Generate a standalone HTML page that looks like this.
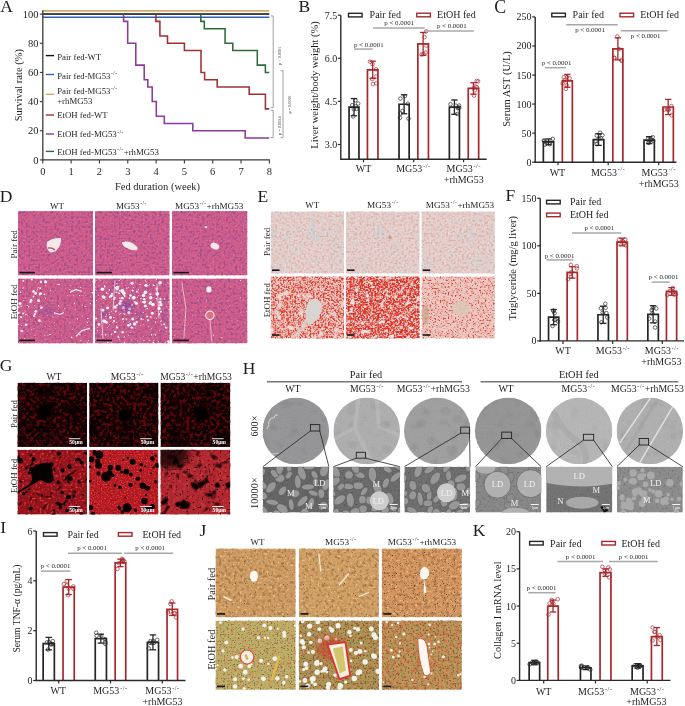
<!DOCTYPE html>
<html><head><meta charset="utf-8"><style>
html,body{margin:0;padding:0;background:#fff;}
svg{display:block;will-change:transform;opacity:0.999;}
text{font-family:'Liberation Serif', serif;}
</style></head><body>
<svg width="685" height="706" viewBox="0 0 685 706">
<defs><filter id="soft" x="-50%" y="-50%" width="200%" height="200%"><feGaussianBlur stdDeviation="2.5"/></filter><radialGradient id="gdark"><stop offset="0" stop-color="#000" stop-opacity="1"/><stop offset="0.6" stop-color="#000" stop-opacity="0.9"/><stop offset="1" stop-color="#000" stop-opacity="0"/></radialGradient><clipPath id="c1"><rect x="17.90" y="211.10" width="75.20" height="64.50"/></clipPath><filter id="f2" x="0" y="0" width="100%" height="100%" color-interpolation-filters="sRGB"><feTurbulence type="fractalNoise" baseFrequency="0.42" numOctaves="1" seed="10"/><feColorMatrix type="matrix" values="0 0 0 0 0.463 0 0 0 0 0.259 0 0 0 0 0.549 1 0 0 0 0"/><feComponentTransfer><feFuncA type="linear" slope="5" intercept="-2.45"/></feComponentTransfer><feGaussianBlur stdDeviation="0.5"/><feComponentTransfer><feFuncA type="linear" slope="0.5"/></feComponentTransfer></filter><filter id="f3" x="0" y="0" width="100%" height="100%" color-interpolation-filters="sRGB"><feTurbulence type="fractalNoise" baseFrequency="0.6" numOctaves="1" seed="50"/><feColorMatrix type="matrix" values="0 0 0 0 0.925 0 0 0 0 0.588 0 0 0 0 0.725 1 0 0 0 0"/><feComponentTransfer><feFuncA type="linear" slope="5" intercept="-2.9"/></feComponentTransfer><feGaussianBlur stdDeviation="0.4"/><feComponentTransfer><feFuncA type="linear" slope="0.45"/></feComponentTransfer></filter><clipPath id="c4"><rect x="95.00" y="211.10" width="74.70" height="64.50"/></clipPath><filter id="f5" x="0" y="0" width="100%" height="100%" color-interpolation-filters="sRGB"><feTurbulence type="fractalNoise" baseFrequency="0.42" numOctaves="1" seed="11"/><feColorMatrix type="matrix" values="0 0 0 0 0.463 0 0 0 0 0.259 0 0 0 0 0.549 1 0 0 0 0"/><feComponentTransfer><feFuncA type="linear" slope="5" intercept="-2.45"/></feComponentTransfer><feGaussianBlur stdDeviation="0.5"/><feComponentTransfer><feFuncA type="linear" slope="0.5"/></feComponentTransfer></filter><filter id="f6" x="0" y="0" width="100%" height="100%" color-interpolation-filters="sRGB"><feTurbulence type="fractalNoise" baseFrequency="0.6" numOctaves="1" seed="51"/><feColorMatrix type="matrix" values="0 0 0 0 0.925 0 0 0 0 0.588 0 0 0 0 0.725 1 0 0 0 0"/><feComponentTransfer><feFuncA type="linear" slope="5" intercept="-2.9"/></feComponentTransfer><feGaussianBlur stdDeviation="0.4"/><feComponentTransfer><feFuncA type="linear" slope="0.45"/></feComponentTransfer></filter><clipPath id="c7"><rect x="171.90" y="211.10" width="75.60" height="64.50"/></clipPath><filter id="f8" x="0" y="0" width="100%" height="100%" color-interpolation-filters="sRGB"><feTurbulence type="fractalNoise" baseFrequency="0.42" numOctaves="1" seed="12"/><feColorMatrix type="matrix" values="0 0 0 0 0.463 0 0 0 0 0.259 0 0 0 0 0.549 1 0 0 0 0"/><feComponentTransfer><feFuncA type="linear" slope="5" intercept="-2.45"/></feComponentTransfer><feGaussianBlur stdDeviation="0.5"/><feComponentTransfer><feFuncA type="linear" slope="0.5"/></feComponentTransfer></filter><filter id="f9" x="0" y="0" width="100%" height="100%" color-interpolation-filters="sRGB"><feTurbulence type="fractalNoise" baseFrequency="0.6" numOctaves="1" seed="52"/><feColorMatrix type="matrix" values="0 0 0 0 0.925 0 0 0 0 0.588 0 0 0 0 0.725 1 0 0 0 0"/><feComponentTransfer><feFuncA type="linear" slope="5" intercept="-2.9"/></feComponentTransfer><feGaussianBlur stdDeviation="0.4"/><feComponentTransfer><feFuncA type="linear" slope="0.45"/></feComponentTransfer></filter><clipPath id="c10"><rect x="17.90" y="278.40" width="75.20" height="65.00"/></clipPath><filter id="f11" x="0" y="0" width="100%" height="100%" color-interpolation-filters="sRGB"><feTurbulence type="fractalNoise" baseFrequency="0.42" numOctaves="1" seed="13"/><feColorMatrix type="matrix" values="0 0 0 0 0.463 0 0 0 0 0.259 0 0 0 0 0.549 1 0 0 0 0"/><feComponentTransfer><feFuncA type="linear" slope="5" intercept="-2.45"/></feComponentTransfer><feGaussianBlur stdDeviation="0.5"/><feComponentTransfer><feFuncA type="linear" slope="0.5"/></feComponentTransfer></filter><filter id="f12" x="0" y="0" width="100%" height="100%" color-interpolation-filters="sRGB"><feTurbulence type="fractalNoise" baseFrequency="0.6" numOctaves="1" seed="53"/><feColorMatrix type="matrix" values="0 0 0 0 0.925 0 0 0 0 0.588 0 0 0 0 0.725 1 0 0 0 0"/><feComponentTransfer><feFuncA type="linear" slope="5" intercept="-2.9"/></feComponentTransfer><feGaussianBlur stdDeviation="0.4"/><feComponentTransfer><feFuncA type="linear" slope="0.45"/></feComponentTransfer></filter><filter id="f13" x="0" y="0" width="100%" height="100%" color-interpolation-filters="sRGB"><feTurbulence type="fractalNoise" baseFrequency="0.38" numOctaves="2" seed="20"/><feColorMatrix type="matrix" values="0 0 0 0 0.980 0 0 0 0 0.961 0 0 0 0 0.973 1 0 0 0 0"/><feComponentTransfer><feFuncA type="linear" slope="7" intercept="-4.9"/></feComponentTransfer><feGaussianBlur stdDeviation="0.3"/></filter><clipPath id="c14"><rect x="95.00" y="278.40" width="74.70" height="65.00"/></clipPath><filter id="f15" x="0" y="0" width="100%" height="100%" color-interpolation-filters="sRGB"><feTurbulence type="fractalNoise" baseFrequency="0.42" numOctaves="1" seed="14"/><feColorMatrix type="matrix" values="0 0 0 0 0.463 0 0 0 0 0.259 0 0 0 0 0.549 1 0 0 0 0"/><feComponentTransfer><feFuncA type="linear" slope="5" intercept="-2.45"/></feComponentTransfer><feGaussianBlur stdDeviation="0.5"/><feComponentTransfer><feFuncA type="linear" slope="0.5"/></feComponentTransfer></filter><filter id="f16" x="0" y="0" width="100%" height="100%" color-interpolation-filters="sRGB"><feTurbulence type="fractalNoise" baseFrequency="0.6" numOctaves="1" seed="54"/><feColorMatrix type="matrix" values="0 0 0 0 0.925 0 0 0 0 0.588 0 0 0 0 0.725 1 0 0 0 0"/><feComponentTransfer><feFuncA type="linear" slope="5" intercept="-2.9"/></feComponentTransfer><feGaussianBlur stdDeviation="0.4"/><feComponentTransfer><feFuncA type="linear" slope="0.45"/></feComponentTransfer></filter><filter id="f17" x="0" y="0" width="100%" height="100%" color-interpolation-filters="sRGB"><feTurbulence type="fractalNoise" baseFrequency="0.38" numOctaves="2" seed="21"/><feColorMatrix type="matrix" values="0 0 0 0 0.980 0 0 0 0 0.961 0 0 0 0 0.973 1 0 0 0 0"/><feComponentTransfer><feFuncA type="linear" slope="7" intercept="-4.6"/></feComponentTransfer><feGaussianBlur stdDeviation="0.3"/></filter><filter id="f18" x="0" y="0" width="100%" height="100%" color-interpolation-filters="sRGB"><feTurbulence type="fractalNoise" baseFrequency="0.1" numOctaves="2" seed="23"/><feColorMatrix type="matrix" values="0 0 0 0 0.471 0 0 0 0 0.314 0 0 0 0 0.627 1 0 0 0 0"/><feComponentTransfer><feFuncA type="linear" slope="5" intercept="-2.9"/></feComponentTransfer><feGaussianBlur stdDeviation="0.6"/><feComponentTransfer><feFuncA type="linear" slope="0.35"/></feComponentTransfer></filter><clipPath id="c19"><rect x="171.90" y="278.40" width="75.60" height="65.00"/></clipPath><filter id="f20" x="0" y="0" width="100%" height="100%" color-interpolation-filters="sRGB"><feTurbulence type="fractalNoise" baseFrequency="0.42" numOctaves="1" seed="15"/><feColorMatrix type="matrix" values="0 0 0 0 0.463 0 0 0 0 0.259 0 0 0 0 0.549 1 0 0 0 0"/><feComponentTransfer><feFuncA type="linear" slope="5" intercept="-2.45"/></feComponentTransfer><feGaussianBlur stdDeviation="0.5"/><feComponentTransfer><feFuncA type="linear" slope="0.5"/></feComponentTransfer></filter><filter id="f21" x="0" y="0" width="100%" height="100%" color-interpolation-filters="sRGB"><feTurbulence type="fractalNoise" baseFrequency="0.6" numOctaves="1" seed="55"/><feColorMatrix type="matrix" values="0 0 0 0 0.925 0 0 0 0 0.588 0 0 0 0 0.725 1 0 0 0 0"/><feComponentTransfer><feFuncA type="linear" slope="5" intercept="-2.9"/></feComponentTransfer><feGaussianBlur stdDeviation="0.4"/><feComponentTransfer><feFuncA type="linear" slope="0.45"/></feComponentTransfer></filter><filter id="f22" x="0" y="0" width="100%" height="100%" color-interpolation-filters="sRGB"><feTurbulence type="fractalNoise" baseFrequency="0.38" numOctaves="2" seed="22"/><feColorMatrix type="matrix" values="0 0 0 0 0.980 0 0 0 0 0.961 0 0 0 0 0.973 1 0 0 0 0"/><feComponentTransfer><feFuncA type="linear" slope="7" intercept="-5.2"/></feComponentTransfer><feGaussianBlur stdDeviation="0.3"/></filter><clipPath id="c23"><rect x="270.80" y="211.40" width="73.30" height="62.20"/></clipPath><filter id="f24" x="0" y="0" width="100%" height="100%" color-interpolation-filters="sRGB"><feTurbulence type="fractalNoise" baseFrequency="0.07" numOctaves="2" seed="30"/><feColorMatrix type="matrix" values="0 0 0 0 0.776 0 0 0 0 0.839 0 0 0 0 0.863 1 0 0 0 0"/><feComponentTransfer><feFuncA type="linear" slope="4" intercept="-2.2"/></feComponentTransfer><feGaussianBlur stdDeviation="0.8"/><feComponentTransfer><feFuncA type="linear" slope="0.5"/></feComponentTransfer></filter><filter id="f25" x="0" y="0" width="100%" height="100%" color-interpolation-filters="sRGB"><feTurbulence type="fractalNoise" baseFrequency="0.6" numOctaves="1" seed="41"/><feColorMatrix type="matrix" values="0 0 0 0 0.776 0 0 0 0 0.839 0 0 0 0 0.863 1 0 0 0 0"/><feComponentTransfer><feFuncA type="linear" slope="5" intercept="-2.5"/></feComponentTransfer><feGaussianBlur stdDeviation="0.45"/><feComponentTransfer><feFuncA type="linear" slope="0.7"/></feComponentTransfer></filter><filter id="f26" x="0" y="0" width="100%" height="100%" color-interpolation-filters="sRGB"><feTurbulence type="fractalNoise" baseFrequency="0.45" numOctaves="1" seed="35"/><feColorMatrix type="matrix" values="0 0 0 0 0.871 0 0 0 0 0.620 0 0 0 0 0.580 1 0 0 0 0"/><feComponentTransfer><feFuncA type="linear" slope="5" intercept="-2.4"/></feComponentTransfer><feGaussianBlur stdDeviation="0.5"/><feComponentTransfer><feFuncA type="linear" slope="0.6"/></feComponentTransfer></filter><filter id="f27" x="0" y="0" width="100%" height="100%" color-interpolation-filters="sRGB"><feTurbulence type="fractalNoise" baseFrequency="0.6" numOctaves="1" seed="38"/><feColorMatrix type="matrix" values="0 0 0 0 0.965 0 0 0 0 0.925 0 0 0 0 0.918 1 0 0 0 0"/><feComponentTransfer><feFuncA type="linear" slope="5" intercept="-2.8"/></feComponentTransfer><feGaussianBlur stdDeviation="0.4"/><feComponentTransfer><feFuncA type="linear" slope="0.5"/></feComponentTransfer></filter><clipPath id="c28"><rect x="345.90" y="211.40" width="73.70" height="62.20"/></clipPath><filter id="f29" x="0" y="0" width="100%" height="100%" color-interpolation-filters="sRGB"><feTurbulence type="fractalNoise" baseFrequency="0.07" numOctaves="2" seed="31"/><feColorMatrix type="matrix" values="0 0 0 0 0.776 0 0 0 0 0.839 0 0 0 0 0.863 1 0 0 0 0"/><feComponentTransfer><feFuncA type="linear" slope="4" intercept="-2.2"/></feComponentTransfer><feGaussianBlur stdDeviation="0.8"/><feComponentTransfer><feFuncA type="linear" slope="0.5"/></feComponentTransfer></filter><filter id="f30" x="0" y="0" width="100%" height="100%" color-interpolation-filters="sRGB"><feTurbulence type="fractalNoise" baseFrequency="0.6" numOctaves="1" seed="42"/><feColorMatrix type="matrix" values="0 0 0 0 0.776 0 0 0 0 0.839 0 0 0 0 0.863 1 0 0 0 0"/><feComponentTransfer><feFuncA type="linear" slope="5" intercept="-2.5"/></feComponentTransfer><feGaussianBlur stdDeviation="0.45"/><feComponentTransfer><feFuncA type="linear" slope="0.7"/></feComponentTransfer></filter><filter id="f31" x="0" y="0" width="100%" height="100%" color-interpolation-filters="sRGB"><feTurbulence type="fractalNoise" baseFrequency="0.45" numOctaves="1" seed="36"/><feColorMatrix type="matrix" values="0 0 0 0 0.871 0 0 0 0 0.620 0 0 0 0 0.580 1 0 0 0 0"/><feComponentTransfer><feFuncA type="linear" slope="5" intercept="-2.4"/></feComponentTransfer><feGaussianBlur stdDeviation="0.5"/><feComponentTransfer><feFuncA type="linear" slope="0.6"/></feComponentTransfer></filter><filter id="f32" x="0" y="0" width="100%" height="100%" color-interpolation-filters="sRGB"><feTurbulence type="fractalNoise" baseFrequency="0.6" numOctaves="1" seed="39"/><feColorMatrix type="matrix" values="0 0 0 0 0.965 0 0 0 0 0.925 0 0 0 0 0.918 1 0 0 0 0"/><feComponentTransfer><feFuncA type="linear" slope="5" intercept="-2.8"/></feComponentTransfer><feGaussianBlur stdDeviation="0.4"/><feComponentTransfer><feFuncA type="linear" slope="0.5"/></feComponentTransfer></filter><clipPath id="c33"><rect x="421.50" y="211.40" width="73.40" height="62.20"/></clipPath><filter id="f34" x="0" y="0" width="100%" height="100%" color-interpolation-filters="sRGB"><feTurbulence type="fractalNoise" baseFrequency="0.07" numOctaves="2" seed="32"/><feColorMatrix type="matrix" values="0 0 0 0 0.776 0 0 0 0 0.839 0 0 0 0 0.863 1 0 0 0 0"/><feComponentTransfer><feFuncA type="linear" slope="4" intercept="-2.2"/></feComponentTransfer><feGaussianBlur stdDeviation="0.8"/><feComponentTransfer><feFuncA type="linear" slope="0.5"/></feComponentTransfer></filter><filter id="f35" x="0" y="0" width="100%" height="100%" color-interpolation-filters="sRGB"><feTurbulence type="fractalNoise" baseFrequency="0.6" numOctaves="1" seed="43"/><feColorMatrix type="matrix" values="0 0 0 0 0.776 0 0 0 0 0.839 0 0 0 0 0.863 1 0 0 0 0"/><feComponentTransfer><feFuncA type="linear" slope="5" intercept="-2.5"/></feComponentTransfer><feGaussianBlur stdDeviation="0.45"/><feComponentTransfer><feFuncA type="linear" slope="0.7"/></feComponentTransfer></filter><filter id="f36" x="0" y="0" width="100%" height="100%" color-interpolation-filters="sRGB"><feTurbulence type="fractalNoise" baseFrequency="0.45" numOctaves="1" seed="37"/><feColorMatrix type="matrix" values="0 0 0 0 0.871 0 0 0 0 0.620 0 0 0 0 0.580 1 0 0 0 0"/><feComponentTransfer><feFuncA type="linear" slope="5" intercept="-2.4"/></feComponentTransfer><feGaussianBlur stdDeviation="0.5"/><feComponentTransfer><feFuncA type="linear" slope="0.6"/></feComponentTransfer></filter><filter id="f37" x="0" y="0" width="100%" height="100%" color-interpolation-filters="sRGB"><feTurbulence type="fractalNoise" baseFrequency="0.6" numOctaves="1" seed="40"/><feColorMatrix type="matrix" values="0 0 0 0 0.965 0 0 0 0 0.925 0 0 0 0 0.918 1 0 0 0 0"/><feComponentTransfer><feFuncA type="linear" slope="5" intercept="-2.8"/></feComponentTransfer><feGaussianBlur stdDeviation="0.4"/><feComponentTransfer><feFuncA type="linear" slope="0.5"/></feComponentTransfer></filter><clipPath id="c38"><rect x="270.80" y="276.40" width="73.30" height="62.00"/></clipPath><filter id="f39" x="0" y="0" width="100%" height="100%" color-interpolation-filters="sRGB"><feTurbulence type="fractalNoise" baseFrequency="0.6" numOctaves="1" seed="33"/><feColorMatrix type="matrix" values="0 0 0 0 0.871 0 0 0 0 0.235 0 0 0 0 0.180 1 0 0 0 0"/><feComponentTransfer><feFuncA type="linear" slope="5" intercept="-2.2"/></feComponentTransfer><feGaussianBlur stdDeviation="0.4"/></filter><filter id="f40" x="0" y="0" width="100%" height="100%" color-interpolation-filters="sRGB"><feTurbulence type="fractalNoise" baseFrequency="0.3" numOctaves="1" seed="42"/><feColorMatrix type="matrix" values="0 0 0 0 0.843 0 0 0 0 0.176 0 0 0 0 0.137 1 0 0 0 0"/><feComponentTransfer><feFuncA type="linear" slope="6" intercept="-3.7"/></feComponentTransfer><feGaussianBlur stdDeviation="0.5"/><feComponentTransfer><feFuncA type="linear" slope="0.8"/></feComponentTransfer></filter><filter id="f41" x="0" y="0" width="100%" height="100%" color-interpolation-filters="sRGB"><feTurbulence type="fractalNoise" baseFrequency="0.12" numOctaves="2" seed="36"/><feColorMatrix type="matrix" values="0 0 0 0 0.925 0 0 0 0 0.894 0 0 0 0 0.878 1 0 0 0 0"/><feComponentTransfer><feFuncA type="linear" slope="6" intercept="-3.5"/></feComponentTransfer><feGaussianBlur stdDeviation="0.6"/><feComponentTransfer><feFuncA type="linear" slope="0.8"/></feComponentTransfer></filter><clipPath id="c42"><rect x="345.90" y="276.40" width="73.70" height="62.00"/></clipPath><filter id="f43" x="0" y="0" width="100%" height="100%" color-interpolation-filters="sRGB"><feTurbulence type="fractalNoise" baseFrequency="0.6" numOctaves="1" seed="34"/><feColorMatrix type="matrix" values="0 0 0 0 0.871 0 0 0 0 0.204 0 0 0 0 0.157 1 0 0 0 0"/><feComponentTransfer><feFuncA type="linear" slope="5" intercept="-1.9"/></feComponentTransfer><feGaussianBlur stdDeviation="0.4"/></filter><filter id="f44" x="0" y="0" width="100%" height="100%" color-interpolation-filters="sRGB"><feTurbulence type="fractalNoise" baseFrequency="0.3" numOctaves="1" seed="43"/><feColorMatrix type="matrix" values="0 0 0 0 0.843 0 0 0 0 0.165 0 0 0 0 0.125 1 0 0 0 0"/><feComponentTransfer><feFuncA type="linear" slope="6" intercept="-3.4"/></feComponentTransfer><feGaussianBlur stdDeviation="0.5"/><feComponentTransfer><feFuncA type="linear" slope="0.8"/></feComponentTransfer></filter><filter id="f45" x="0" y="0" width="100%" height="100%" color-interpolation-filters="sRGB"><feTurbulence type="fractalNoise" baseFrequency="0.2" numOctaves="2" seed="37"/><feColorMatrix type="matrix" values="0 0 0 0 0.902 0 0 0 0 0.878 0 0 0 0 0.871 1 0 0 0 0"/><feComponentTransfer><feFuncA type="linear" slope="7" intercept="-4.1"/></feComponentTransfer><feGaussianBlur stdDeviation="0.4"/></filter><clipPath id="c46"><rect x="421.50" y="276.40" width="73.40" height="62.00"/></clipPath><filter id="f47" x="0" y="0" width="100%" height="100%" color-interpolation-filters="sRGB"><feTurbulence type="fractalNoise" baseFrequency="0.6" numOctaves="1" seed="35"/><feColorMatrix type="matrix" values="0 0 0 0 0.871 0 0 0 0 0.227 0 0 0 0 0.204 1 0 0 0 0"/><feComponentTransfer><feFuncA type="linear" slope="6" intercept="-3.3"/></feComponentTransfer><feGaussianBlur stdDeviation="0.35"/></filter><filter id="f48" x="0" y="0" width="100%" height="100%" color-interpolation-filters="sRGB"><feTurbulence type="fractalNoise" baseFrequency="0.35" numOctaves="1" seed="42"/><feColorMatrix type="matrix" values="0 0 0 0 0.871 0 0 0 0 0.510 0 0 0 0 0.463 1 0 0 0 0"/><feComponentTransfer><feFuncA type="linear" slope="4" intercept="-2.0"/></feComponentTransfer><feGaussianBlur stdDeviation="0.5"/><feComponentTransfer><feFuncA type="linear" slope="0.5"/></feComponentTransfer></filter><clipPath id="c49"><rect x="17.50" y="382.80" width="69.50" height="64.10"/></clipPath><filter id="f50" x="0" y="0" width="100%" height="100%" color-interpolation-filters="sRGB"><feTurbulence type="fractalNoise" baseFrequency="0.3" numOctaves="2" seed="50"/><feColorMatrix type="matrix" values="0 0 0 0 0.361 0 0 0 0 0.027 0 0 0 0 0.047 1 0 0 0 0"/><feComponentTransfer><feFuncA type="linear" slope="5" intercept="-2.3"/></feComponentTransfer><feGaussianBlur stdDeviation="0.5"/></filter><filter id="f51" x="0" y="0" width="100%" height="100%" color-interpolation-filters="sRGB"><feTurbulence type="fractalNoise" baseFrequency="0.6" numOctaves="1" seed="54"/><feColorMatrix type="matrix" values="0 0 0 0 0.471 0 0 0 0 0.047 0 0 0 0 0.071 1 0 0 0 0"/><feComponentTransfer><feFuncA type="linear" slope="5" intercept="-3.1"/></feComponentTransfer><feGaussianBlur stdDeviation="0.4"/><feComponentTransfer><feFuncA type="linear" slope="0.45"/></feComponentTransfer></filter><filter id="f52" x="0" y="0" width="100%" height="100%" color-interpolation-filters="sRGB"><feTurbulence type="fractalNoise" baseFrequency="0.06" numOctaves="1" seed="59"/><feColorMatrix type="matrix" values="0 0 0 0 0.016 0 0 0 0 0.000 0 0 0 0 0.000 1 0 0 0 0"/><feComponentTransfer><feFuncA type="linear" slope="5" intercept="-2.8"/></feComponentTransfer><feGaussianBlur stdDeviation="1.0"/><feComponentTransfer><feFuncA type="linear" slope="0.7"/></feComponentTransfer></filter><clipPath id="c53"><rect x="89.20" y="382.80" width="69.20" height="64.10"/></clipPath><filter id="f54" x="0" y="0" width="100%" height="100%" color-interpolation-filters="sRGB"><feTurbulence type="fractalNoise" baseFrequency="0.3" numOctaves="2" seed="51"/><feColorMatrix type="matrix" values="0 0 0 0 0.361 0 0 0 0 0.027 0 0 0 0 0.047 1 0 0 0 0"/><feComponentTransfer><feFuncA type="linear" slope="5" intercept="-2.3"/></feComponentTransfer><feGaussianBlur stdDeviation="0.5"/></filter><filter id="f55" x="0" y="0" width="100%" height="100%" color-interpolation-filters="sRGB"><feTurbulence type="fractalNoise" baseFrequency="0.6" numOctaves="1" seed="55"/><feColorMatrix type="matrix" values="0 0 0 0 0.471 0 0 0 0 0.047 0 0 0 0 0.071 1 0 0 0 0"/><feComponentTransfer><feFuncA type="linear" slope="5" intercept="-3.1"/></feComponentTransfer><feGaussianBlur stdDeviation="0.4"/><feComponentTransfer><feFuncA type="linear" slope="0.45"/></feComponentTransfer></filter><filter id="f56" x="0" y="0" width="100%" height="100%" color-interpolation-filters="sRGB"><feTurbulence type="fractalNoise" baseFrequency="0.06" numOctaves="1" seed="60"/><feColorMatrix type="matrix" values="0 0 0 0 0.016 0 0 0 0 0.000 0 0 0 0 0.000 1 0 0 0 0"/><feComponentTransfer><feFuncA type="linear" slope="5" intercept="-2.8"/></feComponentTransfer><feGaussianBlur stdDeviation="1.0"/><feComponentTransfer><feFuncA type="linear" slope="0.7"/></feComponentTransfer></filter><clipPath id="c57"><rect x="160.50" y="382.80" width="69.80" height="64.10"/></clipPath><filter id="f58" x="0" y="0" width="100%" height="100%" color-interpolation-filters="sRGB"><feTurbulence type="fractalNoise" baseFrequency="0.3" numOctaves="2" seed="52"/><feColorMatrix type="matrix" values="0 0 0 0 0.361 0 0 0 0 0.027 0 0 0 0 0.047 1 0 0 0 0"/><feComponentTransfer><feFuncA type="linear" slope="5" intercept="-2.3"/></feComponentTransfer><feGaussianBlur stdDeviation="0.5"/></filter><filter id="f59" x="0" y="0" width="100%" height="100%" color-interpolation-filters="sRGB"><feTurbulence type="fractalNoise" baseFrequency="0.6" numOctaves="1" seed="56"/><feColorMatrix type="matrix" values="0 0 0 0 0.471 0 0 0 0 0.047 0 0 0 0 0.071 1 0 0 0 0"/><feComponentTransfer><feFuncA type="linear" slope="5" intercept="-3.1"/></feComponentTransfer><feGaussianBlur stdDeviation="0.4"/><feComponentTransfer><feFuncA type="linear" slope="0.45"/></feComponentTransfer></filter><filter id="f60" x="0" y="0" width="100%" height="100%" color-interpolation-filters="sRGB"><feTurbulence type="fractalNoise" baseFrequency="0.06" numOctaves="1" seed="61"/><feColorMatrix type="matrix" values="0 0 0 0 0.016 0 0 0 0 0.000 0 0 0 0 0.000 1 0 0 0 0"/><feComponentTransfer><feFuncA type="linear" slope="5" intercept="-2.8"/></feComponentTransfer><feGaussianBlur stdDeviation="1.0"/><feComponentTransfer><feFuncA type="linear" slope="0.7"/></feComponentTransfer></filter><clipPath id="c61"><rect x="17.50" y="449.70" width="69.50" height="64.90"/></clipPath><filter id="f62" x="0" y="0" width="100%" height="100%" color-interpolation-filters="sRGB"><feTurbulence type="fractalNoise" baseFrequency="0.45" numOctaves="1" seed="53"/><feColorMatrix type="matrix" values="0 0 0 0 0.855 0 0 0 0 0.204 0 0 0 0 0.235 1 0 0 0 0"/><feComponentTransfer><feFuncA type="linear" slope="5" intercept="-2.7"/></feComponentTransfer><feGaussianBlur stdDeviation="0.5"/></filter><filter id="f63" x="0" y="0" width="100%" height="100%" color-interpolation-filters="sRGB"><feTurbulence type="fractalNoise" baseFrequency="0.45" numOctaves="1" seed="59"/><feColorMatrix type="matrix" values="0 0 0 0 0.196 0 0 0 0 0.016 0 0 0 0 0.024 1 0 0 0 0"/><feComponentTransfer><feFuncA type="linear" slope="5" intercept="-2.9"/></feComponentTransfer><feGaussianBlur stdDeviation="0.4"/><feComponentTransfer><feFuncA type="linear" slope="0.6"/></feComponentTransfer></filter><filter id="f64" x="0" y="0" width="100%" height="100%" color-interpolation-filters="sRGB"><feTurbulence type="fractalNoise" baseFrequency="0.14" numOctaves="2" seed="55"/><feColorMatrix type="matrix" values="0 0 0 0 0.031 0 0 0 0 0.000 0 0 0 0 0.000 1 0 0 0 0"/><feComponentTransfer><feFuncA type="linear" slope="7" intercept="-4.3"/></feComponentTransfer><feGaussianBlur stdDeviation="0.3"/></filter><clipPath id="c65"><rect x="89.20" y="449.70" width="69.20" height="64.90"/></clipPath><filter id="f66" x="0" y="0" width="100%" height="100%" color-interpolation-filters="sRGB"><feTurbulence type="fractalNoise" baseFrequency="0.7" numOctaves="1" seed="54"/><feColorMatrix type="matrix" values="0 0 0 0 0.910 0 0 0 0 0.235 0 0 0 0 0.255 1 0 0 0 0"/><feComponentTransfer><feFuncA type="linear" slope="5" intercept="-2.6"/></feComponentTransfer><feGaussianBlur stdDeviation="0.35"/></filter><filter id="f67" x="0" y="0" width="100%" height="100%" color-interpolation-filters="sRGB"><feTurbulence type="fractalNoise" baseFrequency="0.6" numOctaves="1" seed="60"/><feColorMatrix type="matrix" values="0 0 0 0 0.275 0 0 0 0 0.024 0 0 0 0 0.031 1 0 0 0 0"/><feComponentTransfer><feFuncA type="linear" slope="5" intercept="-3.0"/></feComponentTransfer><feGaussianBlur stdDeviation="0.35"/><feComponentTransfer><feFuncA type="linear" slope="0.6"/></feComponentTransfer></filter><clipPath id="c68"><rect x="160.50" y="449.70" width="69.80" height="64.90"/></clipPath><filter id="f69" x="0" y="0" width="100%" height="100%" color-interpolation-filters="sRGB"><feTurbulence type="fractalNoise" baseFrequency="0.3" numOctaves="2" seed="60"/><feColorMatrix type="matrix" values="0 0 0 0 0.804 0 0 0 0 0.227 0 0 0 0 0.259 1 0 0 0 0"/><feComponentTransfer><feFuncA type="linear" slope="5" intercept="-2.5"/></feComponentTransfer><feGaussianBlur stdDeviation="0.6"/><feComponentTransfer><feFuncA type="linear" slope="0.7"/></feComponentTransfer></filter><filter id="f70" x="0" y="0" width="100%" height="100%" color-interpolation-filters="sRGB"><feTurbulence type="fractalNoise" baseFrequency="0.1" numOctaves="2" seed="55"/><feColorMatrix type="matrix" values="0 0 0 0 0.039 0 0 0 0 0.000 0 0 0 0 0.000 1 0 0 0 0"/><feComponentTransfer><feFuncA type="linear" slope="6" intercept="-3.3"/></feComponentTransfer><feGaussianBlur stdDeviation="0.4"/></filter><filter id="f71" x="0" y="0" width="100%" height="100%" color-interpolation-filters="sRGB"><feTurbulence type="fractalNoise" baseFrequency="0.45" numOctaves="1" seed="58"/><feColorMatrix type="matrix" values="0 0 0 0 0.039 0 0 0 0 0.000 0 0 0 0 0.000 1 0 0 0 0"/><feComponentTransfer><feFuncA type="linear" slope="6" intercept="-3.7"/></feComponentTransfer><feGaussianBlur stdDeviation="0.3"/></filter><clipPath id="c72"><circle cx="295.8" cy="430.9" r="33.3"/></clipPath><filter id="f73" x="0" y="0" width="100%" height="100%" color-interpolation-filters="sRGB"><feTurbulence type="fractalNoise" baseFrequency="0.1" numOctaves="2" seed="70"/><feColorMatrix type="matrix" values="0 0 0 0 0.490 0 0 0 0 0.490 0 0 0 0 0.498 1 0 0 0 0"/><feComponentTransfer><feFuncA type="linear" slope="5" intercept="-2.9"/></feComponentTransfer><feGaussianBlur stdDeviation="0.8"/><feComponentTransfer><feFuncA type="linear" slope="0.45"/></feComponentTransfer></filter><filter id="f74" x="0" y="0" width="100%" height="100%" color-interpolation-filters="sRGB"><feTurbulence type="fractalNoise" baseFrequency="0.7" numOctaves="1" seed="80"/><feColorMatrix type="matrix" values="0 0 0 0 0.471 0 0 0 0 0.471 0 0 0 0 0.478 1 0 0 0 0"/><feComponentTransfer><feFuncA type="linear" slope="5" intercept="-2.9"/></feComponentTransfer><feGaussianBlur stdDeviation="0.3"/><feComponentTransfer><feFuncA type="linear" slope="0.35"/></feComponentTransfer></filter><clipPath id="c75"><rect x="262.80" y="466.70" width="66.10" height="45.90"/></clipPath><filter id="f76" x="0" y="0" width="100%" height="100%" color-interpolation-filters="sRGB"><feTurbulence type="fractalNoise" baseFrequency="0.5" numOctaves="1" seed="90"/><feColorMatrix type="matrix" values="0 0 0 0 0.306 0 0 0 0 0.306 0 0 0 0 0.306 1 0 0 0 0"/><feComponentTransfer><feFuncA type="linear" slope="5" intercept="-2.8"/></feComponentTransfer><feGaussianBlur stdDeviation="0.3"/><feComponentTransfer><feFuncA type="linear" slope="0.6"/></feComponentTransfer></filter><clipPath id="c77"><circle cx="366.7" cy="430.9" r="33.3"/></clipPath><filter id="f78" x="0" y="0" width="100%" height="100%" color-interpolation-filters="sRGB"><feTurbulence type="fractalNoise" baseFrequency="0.1" numOctaves="2" seed="71"/><feColorMatrix type="matrix" values="0 0 0 0 0.584 0 0 0 0 0.584 0 0 0 0 0.584 1 0 0 0 0"/><feComponentTransfer><feFuncA type="linear" slope="5" intercept="-2.9"/></feComponentTransfer><feGaussianBlur stdDeviation="0.8"/><feComponentTransfer><feFuncA type="linear" slope="0.45"/></feComponentTransfer></filter><filter id="f79" x="0" y="0" width="100%" height="100%" color-interpolation-filters="sRGB"><feTurbulence type="fractalNoise" baseFrequency="0.7" numOctaves="1" seed="81"/><feColorMatrix type="matrix" values="0 0 0 0 0.565 0 0 0 0 0.565 0 0 0 0 0.565 1 0 0 0 0"/><feComponentTransfer><feFuncA type="linear" slope="5" intercept="-2.9"/></feComponentTransfer><feGaussianBlur stdDeviation="0.3"/><feComponentTransfer><feFuncA type="linear" slope="0.35"/></feComponentTransfer></filter><clipPath id="c80"><rect x="333.30" y="466.70" width="66.80" height="45.90"/></clipPath><filter id="f81" x="0" y="0" width="100%" height="100%" color-interpolation-filters="sRGB"><feTurbulence type="fractalNoise" baseFrequency="0.5" numOctaves="1" seed="91"/><feColorMatrix type="matrix" values="0 0 0 0 0.306 0 0 0 0 0.306 0 0 0 0 0.306 1 0 0 0 0"/><feComponentTransfer><feFuncA type="linear" slope="5" intercept="-2.8"/></feComponentTransfer><feGaussianBlur stdDeviation="0.3"/><feComponentTransfer><feFuncA type="linear" slope="0.6"/></feComponentTransfer></filter><clipPath id="c82"><circle cx="437.3" cy="430.9" r="33.3"/></clipPath><filter id="f83" x="0" y="0" width="100%" height="100%" color-interpolation-filters="sRGB"><feTurbulence type="fractalNoise" baseFrequency="0.1" numOctaves="2" seed="72"/><feColorMatrix type="matrix" values="0 0 0 0 0.529 0 0 0 0 0.529 0 0 0 0 0.529 1 0 0 0 0"/><feComponentTransfer><feFuncA type="linear" slope="5" intercept="-2.9"/></feComponentTransfer><feGaussianBlur stdDeviation="0.8"/><feComponentTransfer><feFuncA type="linear" slope="0.45"/></feComponentTransfer></filter><filter id="f84" x="0" y="0" width="100%" height="100%" color-interpolation-filters="sRGB"><feTurbulence type="fractalNoise" baseFrequency="0.7" numOctaves="1" seed="82"/><feColorMatrix type="matrix" values="0 0 0 0 0.510 0 0 0 0 0.510 0 0 0 0 0.510 1 0 0 0 0"/><feComponentTransfer><feFuncA type="linear" slope="5" intercept="-2.9"/></feComponentTransfer><feGaussianBlur stdDeviation="0.3"/><feComponentTransfer><feFuncA type="linear" slope="0.35"/></feComponentTransfer></filter><clipPath id="c85"><rect x="404.40" y="466.70" width="65.70" height="45.90"/></clipPath><filter id="f86" x="0" y="0" width="100%" height="100%" color-interpolation-filters="sRGB"><feTurbulence type="fractalNoise" baseFrequency="0.5" numOctaves="1" seed="92"/><feColorMatrix type="matrix" values="0 0 0 0 0.306 0 0 0 0 0.306 0 0 0 0 0.306 1 0 0 0 0"/><feComponentTransfer><feFuncA type="linear" slope="5" intercept="-2.8"/></feComponentTransfer><feGaussianBlur stdDeviation="0.3"/><feComponentTransfer><feFuncA type="linear" slope="0.6"/></feComponentTransfer></filter><clipPath id="c87"><circle cx="508.2" cy="430.9" r="33.3"/></clipPath><filter id="f88" x="0" y="0" width="100%" height="100%" color-interpolation-filters="sRGB"><feTurbulence type="fractalNoise" baseFrequency="0.1" numOctaves="2" seed="73"/><feColorMatrix type="matrix" values="0 0 0 0 0.490 0 0 0 0 0.490 0 0 0 0 0.490 1 0 0 0 0"/><feComponentTransfer><feFuncA type="linear" slope="5" intercept="-2.9"/></feComponentTransfer><feGaussianBlur stdDeviation="0.8"/><feComponentTransfer><feFuncA type="linear" slope="0.45"/></feComponentTransfer></filter><filter id="f89" x="0" y="0" width="100%" height="100%" color-interpolation-filters="sRGB"><feTurbulence type="fractalNoise" baseFrequency="0.7" numOctaves="1" seed="83"/><feColorMatrix type="matrix" values="0 0 0 0 0.471 0 0 0 0 0.471 0 0 0 0 0.471 1 0 0 0 0"/><feComponentTransfer><feFuncA type="linear" slope="5" intercept="-2.9"/></feComponentTransfer><feGaussianBlur stdDeviation="0.3"/><feComponentTransfer><feFuncA type="linear" slope="0.35"/></feComponentTransfer></filter><clipPath id="c90"><rect x="475.50" y="466.70" width="65.70" height="45.90"/></clipPath><filter id="f91" x="0" y="0" width="100%" height="100%" color-interpolation-filters="sRGB"><feTurbulence type="fractalNoise" baseFrequency="0.5" numOctaves="1" seed="93"/><feColorMatrix type="matrix" values="0 0 0 0 0.306 0 0 0 0 0.306 0 0 0 0 0.306 1 0 0 0 0"/><feComponentTransfer><feFuncA type="linear" slope="5" intercept="-2.8"/></feComponentTransfer><feGaussianBlur stdDeviation="0.3"/><feComponentTransfer><feFuncA type="linear" slope="0.35"/></feComponentTransfer></filter><clipPath id="c92"><circle cx="579.1" cy="430.9" r="33.3"/></clipPath><filter id="f93" x="0" y="0" width="100%" height="100%" color-interpolation-filters="sRGB"><feTurbulence type="fractalNoise" baseFrequency="0.1" numOctaves="2" seed="74"/><feColorMatrix type="matrix" values="0 0 0 0 0.616 0 0 0 0 0.616 0 0 0 0 0.616 1 0 0 0 0"/><feComponentTransfer><feFuncA type="linear" slope="5" intercept="-2.9"/></feComponentTransfer><feGaussianBlur stdDeviation="0.8"/><feComponentTransfer><feFuncA type="linear" slope="0.45"/></feComponentTransfer></filter><filter id="f94" x="0" y="0" width="100%" height="100%" color-interpolation-filters="sRGB"><feTurbulence type="fractalNoise" baseFrequency="0.7" numOctaves="1" seed="84"/><feColorMatrix type="matrix" values="0 0 0 0 0.596 0 0 0 0 0.596 0 0 0 0 0.596 1 0 0 0 0"/><feComponentTransfer><feFuncA type="linear" slope="5" intercept="-2.9"/></feComponentTransfer><feGaussianBlur stdDeviation="0.3"/><feComponentTransfer><feFuncA type="linear" slope="0.35"/></feComponentTransfer></filter><clipPath id="c95"><rect x="546.20" y="466.70" width="66.10" height="45.90"/></clipPath><filter id="f96" x="0" y="0" width="100%" height="100%" color-interpolation-filters="sRGB"><feTurbulence type="fractalNoise" baseFrequency="0.5" numOctaves="1" seed="94"/><feColorMatrix type="matrix" values="0 0 0 0 0.306 0 0 0 0 0.306 0 0 0 0 0.306 1 0 0 0 0"/><feComponentTransfer><feFuncA type="linear" slope="5" intercept="-2.8"/></feComponentTransfer><feGaussianBlur stdDeviation="0.3"/><feComponentTransfer><feFuncA type="linear" slope="0.35"/></feComponentTransfer></filter><clipPath id="c97"><circle cx="649.8" cy="430.9" r="33.3"/></clipPath><filter id="f98" x="0" y="0" width="100%" height="100%" color-interpolation-filters="sRGB"><feTurbulence type="fractalNoise" baseFrequency="0.1" numOctaves="2" seed="75"/><feColorMatrix type="matrix" values="0 0 0 0 0.592 0 0 0 0 0.592 0 0 0 0 0.592 1 0 0 0 0"/><feComponentTransfer><feFuncA type="linear" slope="5" intercept="-2.9"/></feComponentTransfer><feGaussianBlur stdDeviation="0.8"/><feComponentTransfer><feFuncA type="linear" slope="0.45"/></feComponentTransfer></filter><filter id="f99" x="0" y="0" width="100%" height="100%" color-interpolation-filters="sRGB"><feTurbulence type="fractalNoise" baseFrequency="0.7" numOctaves="1" seed="85"/><feColorMatrix type="matrix" values="0 0 0 0 0.573 0 0 0 0 0.573 0 0 0 0 0.573 1 0 0 0 0"/><feComponentTransfer><feFuncA type="linear" slope="5" intercept="-2.9"/></feComponentTransfer><feGaussianBlur stdDeviation="0.3"/><feComponentTransfer><feFuncA type="linear" slope="0.35"/></feComponentTransfer></filter><clipPath id="c100"><rect x="616.80" y="466.70" width="66.00" height="45.90"/></clipPath><filter id="f101" x="0" y="0" width="100%" height="100%" color-interpolation-filters="sRGB"><feTurbulence type="fractalNoise" baseFrequency="0.5" numOctaves="1" seed="95"/><feColorMatrix type="matrix" values="0 0 0 0 0.306 0 0 0 0 0.306 0 0 0 0 0.306 1 0 0 0 0"/><feComponentTransfer><feFuncA type="linear" slope="5" intercept="-2.8"/></feComponentTransfer><feGaussianBlur stdDeviation="0.3"/><feComponentTransfer><feFuncA type="linear" slope="0.35"/></feComponentTransfer></filter><clipPath id="c102"><rect x="215.50" y="548.50" width="80.20" height="68.80"/></clipPath><filter id="f103" x="0" y="0" width="100%" height="100%" color-interpolation-filters="sRGB"><feTurbulence type="fractalNoise" baseFrequency="0.32" numOctaves="1" seed="150"/><feColorMatrix type="matrix" values="0 0 0 0 0.647 0 0 0 0 0.451 0 0 0 0 0.275 1 0 0 0 0"/><feComponentTransfer><feFuncA type="linear" slope="5" intercept="-2.5"/></feComponentTransfer><feGaussianBlur stdDeviation="0.6"/><feComponentTransfer><feFuncA type="linear" slope="0.75"/></feComponentTransfer></filter><filter id="f104" x="0" y="0" width="100%" height="100%" color-interpolation-filters="sRGB"><feTurbulence type="fractalNoise" baseFrequency="0.45" numOctaves="1" seed="155"/><feColorMatrix type="matrix" values="0 0 0 0 0.933 0 0 0 0 0.831 0 0 0 0 0.647 1 0 0 0 0"/><feComponentTransfer><feFuncA type="linear" slope="6" intercept="-3.5"/></feComponentTransfer><feGaussianBlur stdDeviation="0.4"/><feComponentTransfer><feFuncA type="linear" slope="0.6"/></feComponentTransfer></filter><filter id="f105" x="0" y="0" width="100%" height="100%" color-interpolation-filters="sRGB"><feTurbulence type="fractalNoise" baseFrequency="0.9" numOctaves="1" seed="159"/><feColorMatrix type="matrix" values="0 0 0 0 0.275 0 0 0 0 0.216 0 0 0 0 0.157 1 0 0 0 0"/><feComponentTransfer><feFuncA type="linear" slope="6" intercept="-4.0"/></feComponentTransfer><feGaussianBlur stdDeviation="0.3"/><feComponentTransfer><feFuncA type="linear" slope="0.85"/></feComponentTransfer></filter><clipPath id="c106"><rect x="298.80" y="548.50" width="80.10" height="68.80"/></clipPath><filter id="f107" x="0" y="0" width="100%" height="100%" color-interpolation-filters="sRGB"><feTurbulence type="fractalNoise" baseFrequency="0.32" numOctaves="1" seed="151"/><feColorMatrix type="matrix" values="0 0 0 0 0.647 0 0 0 0 0.451 0 0 0 0 0.275 1 0 0 0 0"/><feComponentTransfer><feFuncA type="linear" slope="5" intercept="-2.5"/></feComponentTransfer><feGaussianBlur stdDeviation="0.6"/><feComponentTransfer><feFuncA type="linear" slope="0.75"/></feComponentTransfer></filter><filter id="f108" x="0" y="0" width="100%" height="100%" color-interpolation-filters="sRGB"><feTurbulence type="fractalNoise" baseFrequency="0.45" numOctaves="1" seed="156"/><feColorMatrix type="matrix" values="0 0 0 0 0.933 0 0 0 0 0.831 0 0 0 0 0.647 1 0 0 0 0"/><feComponentTransfer><feFuncA type="linear" slope="6" intercept="-3.5"/></feComponentTransfer><feGaussianBlur stdDeviation="0.4"/><feComponentTransfer><feFuncA type="linear" slope="0.6"/></feComponentTransfer></filter><filter id="f109" x="0" y="0" width="100%" height="100%" color-interpolation-filters="sRGB"><feTurbulence type="fractalNoise" baseFrequency="0.9" numOctaves="1" seed="160"/><feColorMatrix type="matrix" values="0 0 0 0 0.275 0 0 0 0 0.216 0 0 0 0 0.157 1 0 0 0 0"/><feComponentTransfer><feFuncA type="linear" slope="6" intercept="-4.0"/></feComponentTransfer><feGaussianBlur stdDeviation="0.3"/><feComponentTransfer><feFuncA type="linear" slope="0.85"/></feComponentTransfer></filter><clipPath id="c110"><rect x="381.80" y="548.50" width="80.00" height="68.80"/></clipPath><filter id="f111" x="0" y="0" width="100%" height="100%" color-interpolation-filters="sRGB"><feTurbulence type="fractalNoise" baseFrequency="0.32" numOctaves="1" seed="152"/><feColorMatrix type="matrix" values="0 0 0 0 0.647 0 0 0 0 0.451 0 0 0 0 0.275 1 0 0 0 0"/><feComponentTransfer><feFuncA type="linear" slope="5" intercept="-2.5"/></feComponentTransfer><feGaussianBlur stdDeviation="0.6"/><feComponentTransfer><feFuncA type="linear" slope="0.75"/></feComponentTransfer></filter><filter id="f112" x="0" y="0" width="100%" height="100%" color-interpolation-filters="sRGB"><feTurbulence type="fractalNoise" baseFrequency="0.45" numOctaves="1" seed="157"/><feColorMatrix type="matrix" values="0 0 0 0 0.933 0 0 0 0 0.831 0 0 0 0 0.647 1 0 0 0 0"/><feComponentTransfer><feFuncA type="linear" slope="6" intercept="-3.5"/></feComponentTransfer><feGaussianBlur stdDeviation="0.4"/><feComponentTransfer><feFuncA type="linear" slope="0.6"/></feComponentTransfer></filter><filter id="f113" x="0" y="0" width="100%" height="100%" color-interpolation-filters="sRGB"><feTurbulence type="fractalNoise" baseFrequency="0.9" numOctaves="1" seed="161"/><feColorMatrix type="matrix" values="0 0 0 0 0.275 0 0 0 0 0.216 0 0 0 0 0.157 1 0 0 0 0"/><feComponentTransfer><feFuncA type="linear" slope="6" intercept="-3.7"/></feComponentTransfer><feGaussianBlur stdDeviation="0.3"/><feComponentTransfer><feFuncA type="linear" slope="0.85"/></feComponentTransfer></filter><clipPath id="c114"><rect x="215.50" y="620.60" width="80.20" height="69.20"/></clipPath><filter id="f115" x="0" y="0" width="100%" height="100%" color-interpolation-filters="sRGB"><feTurbulence type="fractalNoise" baseFrequency="0.35" numOctaves="1" seed="153"/><feColorMatrix type="matrix" values="0 0 0 0 0.843 0 0 0 0 0.510 0 0 0 0 0.353 1 0 0 0 0"/><feComponentTransfer><feFuncA type="linear" slope="5" intercept="-2.6"/></feComponentTransfer><feGaussianBlur stdDeviation="0.5"/><feComponentTransfer><feFuncA type="linear" slope="0.8"/></feComponentTransfer></filter><filter id="f116" x="0" y="0" width="100%" height="100%" color-interpolation-filters="sRGB"><feTurbulence type="fractalNoise" baseFrequency="0.7" numOctaves="1" seed="158"/><feColorMatrix type="matrix" values="0 0 0 0 0.431 0 0 0 0 0.392 0 0 0 0 0.235 1 0 0 0 0"/><feComponentTransfer><feFuncA type="linear" slope="6" intercept="-3.3"/></feComponentTransfer><feGaussianBlur stdDeviation="0.3"/><feComponentTransfer><feFuncA type="linear" slope="0.8"/></feComponentTransfer></filter><clipPath id="c117"><rect x="298.80" y="620.60" width="80.10" height="69.20"/></clipPath><filter id="f118" x="0" y="0" width="100%" height="100%" color-interpolation-filters="sRGB"><feTurbulence type="fractalNoise" baseFrequency="0.3" numOctaves="1" seed="154"/><feColorMatrix type="matrix" values="0 0 0 0 0.804 0 0 0 0 0.275 0 0 0 0 0.196 1 0 0 0 0"/><feComponentTransfer><feFuncA type="linear" slope="5" intercept="-2.8"/></feComponentTransfer><feGaussianBlur stdDeviation="0.5"/><feComponentTransfer><feFuncA type="linear" slope="0.8"/></feComponentTransfer></filter><filter id="f119" x="0" y="0" width="100%" height="100%" color-interpolation-filters="sRGB"><feTurbulence type="fractalNoise" baseFrequency="0.6" numOctaves="1" seed="159"/><feColorMatrix type="matrix" values="0 0 0 0 0.392 0 0 0 0 0.314 0 0 0 0 0.176 1 0 0 0 0"/><feComponentTransfer><feFuncA type="linear" slope="6" intercept="-3.2"/></feComponentTransfer><feGaussianBlur stdDeviation="0.3"/><feComponentTransfer><feFuncA type="linear" slope="0.8"/></feComponentTransfer></filter><clipPath id="c120"><rect x="381.80" y="620.60" width="80.00" height="69.20"/></clipPath><filter id="f121" x="0" y="0" width="100%" height="100%" color-interpolation-filters="sRGB"><feTurbulence type="fractalNoise" baseFrequency="0.3" numOctaves="1" seed="155"/><feColorMatrix type="matrix" values="0 0 0 0 0.831 0 0 0 0 0.392 0 0 0 0 0.267 1 0 0 0 0"/><feComponentTransfer><feFuncA type="linear" slope="5" intercept="-2.5"/></feComponentTransfer><feGaussianBlur stdDeviation="0.5"/><feComponentTransfer><feFuncA type="linear" slope="0.8"/></feComponentTransfer></filter><filter id="f122" x="0" y="0" width="100%" height="100%" color-interpolation-filters="sRGB"><feTurbulence type="fractalNoise" baseFrequency="0.2" numOctaves="2" seed="162"/><feColorMatrix type="matrix" values="0 0 0 0 0.588 0 0 0 0 0.588 0 0 0 0 0.314 1 0 0 0 0"/><feComponentTransfer><feFuncA type="linear" slope="5" intercept="-2.6"/></feComponentTransfer><feGaussianBlur stdDeviation="0.6"/><feComponentTransfer><feFuncA type="linear" slope="0.5"/></feComponentTransfer></filter><filter id="f123" x="0" y="0" width="100%" height="100%" color-interpolation-filters="sRGB"><feTurbulence type="fractalNoise" baseFrequency="0.6" numOctaves="1" seed="160"/><feColorMatrix type="matrix" values="0 0 0 0 0.431 0 0 0 0 0.353 0 0 0 0 0.216 1 0 0 0 0"/><feComponentTransfer><feFuncA type="linear" slope="6" intercept="-3.2"/></feComponentTransfer><feGaussianBlur stdDeviation="0.3"/><feComponentTransfer><feFuncA type="linear" slope="0.8"/></feComponentTransfer></filter></defs>
<rect width="685" height="706" fill="#fff"/>
<text x="0.20" y="11.60" font-size="17.5" text-anchor="start" fill="#1e1e1e">A</text>
<line x1="42.80" y1="10.90" x2="269.30" y2="10.90" stroke="#d4aa6a" stroke-width="1.6"/>
<line x1="42.80" y1="14.00" x2="269.30" y2="14.00" stroke="#0a0a0a" stroke-width="1.6"/>
<line x1="42.80" y1="17.30" x2="269.30" y2="17.30" stroke="#2f62b8" stroke-width="1.4"/>
<path d="M123.60,14.10 L123.60,14.10 L123.60,21.39 L127.70,21.39 L127.70,43.26 L135.80,43.26 L135.80,65.13 L144.20,65.13 L144.20,79.71 L147.80,79.71 L147.80,87.00 L152.20,87.00 L152.20,101.58 L156.30,101.58 L156.30,116.16 L164.30,116.16 L164.30,123.45 L192.80,123.45 L192.80,130.74 L245.20,130.74 L245.20,138.03 L269.30,138.03" fill="none" stroke="#8a3b9c" stroke-width="1.55" stroke-linejoin="miter"/>
<path d="M155.90,14.10 L155.90,14.10 L155.90,21.39 L159.90,21.39 L159.90,35.97 L167.50,35.97 L167.50,43.26 L184.40,43.26 L184.40,50.55 L201.00,50.55 L201.00,72.42 L204.60,72.42 L204.60,79.71 L217.20,79.71 L217.20,87.00 L249.20,87.00 L249.20,94.29 L265.40,94.29 L265.40,108.87 L269.30,108.87" fill="none" stroke="#a3302f" stroke-width="1.55" stroke-linejoin="miter"/>
<path d="M200.80,14.10 L200.80,14.10 L200.80,21.39 L204.30,21.39 L204.30,28.68 L225.10,28.68 L225.10,43.26 L232.80,43.26 L232.80,50.55 L257.30,50.55 L257.30,65.13 L265.40,65.13 L265.40,72.42 L269.30,72.42" fill="none" stroke="#2e6b3a" stroke-width="1.55" stroke-linejoin="miter"/>
<line x1="42.80" y1="10.30" x2="42.80" y2="160.50" stroke="#3a3a3a" stroke-width="1.3"/>
<line x1="42.20" y1="159.90" x2="269.90" y2="159.90" stroke="#3a3a3a" stroke-width="1.3"/>
<line x1="39.80" y1="159.90" x2="42.80" y2="159.90" stroke="#3a3a3a" stroke-width="1.1"/>
<text x="38.60" y="163.50" font-size="10.5" text-anchor="end" fill="#1e1e1e">0</text>
<line x1="39.80" y1="130.74" x2="42.80" y2="130.74" stroke="#3a3a3a" stroke-width="1.1"/>
<text x="38.60" y="134.34" font-size="10.5" text-anchor="end" fill="#1e1e1e">20</text>
<line x1="39.80" y1="101.58" x2="42.80" y2="101.58" stroke="#3a3a3a" stroke-width="1.1"/>
<text x="38.60" y="105.18" font-size="10.5" text-anchor="end" fill="#1e1e1e">40</text>
<line x1="39.80" y1="72.42" x2="42.80" y2="72.42" stroke="#3a3a3a" stroke-width="1.1"/>
<text x="38.60" y="76.02" font-size="10.5" text-anchor="end" fill="#1e1e1e">60</text>
<line x1="39.80" y1="43.26" x2="42.80" y2="43.26" stroke="#3a3a3a" stroke-width="1.1"/>
<text x="38.60" y="46.86" font-size="10.5" text-anchor="end" fill="#1e1e1e">80</text>
<line x1="39.80" y1="14.10" x2="42.80" y2="14.10" stroke="#3a3a3a" stroke-width="1.1"/>
<text x="38.60" y="17.70" font-size="10.5" text-anchor="end" fill="#1e1e1e">100</text>
<line x1="42.80" y1="159.90" x2="42.80" y2="163.40" stroke="#3a3a3a" stroke-width="1.1"/>
<text x="42.80" y="175.20" font-size="10.5" text-anchor="middle" fill="#1e1e1e">0</text>
<line x1="71.12" y1="159.90" x2="71.12" y2="163.40" stroke="#3a3a3a" stroke-width="1.1"/>
<text x="71.12" y="175.20" font-size="10.5" text-anchor="middle" fill="#1e1e1e">1</text>
<line x1="99.44" y1="159.90" x2="99.44" y2="163.40" stroke="#3a3a3a" stroke-width="1.1"/>
<text x="99.44" y="175.20" font-size="10.5" text-anchor="middle" fill="#1e1e1e">2</text>
<line x1="127.76" y1="159.90" x2="127.76" y2="163.40" stroke="#3a3a3a" stroke-width="1.1"/>
<text x="127.76" y="175.20" font-size="10.5" text-anchor="middle" fill="#1e1e1e">3</text>
<line x1="156.08" y1="159.90" x2="156.08" y2="163.40" stroke="#3a3a3a" stroke-width="1.1"/>
<text x="156.08" y="175.20" font-size="10.5" text-anchor="middle" fill="#1e1e1e">4</text>
<line x1="184.40" y1="159.90" x2="184.40" y2="163.40" stroke="#3a3a3a" stroke-width="1.1"/>
<text x="184.40" y="175.20" font-size="10.5" text-anchor="middle" fill="#1e1e1e">5</text>
<line x1="212.72" y1="159.90" x2="212.72" y2="163.40" stroke="#3a3a3a" stroke-width="1.1"/>
<text x="212.72" y="175.20" font-size="10.5" text-anchor="middle" fill="#1e1e1e">6</text>
<line x1="241.04" y1="159.90" x2="241.04" y2="163.40" stroke="#3a3a3a" stroke-width="1.1"/>
<text x="241.04" y="175.20" font-size="10.5" text-anchor="middle" fill="#1e1e1e">7</text>
<line x1="269.36" y1="159.90" x2="269.36" y2="163.40" stroke="#3a3a3a" stroke-width="1.1"/>
<text x="269.36" y="175.20" font-size="10.5" text-anchor="middle" fill="#1e1e1e">8</text>
<text x="157.50" y="189.80" font-size="10.5" text-anchor="middle" fill="#1e1e1e">Fed duration (week)</text>
<text x="22.20" y="85.20" font-size="10.5" text-anchor="middle" fill="#1e1e1e" transform="rotate(-90 22.2 85.2)">Survival rate (%)</text>
<line x1="45.80" y1="55.60" x2="54.00" y2="55.60" stroke="#111111" stroke-width="1.4"/>
<text x="57.20" y="59.70" font-size="8.75" text-anchor="start" fill="#1e1e1e">Pair fed-WT</text>
<line x1="45.80" y1="74.50" x2="54.00" y2="74.50" stroke="#2f62b8" stroke-width="1.4"/>
<text x="57.20" y="79.10" font-size="8.75" text-anchor="start" fill="#1e1e1e">Pair fed-MG53<tspan font-size="5.2" dx="0.6" dy="-3.8" letter-spacing="0.5">-/-</tspan></text>
<line x1="45.80" y1="94.30" x2="54.00" y2="94.30" stroke="#d4aa6a" stroke-width="1.4"/>
<text x="57.20" y="93.80" font-size="8.75" text-anchor="start" fill="#1e1e1e">Pair fed-MG53<tspan font-size="5.2" dx="0.6" dy="-3.8" letter-spacing="0.5">-/-</tspan></text>
<line x1="45.80" y1="115.00" x2="54.00" y2="115.00" stroke="#a3302f" stroke-width="1.4"/>
<text x="57.20" y="118.30" font-size="8.75" text-anchor="start" fill="#1e1e1e">EtOH fed-WT</text>
<line x1="45.80" y1="134.00" x2="54.00" y2="134.00" stroke="#8a3b9c" stroke-width="1.4"/>
<text x="57.20" y="137.40" font-size="8.75" text-anchor="start" fill="#1e1e1e">EtOH fed-MG53<tspan font-size="5.2" dx="0.6" dy="-3.8" letter-spacing="0.5">-/-</tspan></text>
<line x1="45.80" y1="151.40" x2="54.00" y2="151.40" stroke="#2e6b3a" stroke-width="1.4"/>
<text x="57.20" y="154.70" font-size="8.75" text-anchor="start" fill="#1e1e1e">EtOH fed-MG53<tspan font-size="5.2" dx="0.6" dy="-3.8" letter-spacing="0.5">-/-</tspan><tspan dy="3.8">+rhMG53</tspan></text>
<text x="57.20" y="104.30" font-size="8.75" text-anchor="start" fill="#1e1e1e">+rhMG53</text>
<path d="M270.7,15.9 H273.2 V107.7 H270.7" fill="none" stroke="#8a8a8a" stroke-width="0.8"/>
<text x="280.60" y="55.60" font-size="4.3" text-anchor="middle" fill="#555" transform="rotate(-90 280.6 55.6)">p &lt; 0.0001</text>
<path d="M280.5,70.7 H283.0 V137.6 H280.5" fill="none" stroke="#8a8a8a" stroke-width="0.8"/>
<text x="290.60" y="104.30" font-size="4.3" text-anchor="middle" fill="#555" transform="rotate(-90 290.6 104.3)">p = 0.0001</text>
<path d="M270.7,110.4 H273.2 V137.6 H270.7" fill="none" stroke="#8a8a8a" stroke-width="0.8"/>
<text x="280.60" y="125.60" font-size="4.3" text-anchor="middle" fill="#555" transform="rotate(-90 280.6 125.6)">p = 0.0024</text>
<text x="298.40" y="12.00" font-size="17.5" text-anchor="start" fill="#1e1e1e">B</text>
<path d="M349.05,159.20 V107.15 H358.95 V159.20" fill="#fff" stroke="#262626" stroke-width="1.7" stroke-linejoin="miter"/>
<line x1="354.00" y1="98.53" x2="354.00" y2="115.77" stroke="#262626" stroke-width="1.3"/>
<line x1="350.80" y1="98.53" x2="357.20" y2="98.53" stroke="#262626" stroke-width="1.3"/>
<line x1="350.80" y1="115.77" x2="357.20" y2="115.77" stroke="#262626" stroke-width="1.3"/>
<circle cx="352.25" cy="105.19" r="1.8" fill="none" stroke="#262626" stroke-width="0.75" opacity="0.9"/>
<circle cx="355.90" cy="106.42" r="1.8" fill="none" stroke="#262626" stroke-width="0.75" opacity="0.9"/>
<circle cx="356.37" cy="108.88" r="1.8" fill="none" stroke="#262626" stroke-width="0.75" opacity="0.9"/>
<circle cx="355.36" cy="100.31" r="1.8" fill="none" stroke="#262626" stroke-width="0.75" opacity="0.9"/>
<circle cx="353.80" cy="109.15" r="1.8" fill="none" stroke="#262626" stroke-width="0.75" opacity="0.9"/>
<circle cx="353.19" cy="116.46" r="1.8" fill="none" stroke="#262626" stroke-width="0.75" opacity="0.9"/>
<circle cx="358.17" cy="103.59" r="1.8" fill="none" stroke="#262626" stroke-width="0.75" opacity="0.9"/>
<path d="M367.45,159.20 V69.79 H377.95 V159.20" fill="#fff" stroke="#a8282c" stroke-width="1.7" stroke-linejoin="miter"/>
<line x1="372.70" y1="61.17" x2="372.70" y2="78.41" stroke="#a8282c" stroke-width="1.3"/>
<line x1="369.50" y1="61.17" x2="375.90" y2="61.17" stroke="#a8282c" stroke-width="1.3"/>
<line x1="369.50" y1="78.41" x2="375.90" y2="78.41" stroke="#a8282c" stroke-width="1.3"/>
<circle cx="376.10" cy="69.30" r="1.8" fill="none" stroke="#a8282c" stroke-width="0.75" opacity="0.9"/>
<circle cx="376.21" cy="83.29" r="1.8" fill="none" stroke="#a8282c" stroke-width="0.75" opacity="0.9"/>
<circle cx="369.95" cy="61.63" r="1.8" fill="none" stroke="#a8282c" stroke-width="0.75" opacity="0.9"/>
<circle cx="372.17" cy="79.06" r="1.8" fill="none" stroke="#a8282c" stroke-width="0.75" opacity="0.9"/>
<circle cx="372.58" cy="64.11" r="1.8" fill="none" stroke="#a8282c" stroke-width="0.75" opacity="0.9"/>
<circle cx="372.94" cy="84.11" r="1.8" fill="none" stroke="#a8282c" stroke-width="0.75" opacity="0.9"/>
<circle cx="376.14" cy="76.43" r="1.8" fill="none" stroke="#a8282c" stroke-width="0.75" opacity="0.9"/>
<path d="M399.05,159.20 V104.27 H409.15 V159.20" fill="#fff" stroke="#262626" stroke-width="1.7" stroke-linejoin="miter"/>
<line x1="404.10" y1="94.79" x2="404.10" y2="113.76" stroke="#262626" stroke-width="1.3"/>
<line x1="400.90" y1="94.79" x2="407.30" y2="94.79" stroke="#262626" stroke-width="1.3"/>
<line x1="400.90" y1="113.76" x2="407.30" y2="113.76" stroke="#262626" stroke-width="1.3"/>
<circle cx="407.83" cy="103.78" r="1.8" fill="none" stroke="#262626" stroke-width="0.75" opacity="0.9"/>
<circle cx="400.03" cy="117.77" r="1.8" fill="none" stroke="#262626" stroke-width="0.75" opacity="0.9"/>
<circle cx="404.86" cy="96.11" r="1.8" fill="none" stroke="#262626" stroke-width="0.75" opacity="0.9"/>
<circle cx="400.71" cy="113.54" r="1.8" fill="none" stroke="#262626" stroke-width="0.75" opacity="0.9"/>
<circle cx="400.47" cy="98.59" r="1.8" fill="none" stroke="#262626" stroke-width="0.75" opacity="0.9"/>
<circle cx="408.55" cy="118.59" r="1.8" fill="none" stroke="#262626" stroke-width="0.75" opacity="0.9"/>
<circle cx="402.47" cy="110.91" r="1.8" fill="none" stroke="#262626" stroke-width="0.75" opacity="0.9"/>
<path d="M417.85,159.20 V43.93 H428.45 V159.20" fill="#fff" stroke="#a8282c" stroke-width="1.7" stroke-linejoin="miter"/>
<line x1="423.15" y1="32.44" x2="423.15" y2="55.43" stroke="#a8282c" stroke-width="1.3"/>
<line x1="419.95" y1="32.44" x2="426.35" y2="32.44" stroke="#a8282c" stroke-width="1.3"/>
<line x1="419.95" y1="55.43" x2="426.35" y2="55.43" stroke="#a8282c" stroke-width="1.3"/>
<circle cx="421.54" cy="54.50" r="1.8" fill="none" stroke="#a8282c" stroke-width="0.75" opacity="0.9"/>
<circle cx="426.47" cy="45.65" r="1.8" fill="none" stroke="#a8282c" stroke-width="0.75" opacity="0.9"/>
<circle cx="424.55" cy="37.10" r="1.8" fill="none" stroke="#a8282c" stroke-width="0.75" opacity="0.9"/>
<circle cx="423.42" cy="53.99" r="1.8" fill="none" stroke="#a8282c" stroke-width="0.75" opacity="0.9"/>
<circle cx="426.13" cy="31.44" r="1.8" fill="none" stroke="#a8282c" stroke-width="0.75" opacity="0.9"/>
<circle cx="425.67" cy="52.63" r="1.8" fill="none" stroke="#a8282c" stroke-width="0.75" opacity="0.9"/>
<path d="M449.35,159.20 V107.15 H459.45 V159.20" fill="#fff" stroke="#262626" stroke-width="1.7" stroke-linejoin="miter"/>
<line x1="454.40" y1="99.96" x2="454.40" y2="114.33" stroke="#262626" stroke-width="1.3"/>
<line x1="451.20" y1="99.96" x2="457.60" y2="99.96" stroke="#262626" stroke-width="1.3"/>
<line x1="451.20" y1="114.33" x2="457.60" y2="114.33" stroke="#262626" stroke-width="1.3"/>
<circle cx="455.82" cy="105.69" r="1.8" fill="none" stroke="#262626" stroke-width="0.75" opacity="0.9"/>
<circle cx="459.12" cy="105.58" r="1.8" fill="none" stroke="#262626" stroke-width="0.75" opacity="0.9"/>
<circle cx="457.72" cy="108.02" r="1.8" fill="none" stroke="#262626" stroke-width="0.75" opacity="0.9"/>
<circle cx="450.50" cy="104.23" r="1.8" fill="none" stroke="#262626" stroke-width="0.75" opacity="0.9"/>
<circle cx="459.20" cy="107.71" r="1.8" fill="none" stroke="#262626" stroke-width="0.75" opacity="0.9"/>
<circle cx="458.25" cy="107.69" r="1.8" fill="none" stroke="#262626" stroke-width="0.75" opacity="0.9"/>
<circle cx="457.22" cy="114.04" r="1.8" fill="none" stroke="#262626" stroke-width="0.75" opacity="0.9"/>
<path d="M468.25,159.20 V88.47 H478.65 V159.20" fill="#fff" stroke="#a8282c" stroke-width="1.7" stroke-linejoin="miter"/>
<line x1="473.45" y1="82.72" x2="473.45" y2="94.22" stroke="#a8282c" stroke-width="1.3"/>
<line x1="470.25" y1="82.72" x2="476.65" y2="82.72" stroke="#a8282c" stroke-width="1.3"/>
<line x1="470.25" y1="94.22" x2="476.65" y2="94.22" stroke="#a8282c" stroke-width="1.3"/>
<circle cx="474.03" cy="95.58" r="1.8" fill="none" stroke="#a8282c" stroke-width="0.75" opacity="0.9"/>
<circle cx="476.87" cy="87.03" r="1.8" fill="none" stroke="#a8282c" stroke-width="0.75" opacity="0.9"/>
<circle cx="474.86" cy="90.23" r="1.8" fill="none" stroke="#a8282c" stroke-width="0.75" opacity="0.9"/>
<circle cx="478.10" cy="81.32" r="1.8" fill="none" stroke="#a8282c" stroke-width="0.75" opacity="0.9"/>
<circle cx="475.41" cy="86.50" r="1.8" fill="none" stroke="#a8282c" stroke-width="0.75" opacity="0.9"/>
<circle cx="473.63" cy="88.08" r="1.8" fill="none" stroke="#a8282c" stroke-width="0.75" opacity="0.9"/>
<circle cx="476.68" cy="80.92" r="1.8" fill="none" stroke="#a8282c" stroke-width="0.75" opacity="0.9"/>
<line x1="340.80" y1="15.20" x2="340.80" y2="159.80" stroke="#2a2a2a" stroke-width="1.4"/>
<line x1="340.10" y1="159.20" x2="486.70" y2="159.20" stroke="#2a2a2a" stroke-width="1.4"/>
<line x1="337.80" y1="144.50" x2="340.80" y2="144.50" stroke="#2a2a2a" stroke-width="1.2"/>
<text x="337.20" y="148.00" font-size="10" text-anchor="end" fill="#1e1e1e">3.0</text>
<line x1="337.80" y1="101.40" x2="340.80" y2="101.40" stroke="#2a2a2a" stroke-width="1.2"/>
<text x="337.20" y="104.90" font-size="10" text-anchor="end" fill="#1e1e1e">4.5</text>
<line x1="337.80" y1="58.30" x2="340.80" y2="58.30" stroke="#2a2a2a" stroke-width="1.2"/>
<text x="337.20" y="61.80" font-size="10" text-anchor="end" fill="#1e1e1e">6.0</text>
<line x1="337.80" y1="15.20" x2="340.80" y2="15.20" stroke="#2a2a2a" stroke-width="1.2"/>
<text x="337.20" y="18.70" font-size="10" text-anchor="end" fill="#1e1e1e">7.5</text>
<line x1="363.50" y1="159.20" x2="363.50" y2="162.20" stroke="#2a2a2a" stroke-width="1.2"/>
<line x1="413.70" y1="159.20" x2="413.70" y2="162.20" stroke="#2a2a2a" stroke-width="1.2"/>
<line x1="463.60" y1="159.20" x2="463.60" y2="162.20" stroke="#2a2a2a" stroke-width="1.2"/>
<text x="363.50" y="172.20" font-size="10" text-anchor="middle" fill="#1e1e1e">WT</text>
<text x="413.40" y="172.20" font-size="10" text-anchor="middle" fill="#1e1e1e">MG53<tspan font-size="6.0" dx="0.80" dy="-4.2" letter-spacing="0.60">-/-</tspan></text>
<text x="463.80" y="172.20" font-size="10" text-anchor="middle" fill="#1e1e1e">MG53<tspan font-size="6.0" dx="0.80" dy="-4.2" letter-spacing="0.60">-/-</tspan></text>
<text x="463.80" y="183.20" font-size="10" text-anchor="middle" fill="#1e1e1e">+rhMG53</text>
<rect x="348.50" y="13.30" width="13.6" height="3.6" fill="#fff" stroke="#262626" stroke-width="1.4"/>
<text x="369.60" y="18.40" font-size="10" text-anchor="start" fill="#1e1e1e">Pair fed</text>
<rect x="416.80" y="13.20" width="13.6" height="3.6" fill="#fff" stroke="#a8282c" stroke-width="1.4"/>
<text x="437.10" y="18.40" font-size="10" text-anchor="start" fill="#1e1e1e">EtOH fed</text>
<line x1="354.00" y1="49.10" x2="372.70" y2="49.10" stroke="#a8a8a8" stroke-width="1.5"/>
<text x="368.80" y="46.80" font-size="6.9" text-anchor="middle" fill="#1e1e1e">p &lt; 0.0001</text>
<line x1="373.00" y1="28.10" x2="424.70" y2="28.10" stroke="#a8a8a8" stroke-width="1.5"/>
<text x="399.20" y="25.30" font-size="6.9" text-anchor="middle" fill="#1e1e1e">p &lt; 0.0001</text>
<line x1="425.00" y1="30.90" x2="473.90" y2="30.90" stroke="#a8a8a8" stroke-width="1.5"/>
<text x="451.80" y="27.80" font-size="6.9" text-anchor="middle" fill="#1e1e1e">p &lt; 0.0001</text>
<text x="317.50" y="85.00" font-size="10.5" text-anchor="middle" fill="#1e1e1e" transform="rotate(-90 317.5 85)">Liver weight/body weight (%)</text>
<text x="494.30" y="12.60" font-size="17.8" text-anchor="start" fill="#1e1e1e">C</text>
<path d="M543.35,162.20 V141.86 H553.65 V162.20" fill="#fff" stroke="#262626" stroke-width="1.7" stroke-linejoin="miter"/>
<line x1="548.50" y1="138.95" x2="548.50" y2="144.76" stroke="#262626" stroke-width="1.3"/>
<line x1="545.30" y1="138.95" x2="551.70" y2="138.95" stroke="#262626" stroke-width="1.3"/>
<line x1="545.30" y1="144.76" x2="551.70" y2="144.76" stroke="#262626" stroke-width="1.3"/>
<circle cx="543.81" cy="140.43" r="1.8" fill="none" stroke="#262626" stroke-width="0.75" opacity="0.9"/>
<circle cx="544.19" cy="141.09" r="1.8" fill="none" stroke="#262626" stroke-width="0.75" opacity="0.9"/>
<circle cx="549.55" cy="144.25" r="1.8" fill="none" stroke="#262626" stroke-width="0.75" opacity="0.9"/>
<circle cx="545.04" cy="144.53" r="1.8" fill="none" stroke="#262626" stroke-width="0.75" opacity="0.9"/>
<circle cx="549.83" cy="142.59" r="1.8" fill="none" stroke="#262626" stroke-width="0.75" opacity="0.9"/>
<circle cx="545.56" cy="141.72" r="1.8" fill="none" stroke="#262626" stroke-width="0.75" opacity="0.9"/>
<circle cx="552.79" cy="138.89" r="1.8" fill="none" stroke="#262626" stroke-width="0.75" opacity="0.9"/>
<path d="M562.35,162.20 V80.83 H572.35 V162.20" fill="#fff" stroke="#a8282c" stroke-width="1.7" stroke-linejoin="miter"/>
<line x1="567.35" y1="74.44" x2="567.35" y2="87.23" stroke="#a8282c" stroke-width="1.3"/>
<line x1="564.15" y1="74.44" x2="570.55" y2="74.44" stroke="#a8282c" stroke-width="1.3"/>
<line x1="564.15" y1="87.23" x2="570.55" y2="87.23" stroke="#a8282c" stroke-width="1.3"/>
<circle cx="566.74" cy="85.29" r="1.8" fill="none" stroke="#a8282c" stroke-width="0.75" opacity="0.9"/>
<circle cx="564.41" cy="80.37" r="1.8" fill="none" stroke="#a8282c" stroke-width="0.75" opacity="0.9"/>
<circle cx="562.63" cy="83.52" r="1.8" fill="none" stroke="#a8282c" stroke-width="0.75" opacity="0.9"/>
<circle cx="565.90" cy="88.90" r="1.8" fill="none" stroke="#a8282c" stroke-width="0.75" opacity="0.9"/>
<circle cx="563.77" cy="77.24" r="1.8" fill="none" stroke="#a8282c" stroke-width="0.75" opacity="0.9"/>
<circle cx="569.55" cy="78.26" r="1.8" fill="none" stroke="#a8282c" stroke-width="0.75" opacity="0.9"/>
<circle cx="566.91" cy="77.19" r="1.8" fill="none" stroke="#a8282c" stroke-width="0.75" opacity="0.9"/>
<path d="M593.25,162.20 V139.53 H603.85 V162.20" fill="#fff" stroke="#262626" stroke-width="1.7" stroke-linejoin="miter"/>
<line x1="598.55" y1="133.72" x2="598.55" y2="145.35" stroke="#262626" stroke-width="1.3"/>
<line x1="595.35" y1="133.72" x2="601.75" y2="133.72" stroke="#262626" stroke-width="1.3"/>
<line x1="595.35" y1="145.35" x2="601.75" y2="145.35" stroke="#262626" stroke-width="1.3"/>
<circle cx="598.98" cy="138.52" r="1.8" fill="none" stroke="#262626" stroke-width="0.75" opacity="0.9"/>
<circle cx="595.65" cy="141.10" r="1.8" fill="none" stroke="#262626" stroke-width="0.75" opacity="0.9"/>
<circle cx="602.42" cy="135.25" r="1.8" fill="none" stroke="#262626" stroke-width="0.75" opacity="0.9"/>
<circle cx="596.77" cy="135.58" r="1.8" fill="none" stroke="#262626" stroke-width="0.75" opacity="0.9"/>
<circle cx="596.61" cy="144.17" r="1.8" fill="none" stroke="#262626" stroke-width="0.75" opacity="0.9"/>
<circle cx="600.06" cy="132.81" r="1.8" fill="none" stroke="#262626" stroke-width="0.75" opacity="0.9"/>
<circle cx="600.93" cy="138.26" r="1.8" fill="none" stroke="#262626" stroke-width="0.75" opacity="0.9"/>
<path d="M612.85,162.20 V48.87 H622.85 V162.20" fill="#fff" stroke="#a8282c" stroke-width="1.7" stroke-linejoin="miter"/>
<line x1="617.85" y1="37.82" x2="617.85" y2="59.91" stroke="#a8282c" stroke-width="1.3"/>
<line x1="614.65" y1="37.82" x2="621.05" y2="37.82" stroke="#a8282c" stroke-width="1.3"/>
<line x1="614.65" y1="59.91" x2="621.05" y2="59.91" stroke="#a8282c" stroke-width="1.3"/>
<circle cx="614.49" cy="58.04" r="1.8" fill="none" stroke="#a8282c" stroke-width="0.75" opacity="0.9"/>
<circle cx="621.65" cy="60.90" r="1.8" fill="none" stroke="#a8282c" stroke-width="0.75" opacity="0.9"/>
<circle cx="621.31" cy="60.17" r="1.8" fill="none" stroke="#a8282c" stroke-width="0.75" opacity="0.9"/>
<circle cx="617.35" cy="36.42" r="1.8" fill="none" stroke="#a8282c" stroke-width="0.75" opacity="0.9"/>
<circle cx="614.13" cy="57.67" r="1.8" fill="none" stroke="#a8282c" stroke-width="0.75" opacity="0.9"/>
<circle cx="619.02" cy="49.07" r="1.8" fill="none" stroke="#a8282c" stroke-width="0.75" opacity="0.9"/>
<path d="M644.05,162.20 V140.11 H654.35 V162.20" fill="#fff" stroke="#262626" stroke-width="1.7" stroke-linejoin="miter"/>
<line x1="649.20" y1="136.63" x2="649.20" y2="143.60" stroke="#262626" stroke-width="1.3"/>
<line x1="646.00" y1="136.63" x2="652.40" y2="136.63" stroke="#262626" stroke-width="1.3"/>
<line x1="646.00" y1="143.60" x2="652.40" y2="143.60" stroke="#262626" stroke-width="1.3"/>
<circle cx="648.10" cy="138.69" r="1.8" fill="none" stroke="#262626" stroke-width="0.75" opacity="0.9"/>
<circle cx="651.40" cy="139.35" r="1.8" fill="none" stroke="#262626" stroke-width="0.75" opacity="0.9"/>
<circle cx="648.57" cy="142.50" r="1.8" fill="none" stroke="#262626" stroke-width="0.75" opacity="0.9"/>
<circle cx="648.74" cy="142.79" r="1.8" fill="none" stroke="#262626" stroke-width="0.75" opacity="0.9"/>
<circle cx="653.23" cy="140.85" r="1.8" fill="none" stroke="#262626" stroke-width="0.75" opacity="0.9"/>
<circle cx="651.00" cy="139.98" r="1.8" fill="none" stroke="#262626" stroke-width="0.75" opacity="0.9"/>
<circle cx="652.68" cy="137.14" r="1.8" fill="none" stroke="#262626" stroke-width="0.75" opacity="0.9"/>
<path d="M663.05,162.20 V106.99 H673.35 V162.20" fill="#fff" stroke="#a8282c" stroke-width="1.7" stroke-linejoin="miter"/>
<line x1="668.20" y1="99.43" x2="668.20" y2="114.54" stroke="#a8282c" stroke-width="1.3"/>
<line x1="665.00" y1="99.43" x2="671.40" y2="99.43" stroke="#a8282c" stroke-width="1.3"/>
<line x1="665.00" y1="114.54" x2="671.40" y2="114.54" stroke="#a8282c" stroke-width="1.3"/>
<circle cx="671.44" cy="106.03" r="1.8" fill="none" stroke="#a8282c" stroke-width="0.75" opacity="0.9"/>
<circle cx="671.55" cy="115.17" r="1.8" fill="none" stroke="#a8282c" stroke-width="0.75" opacity="0.9"/>
<circle cx="668.31" cy="110.26" r="1.8" fill="none" stroke="#a8282c" stroke-width="0.75" opacity="0.9"/>
<circle cx="667.55" cy="109.36" r="1.8" fill="none" stroke="#a8282c" stroke-width="0.75" opacity="0.9"/>
<circle cx="664.11" cy="109.71" r="1.8" fill="none" stroke="#a8282c" stroke-width="0.75" opacity="0.9"/>
<circle cx="668.62" cy="109.42" r="1.8" fill="none" stroke="#a8282c" stroke-width="0.75" opacity="0.9"/>
<line x1="535.20" y1="16.90" x2="535.20" y2="162.80" stroke="#2a2a2a" stroke-width="1.4"/>
<line x1="534.50" y1="162.20" x2="676.50" y2="162.20" stroke="#2a2a2a" stroke-width="1.4"/>
<line x1="532.20" y1="162.20" x2="535.20" y2="162.20" stroke="#2a2a2a" stroke-width="1.2"/>
<text x="531.60" y="165.70" font-size="10" text-anchor="end" fill="#1e1e1e">0</text>
<line x1="532.20" y1="133.14" x2="535.20" y2="133.14" stroke="#2a2a2a" stroke-width="1.2"/>
<text x="531.60" y="136.64" font-size="10" text-anchor="end" fill="#1e1e1e">50</text>
<line x1="532.20" y1="104.08" x2="535.20" y2="104.08" stroke="#2a2a2a" stroke-width="1.2"/>
<text x="531.60" y="107.58" font-size="10" text-anchor="end" fill="#1e1e1e">100</text>
<line x1="532.20" y1="75.02" x2="535.20" y2="75.02" stroke="#2a2a2a" stroke-width="1.2"/>
<text x="531.60" y="78.52" font-size="10" text-anchor="end" fill="#1e1e1e">150</text>
<line x1="532.20" y1="45.96" x2="535.20" y2="45.96" stroke="#2a2a2a" stroke-width="1.2"/>
<text x="531.60" y="49.46" font-size="10" text-anchor="end" fill="#1e1e1e">200</text>
<line x1="532.20" y1="16.90" x2="535.20" y2="16.90" stroke="#2a2a2a" stroke-width="1.2"/>
<text x="531.60" y="20.40" font-size="10" text-anchor="end" fill="#1e1e1e">250</text>
<line x1="558.00" y1="162.20" x2="558.00" y2="165.20" stroke="#2a2a2a" stroke-width="1.2"/>
<line x1="608.20" y1="162.20" x2="608.20" y2="165.20" stroke="#2a2a2a" stroke-width="1.2"/>
<line x1="658.70" y1="162.20" x2="658.70" y2="165.20" stroke="#2a2a2a" stroke-width="1.2"/>
<text x="557.40" y="175.50" font-size="10" text-anchor="middle" fill="#1e1e1e">WT</text>
<text x="608.10" y="175.50" font-size="10" text-anchor="middle" fill="#1e1e1e">MG53<tspan font-size="6.0" dx="0.80" dy="-4.2" letter-spacing="0.60">-/-</tspan></text>
<text x="658.80" y="175.50" font-size="10" text-anchor="middle" fill="#1e1e1e">MG53<tspan font-size="6.0" dx="0.80" dy="-4.2" letter-spacing="0.60">-/-</tspan></text>
<text x="658.80" y="187.20" font-size="10" text-anchor="middle" fill="#1e1e1e">+rhMG53</text>
<rect x="551.80" y="13.20" width="13.6" height="3.6" fill="#fff" stroke="#262626" stroke-width="1.4"/>
<text x="572.60" y="18.40" font-size="10" text-anchor="start" fill="#1e1e1e">Pair fed</text>
<rect x="620.00" y="13.20" width="13.6" height="3.6" fill="#fff" stroke="#a8282c" stroke-width="1.4"/>
<text x="640.30" y="18.40" font-size="10" text-anchor="start" fill="#1e1e1e">EtOH fed</text>
<line x1="544.90" y1="67.70" x2="565.90" y2="67.70" stroke="#a8a8a8" stroke-width="1.5"/>
<text x="556.50" y="65.00" font-size="6.9" text-anchor="middle" fill="#1e1e1e">p &lt; 0.0001</text>
<line x1="566.20" y1="24.80" x2="617.80" y2="24.80" stroke="#a8a8a8" stroke-width="1.5"/>
<text x="590.00" y="31.60" font-size="6.9" text-anchor="middle" fill="#1e1e1e">p &lt; 0.0001</text>
<line x1="620.80" y1="30.70" x2="667.50" y2="30.70" stroke="#a8a8a8" stroke-width="1.5"/>
<text x="645.60" y="38.00" font-size="6.9" text-anchor="middle" fill="#1e1e1e">p &lt; 0.0001</text>
<text x="509.50" y="89.00" font-size="10.5" text-anchor="middle" fill="#1e1e1e" transform="rotate(-90 509.5 89)">Serum AST (U/L)</text>
<text x="-0.30" y="201.90" font-size="17.5" text-anchor="start" fill="#1e1e1e">D</text>
<text x="56.90" y="208.70" font-size="9.0" text-anchor="middle" fill="#1e1e1e">WT</text>
<text x="131.40" y="208.70" font-size="9.0" text-anchor="middle" fill="#1e1e1e">MG53<tspan font-size="5.4" dx="0.72" dy="-3.8" letter-spacing="0.54">-/-</tspan></text>
<text x="209.20" y="208.70" font-size="9.2" text-anchor="middle" fill="#1e1e1e">MG53<tspan font-size="5.5" dx="0.74" dy="-3.9" letter-spacing="0.55">-/-</tspan><tspan dy="3.9">+rhMG53</tspan></text>
<text x="16.60" y="244.30" font-size="9.0" text-anchor="middle" fill="#1e1e1e" transform="rotate(-90 16.6 244.3)">Pair fed</text>
<text x="16.60" y="301.80" font-size="9.0" text-anchor="middle" fill="#1e1e1e" transform="rotate(-90 16.6 301.8)">EtOH fed</text>
<g clip-path="url(#c1)">
<rect x="17.90" y="211.10" width="75.20" height="64.50" fill="rgb(208,92,138)"/>
<rect x="17.90" y="211.10" width="75.20" height="64.50" filter="url(#f2)"/>
<rect x="17.90" y="211.10" width="75.20" height="64.50" filter="url(#f3)"/>
<path d="M46.9,242.1 q7,-5 14,-4 q1,7 -5,13 q-6,3 -8,-1 q-2,-4 -1,-8 z" fill="#f3e8ea"/>
<path d="M47.9,248.1 q4,-1 7,2" stroke="#d04060" stroke-width="1.4" fill="none"/>
</g>
<rect x="19.40" y="271.80" width="15.50" height="1.6" fill="#151515"/>
<g clip-path="url(#c4)">
<rect x="95.00" y="211.10" width="74.70" height="64.50" fill="rgb(208,92,138)"/>
<rect x="95.00" y="211.10" width="74.70" height="64.50" filter="url(#f5)"/>
<rect x="95.00" y="211.10" width="74.70" height="64.50" filter="url(#f6)"/>
<path d="M122.0,242.1 q8,-2 13,3 q4,3 2,5 q-5,1 -10,-2 q-5,-2 -5,-6 z" fill="#f3e8ea"/>
</g>
<rect x="96.50" y="271.80" width="15.50" height="1.6" fill="#151515"/>
<g clip-path="url(#c7)">
<rect x="171.90" y="211.10" width="75.60" height="64.50" fill="rgb(208,92,138)"/>
<rect x="171.90" y="211.10" width="75.60" height="64.50" filter="url(#f8)"/>
<rect x="171.90" y="211.10" width="75.60" height="64.50" filter="url(#f9)"/>
<ellipse cx="214.9" cy="246.1" rx="4.5" ry="3.2" fill="#f3e8ea" transform="rotate(25 214.9 246.1)"/>
<circle cx="205.9" cy="227.1" r="1.2" fill="#f3e8ea"/>
</g>
<rect x="173.40" y="271.80" width="15.50" height="1.6" fill="#151515"/>
<g clip-path="url(#c10)">
<rect x="17.90" y="278.40" width="75.20" height="65.00" fill="rgb(208,92,138)"/>
<rect x="17.90" y="278.40" width="75.20" height="65.00" filter="url(#f11)"/>
<rect x="17.90" y="278.40" width="75.20" height="65.00" filter="url(#f12)"/>
<rect x="17.90" y="278.40" width="75.20" height="65.00" filter="url(#f13)"/>
<circle cx="40.3" cy="288.2" r="0.92" fill="#f8f2f6" opacity="1.0"/>
<circle cx="40.9" cy="281.9" r="1.13" fill="#f8f2f6" opacity="1.0"/>
<circle cx="33.5" cy="296.7" r="0.83" fill="#f8f2f6" opacity="1.0"/>
<circle cx="35.6" cy="293.4" r="1.47" fill="#f8f2f6" opacity="1.0"/>
<circle cx="18.7" cy="307.1" r="0.86" fill="#f8f2f6" opacity="1.0"/>
<circle cx="40.7" cy="293.6" r="1.45" fill="#f8f2f6" opacity="1.0"/>
<circle cx="23.0" cy="288.0" r="0.78" fill="#f8f2f6" opacity="1.0"/>
<circle cx="39.7" cy="294.4" r="0.88" fill="#f8f2f6" opacity="1.0"/>
<circle cx="23.3" cy="280.8" r="0.88" fill="#f8f2f6" opacity="1.0"/>
<circle cx="33.6" cy="291.5" r="1.33" fill="#f8f2f6" opacity="1.0"/>
<circle cx="20.0" cy="303.6" r="1.58" fill="#f8f2f6" opacity="1.0"/>
<circle cx="38.6" cy="300.7" r="1.46" fill="#f8f2f6" opacity="1.0"/>
<circle cx="20.6" cy="292.2" r="0.77" fill="#f8f2f6" opacity="1.0"/>
<circle cx="39.8" cy="294.5" r="0.80" fill="#f8f2f6" opacity="1.0"/>
<circle cx="30.4" cy="301.7" r="1.20" fill="#f8f2f6" opacity="1.0"/>
<circle cx="21.3" cy="306.5" r="0.75" fill="#f8f2f6" opacity="1.0"/>
<circle cx="41.5" cy="307.6" r="1.38" fill="#f8f2f6" opacity="1.0"/>
<circle cx="44.4" cy="294.3" r="0.90" fill="#f8f2f6" opacity="1.0"/>
<circle cx="31.1" cy="300.5" r="1.39" fill="#f8f2f6" opacity="1.0"/>
<circle cx="28.7" cy="306.8" r="0.73" fill="#f8f2f6" opacity="1.0"/>
<circle cx="31.8" cy="279.6" r="1.02" fill="#f8f2f6" opacity="1.0"/>
<circle cx="45.6" cy="281.9" r="1.59" fill="#f8f2f6" opacity="1.0"/>
<circle cx="35.8" cy="311.3" r="1.35" fill="#f8f2f6" opacity="1.0"/>
<circle cx="34.0" cy="316.1" r="1.00" fill="#f8f2f6" opacity="1.0"/>
<circle cx="18.7" cy="312.8" r="1.16" fill="#f8f2f6" opacity="1.0"/>
<circle cx="34.9" cy="314.1" r="1.19" fill="#f8f2f6" opacity="1.0"/>
<circle cx="26.2" cy="324.8" r="1.28" fill="#f8f2f6" opacity="1.0"/>
<circle cx="23.1" cy="313.6" r="1.00" fill="#f8f2f6" opacity="1.0"/>
<circle cx="39.4" cy="320.6" r="1.29" fill="#f8f2f6" opacity="1.0"/>
<circle cx="21.7" cy="331.0" r="1.30" fill="#f8f2f6" opacity="1.0"/>
<circle cx="25.9" cy="314.6" r="0.77" fill="#f8f2f6" opacity="1.0"/>
<circle cx="21.1" cy="317.1" r="1.12" fill="#f8f2f6" opacity="1.0"/>
<path d="M69.9,292.4 l6,-3 l6,2 M75.9,336.4 l6,-6 l8,-2 M53.9,312.4 l6,2 l4,-2" stroke="#f8f0f4" stroke-width="1.1" fill="none"/>
<ellipse cx="47.9" cy="310.4" rx="6" ry="4" fill="#7a4fa0" opacity="0.45" filter="url(#soft)"/>
</g>
<rect x="19.40" y="339.60" width="15.50" height="1.6" fill="#151515"/>
<g clip-path="url(#c14)">
<rect x="95.00" y="278.40" width="74.70" height="65.00" fill="rgb(208,92,138)"/>
<rect x="95.00" y="278.40" width="74.70" height="65.00" filter="url(#f15)"/>
<rect x="95.00" y="278.40" width="74.70" height="65.00" filter="url(#f16)"/>
<rect x="95.00" y="278.40" width="74.70" height="65.00" filter="url(#f17)"/>
<rect x="95.00" y="278.40" width="74.70" height="65.00" filter="url(#f18)"/>
<circle cx="109.7" cy="297.1" r="0.98" fill="#f8f2f6" opacity="1.0"/>
<circle cx="115.8" cy="311.5" r="0.97" fill="#f8f2f6" opacity="1.0"/>
<circle cx="122.1" cy="290.8" r="1.87" fill="#f8f2f6" opacity="1.0"/>
<circle cx="130.5" cy="295.4" r="1.25" fill="#f8f2f6" opacity="1.0"/>
<circle cx="150.7" cy="297.8" r="1.70" fill="#f8f2f6" opacity="1.0"/>
<circle cx="123.9" cy="293.3" r="1.79" fill="#f8f2f6" opacity="1.0"/>
<circle cx="103.5" cy="320.7" r="1.17" fill="#f8f2f6" opacity="1.0"/>
<circle cx="145.4" cy="301.5" r="0.89" fill="#f8f2f6" opacity="1.0"/>
<circle cx="104.7" cy="286.5" r="0.93" fill="#f8f2f6" opacity="1.0"/>
<circle cx="112.1" cy="293.8" r="1.04" fill="#f8f2f6" opacity="1.0"/>
<circle cx="142.9" cy="302.0" r="0.99" fill="#f8f2f6" opacity="1.0"/>
<circle cx="103.0" cy="310.2" r="1.41" fill="#f8f2f6" opacity="1.0"/>
<circle cx="156.6" cy="288.6" r="1.03" fill="#f8f2f6" opacity="1.0"/>
<circle cx="157.2" cy="293.9" r="1.82" fill="#f8f2f6" opacity="1.0"/>
<circle cx="160.9" cy="304.7" r="1.59" fill="#f8f2f6" opacity="1.0"/>
<circle cx="110.5" cy="317.6" r="1.48" fill="#f8f2f6" opacity="1.0"/>
<circle cx="132.1" cy="283.3" r="1.55" fill="#f8f2f6" opacity="1.0"/>
<circle cx="133.9" cy="297.6" r="1.81" fill="#f8f2f6" opacity="1.0"/>
<circle cx="159.3" cy="314.0" r="0.93" fill="#f8f2f6" opacity="1.0"/>
<circle cx="159.9" cy="282.9" r="1.59" fill="#f8f2f6" opacity="1.0"/>
<circle cx="144.1" cy="299.3" r="1.28" fill="#f8f2f6" opacity="1.0"/>
<circle cx="114.8" cy="297.8" r="1.07" fill="#f8f2f6" opacity="1.0"/>
<circle cx="145.4" cy="306.0" r="1.62" fill="#f8f2f6" opacity="1.0"/>
<circle cx="144.4" cy="302.3" r="1.39" fill="#f8f2f6" opacity="1.0"/>
<circle cx="104.1" cy="297.5" r="1.40" fill="#f8f2f6" opacity="1.0"/>
<circle cx="130.4" cy="323.9" r="0.99" fill="#f8f2f6" opacity="1.0"/>
<circle cx="134.8" cy="302.1" r="1.02" fill="#f8f2f6" opacity="1.0"/>
<circle cx="150.4" cy="294.3" r="1.09" fill="#f8f2f6" opacity="1.0"/>
<circle cx="145.4" cy="292.5" r="1.82" fill="#f8f2f6" opacity="1.0"/>
<circle cx="116.3" cy="292.3" r="0.92" fill="#f8f2f6" opacity="1.0"/>
<circle cx="136.4" cy="303.3" r="1.66" fill="#f8f2f6" opacity="1.0"/>
<circle cx="160.6" cy="282.6" r="1.23" fill="#f8f2f6" opacity="1.0"/>
<circle cx="143.5" cy="295.4" r="1.78" fill="#f8f2f6" opacity="1.0"/>
<circle cx="122.3" cy="298.2" r="1.39" fill="#f8f2f6" opacity="1.0"/>
<circle cx="149.6" cy="303.6" r="1.12" fill="#f8f2f6" opacity="1.0"/>
<circle cx="148.1" cy="320.3" r="1.16" fill="#f8f2f6" opacity="1.0"/>
<circle cx="117.1" cy="288.8" r="1.59" fill="#f8f2f6" opacity="1.0"/>
<circle cx="152.9" cy="304.6" r="1.83" fill="#f8f2f6" opacity="1.0"/>
<circle cx="123.5" cy="307.7" r="1.64" fill="#f8f2f6" opacity="1.0"/>
<circle cx="132.2" cy="304.9" r="0.95" fill="#f8f2f6" opacity="1.0"/>
<circle cx="129.6" cy="308.7" r="1.52" fill="#f8f2f6" opacity="1.0"/>
<circle cx="146.0" cy="285.3" r="1.59" fill="#f8f2f6" opacity="1.0"/>
<circle cx="128.9" cy="312.4" r="1.51" fill="#f8f2f6" opacity="1.0"/>
<circle cx="160.5" cy="298.9" r="1.14" fill="#f8f2f6" opacity="1.0"/>
<circle cx="106.5" cy="322.4" r="1.28" fill="#f8f2f6" opacity="1.0"/>
<circle cx="123.1" cy="319.0" r="1.11" fill="#f8f2f6" opacity="1.0"/>
<circle cx="160.1" cy="302.0" r="1.60" fill="#f8f2f6" opacity="1.0"/>
<circle cx="119.6" cy="290.8" r="0.87" fill="#f8f2f6" opacity="1.0"/>
<circle cx="124.8" cy="296.5" r="0.88" fill="#f8f2f6" opacity="1.0"/>
<circle cx="145.6" cy="291.9" r="1.30" fill="#f8f2f6" opacity="1.0"/>
<circle cx="119.9" cy="303.6" r="1.69" fill="#f8f2f6" opacity="1.0"/>
<circle cx="150.6" cy="302.2" r="1.20" fill="#f8f2f6" opacity="1.0"/>
<circle cx="132.7" cy="318.9" r="1.49" fill="#f8f2f6" opacity="1.0"/>
<circle cx="136.9" cy="291.7" r="1.00" fill="#f8f2f6" opacity="1.0"/>
<circle cx="122.6" cy="291.0" r="1.84" fill="#f8f2f6" opacity="1.0"/>
<circle cx="115.7" cy="287.8" r="0.86" fill="#f8f2f6" opacity="1.0"/>
<circle cx="104.5" cy="321.3" r="1.76" fill="#f8f2f6" opacity="1.0"/>
<circle cx="103.1" cy="296.6" r="1.33" fill="#f8f2f6" opacity="1.0"/>
<circle cx="147.1" cy="316.6" r="1.01" fill="#f8f2f6" opacity="1.0"/>
<circle cx="160.9" cy="311.7" r="1.05" fill="#f8f2f6" opacity="1.0"/>
<circle cx="111.3" cy="295.8" r="1.60" fill="#f8f2f6" opacity="1.0"/>
<circle cx="159.1" cy="308.4" r="1.71" fill="#f8f2f6" opacity="1.0"/>
<circle cx="120.6" cy="301.0" r="1.28" fill="#f8f2f6" opacity="1.0"/>
<circle cx="116.9" cy="305.2" r="1.07" fill="#f8f2f6" opacity="1.0"/>
<circle cx="152.3" cy="313.3" r="1.45" fill="#f8f2f6" opacity="1.0"/>
<circle cx="102.4" cy="289.3" r="1.78" fill="#f8f2f6" opacity="1.0"/>
<circle cx="115.1" cy="307.0" r="1.75" fill="#f8f2f6" opacity="1.0"/>
<circle cx="150.7" cy="316.9" r="0.90" fill="#f8f2f6" opacity="1.0"/>
<circle cx="134.6" cy="323.9" r="1.74" fill="#f8f2f6" opacity="1.0"/>
<circle cx="132.7" cy="290.5" r="1.09" fill="#f8f2f6" opacity="1.0"/>
<circle cx="114.2" cy="299.3" r="1.05" fill="#f8f2f6" opacity="1.0"/>
<circle cx="141.3" cy="318.9" r="0.92" fill="#f8f2f6" opacity="1.0"/>
<circle cx="107.6" cy="307.9" r="1.48" fill="#f8f2f6" opacity="1.0"/>
<circle cx="133.2" cy="298.0" r="1.53" fill="#f8f2f6" opacity="1.0"/>
<circle cx="117.2" cy="287.5" r="1.77" fill="#f8f2f6" opacity="1.0"/>
<circle cx="115.1" cy="331.9" r="1.20" fill="#f8f2f6" opacity="1.0"/>
<circle cx="165.9" cy="327.6" r="1.07" fill="#f8f2f6" opacity="1.0"/>
<circle cx="122.7" cy="332.2" r="1.29" fill="#f8f2f6" opacity="1.0"/>
<circle cx="168.5" cy="341.6" r="1.36" fill="#f8f2f6" opacity="1.0"/>
<circle cx="99.0" cy="324.4" r="1.36" fill="#f8f2f6" opacity="1.0"/>
<circle cx="136.7" cy="322.0" r="1.13" fill="#f8f2f6" opacity="1.0"/>
<circle cx="164.2" cy="324.2" r="0.95" fill="#f8f2f6" opacity="1.0"/>
<circle cx="107.8" cy="342.8" r="0.84" fill="#f8f2f6" opacity="1.0"/>
<circle cx="114.1" cy="320.4" r="0.77" fill="#f8f2f6" opacity="1.0"/>
<circle cx="96.2" cy="318.5" r="1.07" fill="#f8f2f6" opacity="1.0"/>
<circle cx="117.0" cy="327.6" r="1.11" fill="#f8f2f6" opacity="1.0"/>
<circle cx="118.3" cy="336.9" r="0.87" fill="#f8f2f6" opacity="1.0"/>
<circle cx="131.8" cy="327.6" r="1.22" fill="#f8f2f6" opacity="1.0"/>
<circle cx="128.4" cy="325.3" r="1.35" fill="#f8f2f6" opacity="1.0"/>
<path d="M115.0,280.4 l-2,30 M157.0,283.4 l2,35 M101.0,308.4 l2,30" stroke="#f8f0f4" stroke-width="0.9" fill="none" opacity="0.75"/>
<ellipse cx="127.0" cy="306.4" rx="6" ry="5" fill="#6a40a0" opacity="0.55" filter="url(#soft)"/>
</g>
<rect x="96.50" y="339.60" width="15.50" height="1.6" fill="#151515"/>
<g clip-path="url(#c19)">
<rect x="171.90" y="278.40" width="75.60" height="65.00" fill="rgb(208,92,138)"/>
<rect x="171.90" y="278.40" width="75.60" height="65.00" filter="url(#f20)"/>
<rect x="171.90" y="278.40" width="75.60" height="65.00" filter="url(#f21)"/>
<rect x="171.90" y="278.40" width="75.60" height="65.00" filter="url(#f22)"/>
<path d="M181.9,282.4 l4,26 l-2,30 M209.9,318.4 l2,24" stroke="#f8f0f4" stroke-width="0.8" fill="none" opacity="0.75"/>
<ellipse cx="208.9" cy="289.4" rx="2.6" ry="3.2" fill="#f6eef2"/><circle cx="209.9" cy="315.4" r="4.2" fill="#e0707e" stroke="#f6e8ee" stroke-width="1.2"/>
</g>
<rect x="173.40" y="339.60" width="15.50" height="1.6" fill="#151515"/>
<text x="257.60" y="201.90" font-size="17.5" text-anchor="start" fill="#1e1e1e">E</text>
<text x="312.20" y="207.70" font-size="9.0" text-anchor="middle" fill="#1e1e1e">WT</text>
<text x="382.80" y="207.70" font-size="9.2" text-anchor="middle" fill="#1e1e1e">MG53<tspan font-size="5.5" dx="0.74" dy="-3.9" letter-spacing="0.55">-/-</tspan></text>
<text x="460.00" y="207.70" font-size="9.2" text-anchor="middle" fill="#1e1e1e">MG53<tspan font-size="5.5" dx="0.74" dy="-3.9" letter-spacing="0.55">-/-</tspan><tspan dy="3.9">+rhMG53</tspan></text>
<text x="269.60" y="241.80" font-size="9.0" text-anchor="middle" fill="#1e1e1e" transform="rotate(-90 269.6 241.8)">Pair fed</text>
<text x="269.60" y="300.20" font-size="8.9" text-anchor="middle" fill="#1e1e1e" transform="rotate(-90 269.6 300.2)">EtOH fed</text>
<g clip-path="url(#c23)">
<rect x="270.80" y="211.40" width="73.30" height="62.20" fill="rgb(230,206,202)"/>
<rect x="270.80" y="211.40" width="73.30" height="62.20" filter="url(#f24)"/>
<rect x="270.80" y="211.40" width="73.30" height="62.20" filter="url(#f25)"/>
<rect x="270.80" y="211.40" width="73.30" height="62.20" filter="url(#f26)"/>
<rect x="270.80" y="211.40" width="73.30" height="62.20" filter="url(#f27)"/>
<path d="M312.8,217.4 q2,8 0,14 l6,10" stroke="#bcd2da" stroke-width="2.2" fill="none" opacity="0.6"/>
</g>
<rect x="272.00" y="269.40" width="7.50" height="1.6" fill="#151515"/>
<g clip-path="url(#c28)">
<rect x="345.90" y="211.40" width="73.70" height="62.20" fill="rgb(230,206,202)"/>
<rect x="345.90" y="211.40" width="73.70" height="62.20" filter="url(#f29)"/>
<rect x="345.90" y="211.40" width="73.70" height="62.20" filter="url(#f30)"/>
<rect x="345.90" y="211.40" width="73.70" height="62.20" filter="url(#f31)"/>
<rect x="345.90" y="211.40" width="73.70" height="62.20" filter="url(#f32)"/>
<circle cx="389.9" cy="237.4" r="1.8" fill="#b89070" opacity="0.7"/>
</g>
<rect x="347.10" y="269.40" width="7.50" height="1.6" fill="#151515"/>
<g clip-path="url(#c33)">
<rect x="421.50" y="211.40" width="73.40" height="62.20" fill="rgb(230,206,202)"/>
<rect x="421.50" y="211.40" width="73.40" height="62.20" filter="url(#f34)"/>
<rect x="421.50" y="211.40" width="73.40" height="62.20" filter="url(#f35)"/>
<rect x="421.50" y="211.40" width="73.40" height="62.20" filter="url(#f36)"/>
<rect x="421.50" y="211.40" width="73.40" height="62.20" filter="url(#f37)"/>
</g>
<rect x="422.70" y="269.40" width="7.50" height="1.6" fill="#151515"/>
<g clip-path="url(#c38)">
<rect x="270.80" y="276.40" width="73.30" height="62.00" fill="rgb(236,200,195)"/>
<rect x="270.80" y="276.40" width="73.30" height="62.00" filter="url(#f39)"/>
<rect x="270.80" y="276.40" width="73.30" height="62.00" filter="url(#f40)"/>
<rect x="270.80" y="276.40" width="73.30" height="62.00" filter="url(#f41)"/>
<path d="M308.8,300.4 q8,-4 12,2 q2,8 -2,14 q-4,6 -8,8 q-4,0 -5,-6 q-1,-10 3,-18 z" fill="#d8d4d0"/>
<path d="M306.8,322.4 q-6,8 -14,16" stroke="#ddd2cc" stroke-width="4" fill="none" opacity="0.8"/>
</g>
<rect x="272.00" y="334.20" width="7.50" height="1.6" fill="#151515"/>
<g clip-path="url(#c42)">
<rect x="345.90" y="276.40" width="73.70" height="62.00" fill="rgb(236,205,200)"/>
<rect x="345.90" y="276.40" width="73.70" height="62.00" filter="url(#f43)"/>
<rect x="345.90" y="276.40" width="73.70" height="62.00" filter="url(#f44)"/>
<rect x="345.90" y="276.40" width="73.70" height="62.00" filter="url(#f45)"/>
</g>
<rect x="347.10" y="334.20" width="7.50" height="1.6" fill="#151515"/>
<g clip-path="url(#c46)">
<rect x="421.50" y="276.40" width="73.40" height="62.00" fill="rgb(236,202,194)"/>
<rect x="421.50" y="276.40" width="73.40" height="62.00" filter="url(#f47)"/>
<rect x="421.50" y="276.40" width="73.40" height="62.00" filter="url(#f48)"/>
<ellipse cx="461.5" cy="308.4" rx="8.5" ry="8" fill="#dcc8b4" opacity="0.85"/>
<ellipse cx="425.5" cy="314.4" rx="3.5" ry="10" fill="#c9a58a" opacity="0.7"/>
</g>
<rect x="422.70" y="334.20" width="7.50" height="1.6" fill="#151515"/>
<text x="505.60" y="201.00" font-size="17.5" text-anchor="start" fill="#1e1e1e">F</text>
<path d="M548.55,340.90 V317.13 H558.75 V340.90" fill="#fff" stroke="#262626" stroke-width="1.7" stroke-linejoin="miter"/>
<line x1="553.65" y1="309.53" x2="553.65" y2="324.74" stroke="#262626" stroke-width="1.3"/>
<line x1="550.45" y1="309.53" x2="556.85" y2="309.53" stroke="#262626" stroke-width="1.3"/>
<line x1="550.45" y1="324.74" x2="556.85" y2="324.74" stroke="#262626" stroke-width="1.3"/>
<circle cx="555.54" cy="319.80" r="1.8" fill="none" stroke="#262626" stroke-width="0.75" opacity="0.9"/>
<circle cx="553.42" cy="310.64" r="1.8" fill="none" stroke="#262626" stroke-width="0.75" opacity="0.9"/>
<circle cx="552.53" cy="325.97" r="1.8" fill="none" stroke="#262626" stroke-width="0.75" opacity="0.9"/>
<circle cx="557.98" cy="321.47" r="1.8" fill="none" stroke="#262626" stroke-width="0.75" opacity="0.9"/>
<circle cx="553.56" cy="310.90" r="1.8" fill="none" stroke="#262626" stroke-width="0.75" opacity="0.9"/>
<circle cx="554.53" cy="313.28" r="1.8" fill="none" stroke="#262626" stroke-width="0.75" opacity="0.9"/>
<circle cx="554.24" cy="319.86" r="1.8" fill="none" stroke="#262626" stroke-width="0.75" opacity="0.9"/>
<path d="M567.15,340.90 V272.45 H577.35 V340.90" fill="#fff" stroke="#a8282c" stroke-width="1.7" stroke-linejoin="miter"/>
<line x1="572.25" y1="266.75" x2="572.25" y2="278.16" stroke="#a8282c" stroke-width="1.3"/>
<line x1="569.05" y1="266.75" x2="575.45" y2="266.75" stroke="#a8282c" stroke-width="1.3"/>
<line x1="569.05" y1="278.16" x2="575.45" y2="278.16" stroke="#a8282c" stroke-width="1.3"/>
<circle cx="570.92" cy="264.91" r="1.8" fill="none" stroke="#a8282c" stroke-width="0.75" opacity="0.9"/>
<circle cx="570.59" cy="273.94" r="1.8" fill="none" stroke="#a8282c" stroke-width="0.75" opacity="0.9"/>
<circle cx="571.71" cy="272.02" r="1.8" fill="none" stroke="#a8282c" stroke-width="0.75" opacity="0.9"/>
<circle cx="576.97" cy="268.35" r="1.8" fill="none" stroke="#a8282c" stroke-width="0.75" opacity="0.9"/>
<circle cx="576.74" cy="266.12" r="1.8" fill="none" stroke="#a8282c" stroke-width="0.75" opacity="0.9"/>
<circle cx="567.98" cy="279.26" r="1.8" fill="none" stroke="#a8282c" stroke-width="0.75" opacity="0.9"/>
<circle cx="571.23" cy="276.81" r="1.8" fill="none" stroke="#a8282c" stroke-width="0.75" opacity="0.9"/>
<path d="M597.95,340.90 V314.76 H608.45 V340.90" fill="#fff" stroke="#262626" stroke-width="1.7" stroke-linejoin="miter"/>
<line x1="603.20" y1="306.20" x2="603.20" y2="323.31" stroke="#262626" stroke-width="1.3"/>
<line x1="600.00" y1="306.20" x2="606.40" y2="306.20" stroke="#262626" stroke-width="1.3"/>
<line x1="600.00" y1="323.31" x2="606.40" y2="323.31" stroke="#262626" stroke-width="1.3"/>
<circle cx="606.44" cy="313.09" r="1.8" fill="none" stroke="#262626" stroke-width="0.75" opacity="0.9"/>
<circle cx="607.25" cy="317.32" r="1.8" fill="none" stroke="#262626" stroke-width="0.75" opacity="0.9"/>
<circle cx="605.58" cy="307.75" r="1.8" fill="none" stroke="#262626" stroke-width="0.75" opacity="0.9"/>
<circle cx="600.83" cy="308.28" r="1.8" fill="none" stroke="#262626" stroke-width="0.75" opacity="0.9"/>
<circle cx="601.36" cy="322.34" r="1.8" fill="none" stroke="#262626" stroke-width="0.75" opacity="0.9"/>
<circle cx="605.24" cy="303.76" r="1.8" fill="none" stroke="#262626" stroke-width="0.75" opacity="0.9"/>
<circle cx="602.70" cy="312.67" r="1.8" fill="none" stroke="#262626" stroke-width="0.75" opacity="0.9"/>
<path d="M617.05,340.90 V242.03 H627.35 V340.90" fill="#fff" stroke="#a8282c" stroke-width="1.7" stroke-linejoin="miter"/>
<line x1="622.20" y1="238.23" x2="622.20" y2="245.83" stroke="#a8282c" stroke-width="1.3"/>
<line x1="619.00" y1="238.23" x2="625.40" y2="238.23" stroke="#a8282c" stroke-width="1.3"/>
<line x1="619.00" y1="245.83" x2="625.40" y2="245.83" stroke="#a8282c" stroke-width="1.3"/>
<circle cx="619.07" cy="239.52" r="1.8" fill="none" stroke="#a8282c" stroke-width="0.75" opacity="0.9"/>
<circle cx="625.80" cy="245.23" r="1.8" fill="none" stroke="#a8282c" stroke-width="0.75" opacity="0.9"/>
<circle cx="622.75" cy="241.34" r="1.8" fill="none" stroke="#a8282c" stroke-width="0.75" opacity="0.9"/>
<circle cx="625.25" cy="239.41" r="1.8" fill="none" stroke="#a8282c" stroke-width="0.75" opacity="0.9"/>
<circle cx="618.55" cy="243.39" r="1.8" fill="none" stroke="#a8282c" stroke-width="0.75" opacity="0.9"/>
<circle cx="624.38" cy="243.30" r="1.8" fill="none" stroke="#a8282c" stroke-width="0.75" opacity="0.9"/>
<path d="M647.85,340.90 V314.28 H658.35 V340.90" fill="#fff" stroke="#262626" stroke-width="1.7" stroke-linejoin="miter"/>
<line x1="653.10" y1="305.73" x2="653.10" y2="322.84" stroke="#262626" stroke-width="1.3"/>
<line x1="649.90" y1="305.73" x2="656.30" y2="305.73" stroke="#262626" stroke-width="1.3"/>
<line x1="649.90" y1="322.84" x2="656.30" y2="322.84" stroke="#262626" stroke-width="1.3"/>
<circle cx="655.13" cy="321.57" r="1.8" fill="none" stroke="#262626" stroke-width="0.75" opacity="0.9"/>
<circle cx="652.40" cy="313.53" r="1.8" fill="none" stroke="#262626" stroke-width="0.75" opacity="0.9"/>
<circle cx="649.11" cy="318.67" r="1.8" fill="none" stroke="#262626" stroke-width="0.75" opacity="0.9"/>
<circle cx="655.10" cy="327.47" r="1.8" fill="none" stroke="#262626" stroke-width="0.75" opacity="0.9"/>
<circle cx="656.30" cy="308.41" r="1.8" fill="none" stroke="#262626" stroke-width="0.75" opacity="0.9"/>
<circle cx="651.75" cy="310.07" r="1.8" fill="none" stroke="#262626" stroke-width="0.75" opacity="0.9"/>
<circle cx="652.94" cy="308.33" r="1.8" fill="none" stroke="#262626" stroke-width="0.75" opacity="0.9"/>
<path d="M666.45,340.90 V291.47 H676.65 V340.90" fill="#fff" stroke="#a8282c" stroke-width="1.7" stroke-linejoin="miter"/>
<line x1="671.55" y1="287.66" x2="671.55" y2="295.27" stroke="#a8282c" stroke-width="1.3"/>
<line x1="668.35" y1="287.66" x2="674.75" y2="287.66" stroke="#a8282c" stroke-width="1.3"/>
<line x1="668.35" y1="295.27" x2="674.75" y2="295.27" stroke="#a8282c" stroke-width="1.3"/>
<circle cx="670.09" cy="291.00" r="1.8" fill="none" stroke="#a8282c" stroke-width="0.75" opacity="0.9"/>
<circle cx="673.17" cy="291.40" r="1.8" fill="none" stroke="#a8282c" stroke-width="0.75" opacity="0.9"/>
<circle cx="673.58" cy="292.01" r="1.8" fill="none" stroke="#a8282c" stroke-width="0.75" opacity="0.9"/>
<circle cx="667.18" cy="295.01" r="1.8" fill="none" stroke="#a8282c" stroke-width="0.75" opacity="0.9"/>
<circle cx="673.88" cy="294.53" r="1.8" fill="none" stroke="#a8282c" stroke-width="0.75" opacity="0.9"/>
<circle cx="675.82" cy="294.38" r="1.8" fill="none" stroke="#a8282c" stroke-width="0.75" opacity="0.9"/>
<circle cx="672.85" cy="287.94" r="1.8" fill="none" stroke="#a8282c" stroke-width="0.75" opacity="0.9"/>
<line x1="540.20" y1="198.30" x2="540.20" y2="341.50" stroke="#2a2a2a" stroke-width="1.4"/>
<line x1="539.50" y1="340.90" x2="684.00" y2="340.90" stroke="#2a2a2a" stroke-width="1.4"/>
<line x1="537.20" y1="340.90" x2="540.20" y2="340.90" stroke="#2a2a2a" stroke-width="1.2"/>
<text x="536.60" y="344.40" font-size="10" text-anchor="end" fill="#1e1e1e">0</text>
<line x1="537.20" y1="293.37" x2="540.20" y2="293.37" stroke="#2a2a2a" stroke-width="1.2"/>
<text x="536.60" y="296.87" font-size="10" text-anchor="end" fill="#1e1e1e">50</text>
<line x1="537.20" y1="245.83" x2="540.20" y2="245.83" stroke="#2a2a2a" stroke-width="1.2"/>
<text x="536.60" y="249.33" font-size="10" text-anchor="end" fill="#1e1e1e">100</text>
<line x1="537.20" y1="198.30" x2="540.20" y2="198.30" stroke="#2a2a2a" stroke-width="1.2"/>
<text x="536.60" y="201.80" font-size="10" text-anchor="end" fill="#1e1e1e">150</text>
<line x1="563.00" y1="340.90" x2="563.00" y2="343.90" stroke="#2a2a2a" stroke-width="1.2"/>
<line x1="612.70" y1="340.90" x2="612.70" y2="343.90" stroke="#2a2a2a" stroke-width="1.2"/>
<line x1="662.30" y1="340.90" x2="662.30" y2="343.90" stroke="#2a2a2a" stroke-width="1.2"/>
<text x="563.00" y="354.40" font-size="10" text-anchor="middle" fill="#1e1e1e">WT</text>
<text x="613.00" y="354.40" font-size="10" text-anchor="middle" fill="#1e1e1e">MG53<tspan font-size="6.0" dx="0.80" dy="-4.2" letter-spacing="0.60">-/-</tspan></text>
<text x="662.00" y="354.40" font-size="10" text-anchor="middle" fill="#1e1e1e">MG53<tspan font-size="6.0" dx="0.80" dy="-4.2" letter-spacing="0.60">-/-</tspan></text>
<text x="661.40" y="365.00" font-size="10" text-anchor="middle" fill="#1e1e1e">+rhMG53</text>
<rect x="546.60" y="200.30" width="13.6" height="3.6" fill="#fff" stroke="#262626" stroke-width="1.4"/>
<text x="569.90" y="205.20" font-size="10" text-anchor="start" fill="#1e1e1e">Pair fed</text>
<rect x="546.60" y="213.10" width="13.6" height="3.6" fill="#fff" stroke="#a8282c" stroke-width="1.4"/>
<text x="569.90" y="218.40" font-size="10" text-anchor="start" fill="#1e1e1e">EtOH fed</text>
<line x1="546.30" y1="259.90" x2="573.50" y2="259.90" stroke="#a8a8a8" stroke-width="1.5"/>
<text x="559.50" y="257.50" font-size="6.9" text-anchor="middle" fill="#1e1e1e">p &lt; 0.0001</text>
<line x1="572.10" y1="233.00" x2="621.20" y2="233.00" stroke="#a8a8a8" stroke-width="1.5"/>
<text x="599.30" y="230.20" font-size="6.9" text-anchor="middle" fill="#1e1e1e">p &lt; 0.0001</text>
<line x1="651.70" y1="282.10" x2="669.80" y2="282.10" stroke="#a8a8a8" stroke-width="1.5"/>
<text x="663.50" y="279.30" font-size="6.9" text-anchor="middle" fill="#1e1e1e">p &lt; 0.0001</text>
<text x="515.70" y="268.20" font-size="10.5" text-anchor="middle" fill="#1e1e1e" transform="rotate(-90 515.7 268.2)">Triglyceride (mg/g liver)</text>
<text x="-0.20" y="371.30" font-size="17.5" text-anchor="start" fill="#1e1e1e">G</text>
<text x="54.00" y="380.20" font-size="9.6" text-anchor="middle" fill="#1e1e1e">WT</text>
<text x="127.30" y="380.20" font-size="9.6" text-anchor="middle" fill="#1e1e1e">MG53<tspan font-size="5.8" dx="0.77" dy="-4.0" letter-spacing="0.58">-/-</tspan></text>
<text x="196.00" y="380.20" font-size="9.6" text-anchor="middle" fill="#1e1e1e">MG53<tspan font-size="5.8" dx="0.77" dy="-4.0" letter-spacing="0.58">-/-</tspan><tspan dy="4.0">+rhMG53</tspan></text>
<text x="16.90" y="414.10" font-size="8.9" text-anchor="middle" fill="#1e1e1e" transform="rotate(-90 16.9 414.1)">Pair fed</text>
<text x="16.90" y="475.90" font-size="8.9" text-anchor="middle" fill="#1e1e1e" transform="rotate(-90 16.9 475.9)">EtOH fed</text>
<g clip-path="url(#c49)">
<rect x="17.50" y="382.80" width="69.50" height="64.10" fill="rgb(12,0,2)"/>
<rect x="17.50" y="382.80" width="69.50" height="64.10" filter="url(#f50)"/>
<rect x="17.50" y="382.80" width="69.50" height="64.10" filter="url(#f51)"/>
<rect x="17.50" y="382.80" width="69.50" height="64.10" filter="url(#f52)"/>
<circle cx="45.5" cy="410.8" r="10" fill="url(#gdark)"/>
</g>
<rect x="68.8" y="438.3" width="11.5" height="0.9" fill="#ffffff"/>
<text x="76.00" y="443.90" font-size="5.6" text-anchor="middle" fill="#ffffff" font-weight="bold">50μm</text>
<g clip-path="url(#c53)">
<rect x="89.20" y="382.80" width="69.20" height="64.10" fill="rgb(12,0,2)"/>
<rect x="89.20" y="382.80" width="69.20" height="64.10" filter="url(#f54)"/>
<rect x="89.20" y="382.80" width="69.20" height="64.10" filter="url(#f55)"/>
<rect x="89.20" y="382.80" width="69.20" height="64.10" filter="url(#f56)"/>
<circle cx="124.2" cy="415.8" r="8" fill="url(#gdark)"/>
</g>
<rect x="140.2" y="438.3" width="11.5" height="0.9" fill="#ffffff"/>
<text x="147.40" y="443.90" font-size="5.6" text-anchor="middle" fill="#ffffff" font-weight="bold">50μm</text>
<g clip-path="url(#c57)">
<rect x="160.50" y="382.80" width="69.80" height="64.10" fill="rgb(12,0,2)"/>
<rect x="160.50" y="382.80" width="69.80" height="64.10" filter="url(#f58)"/>
<rect x="160.50" y="382.80" width="69.80" height="64.10" filter="url(#f59)"/>
<rect x="160.50" y="382.80" width="69.80" height="64.10" filter="url(#f60)"/>
<circle cx="200.5" cy="412.8" r="9" fill="url(#gdark)"/>
</g>
<rect x="212.1" y="438.3" width="11.5" height="0.9" fill="#ffffff"/>
<text x="219.30" y="443.90" font-size="5.6" text-anchor="middle" fill="#ffffff" font-weight="bold">50μm</text>
<g clip-path="url(#c61)">
<rect x="17.50" y="449.70" width="69.50" height="64.90" fill="rgb(150,20,28)"/>
<rect x="17.50" y="449.70" width="69.50" height="64.90" filter="url(#f62)"/>
<rect x="17.50" y="449.70" width="69.50" height="64.90" filter="url(#f63)"/>
<rect x="17.50" y="449.70" width="69.50" height="64.90" filter="url(#f64)"/>
<path d="M37.5,464.7 q6,-3 11,-1 q5,4 4,10 q3,6 -2,9 q-5,1 -8,-2 q-3,-1 -5,1 q-7,4 -12,7 q-5,3 -8,5 l-0.8,-1.8 q7,-4 13,-8 q3,-3 2,-8 q-1,-7 5,-12 z" fill="#060000"/>
<circle cx="60.4" cy="507.5" r="1.71" fill="#060000" opacity="1.0"/>
<circle cx="66.9" cy="510.5" r="1.84" fill="#060000" opacity="1.0"/>
<circle cx="68.5" cy="496.9" r="2.52" fill="#060000" opacity="1.0"/>
<circle cx="20.1" cy="460.7" r="2.79" fill="#060000" opacity="1.0"/>
<circle cx="69.4" cy="466.6" r="2.28" fill="#060000" opacity="1.0"/>
<circle cx="29.3" cy="473.1" r="1.68" fill="#060000" opacity="1.0"/>
<circle cx="33.4" cy="458.7" r="1.82" fill="#060000" opacity="1.0"/>
<circle cx="62.5" cy="470.4" r="2.12" fill="#060000" opacity="1.0"/>
<circle cx="85.7" cy="453.3" r="1.36" fill="#060000" opacity="1.0"/>
<circle cx="23.8" cy="493.7" r="1.63" fill="#060000" opacity="1.0"/>
<circle cx="48.0" cy="465.7" r="2.35" fill="#060000" opacity="1.0"/>
<circle cx="70.2" cy="478.7" r="2.45" fill="#060000" opacity="1.0"/>
<circle cx="33.6" cy="472.0" r="2.72" fill="#060000" opacity="1.0"/>
<circle cx="33.4" cy="459.0" r="0.86" fill="#060000" opacity="1.0"/>
<circle cx="64.2" cy="503.0" r="0.90" fill="#060000" opacity="1.0"/>
<circle cx="50.7" cy="475.4" r="1.46" fill="#060000" opacity="1.0"/>
<circle cx="33.8" cy="474.6" r="1.08" fill="#060000" opacity="1.0"/>
<circle cx="81.6" cy="462.6" r="1.87" fill="#060000" opacity="1.0"/>
<circle cx="62.0" cy="492.4" r="1.75" fill="#060000" opacity="1.0"/>
<circle cx="53.9" cy="510.5" r="1.15" fill="#060000" opacity="1.0"/>
<circle cx="31.4" cy="469.3" r="2.28" fill="#060000" opacity="1.0"/>
<circle cx="46.9" cy="475.0" r="0.95" fill="#060000" opacity="1.0"/>
<circle cx="26.3" cy="492.0" r="1.26" fill="#060000" opacity="1.0"/>
<circle cx="49.5" cy="465.1" r="1.42" fill="#060000" opacity="1.0"/>
<circle cx="30.8" cy="508.6" r="2.05" fill="#060000" opacity="1.0"/>
<circle cx="51.3" cy="464.6" r="2.47" fill="#060000" opacity="1.0"/>
</g>
<rect x="68.8" y="506.0" width="11.5" height="0.9" fill="#ffffff"/>
<text x="76.00" y="511.60" font-size="5.6" text-anchor="middle" fill="#ffffff" font-weight="bold">50μm</text>
<g clip-path="url(#c65)">
<rect x="89.20" y="449.70" width="69.20" height="64.90" fill="rgb(178,26,34)"/>
<rect x="89.20" y="449.70" width="69.20" height="64.90" filter="url(#f66)"/>
<rect x="89.20" y="449.70" width="69.20" height="64.90" filter="url(#f67)"/>
<circle cx="152.4" cy="458.6" r="2.25" fill="#0a0000" opacity="1.0"/>
<circle cx="122.6" cy="511.9" r="1.79" fill="#0a0000" opacity="1.0"/>
<circle cx="120.1" cy="487.2" r="1.79" fill="#0a0000" opacity="1.0"/>
<circle cx="152.3" cy="506.7" r="2.68" fill="#0a0000" opacity="1.0"/>
<circle cx="93.1" cy="513.9" r="2.23" fill="#0a0000" opacity="1.0"/>
<circle cx="130.6" cy="484.9" r="2.14" fill="#0a0000" opacity="1.0"/>
<circle cx="153.6" cy="467.4" r="1.17" fill="#0a0000" opacity="1.0"/>
<circle cx="158.4" cy="466.6" r="1.52" fill="#0a0000" opacity="1.0"/>
<circle cx="119.5" cy="508.0" r="1.78" fill="#0a0000" opacity="1.0"/>
<circle cx="90.1" cy="467.0" r="1.40" fill="#0a0000" opacity="1.0"/>
<circle cx="90.6" cy="507.6" r="2.71" fill="#0a0000" opacity="1.0"/>
<circle cx="98.6" cy="465.5" r="3.35" fill="#0a0000" opacity="1.0"/>
<circle cx="137.7" cy="478.7" r="2.31" fill="#0a0000" opacity="1.0"/>
<circle cx="157.2" cy="465.2" r="2.44" fill="#0a0000" opacity="1.0"/>
<circle cx="90.3" cy="481.2" r="1.41" fill="#0a0000" opacity="1.0"/>
<circle cx="112.7" cy="475.2" r="1.91" fill="#0a0000" opacity="1.0"/>
<circle cx="151.1" cy="473.4" r="0.85" fill="#0a0000" opacity="1.0"/>
<circle cx="147.1" cy="509.6" r="2.99" fill="#0a0000" opacity="1.0"/>
<circle cx="109.6" cy="472.7" r="2.79" fill="#0a0000" opacity="1.0"/>
<circle cx="94.8" cy="453.5" r="2.11" fill="#0a0000" opacity="1.0"/>
<circle cx="105.1" cy="479.8" r="1.22" fill="#0a0000" opacity="1.0"/>
<circle cx="155.7" cy="481.9" r="1.70" fill="#0a0000" opacity="1.0"/>
<circle cx="110.3" cy="467.5" r="2.83" fill="#0a0000" opacity="1.0"/>
<circle cx="144.4" cy="501.0" r="3.22" fill="#0a0000" opacity="1.0"/>
<circle cx="131.0" cy="474.6" r="1.89" fill="#0a0000" opacity="1.0"/>
<circle cx="98.4" cy="473.4" r="2.06" fill="#0a0000" opacity="1.0"/>
<circle cx="149.1" cy="487.2" r="1.05" fill="#0a0000" opacity="1.0"/>
<circle cx="126.3" cy="471.7" r="2.90" fill="#0a0000" opacity="1.0"/>
<circle cx="147.2" cy="488.3" r="2.51" fill="#0a0000" opacity="1.0"/>
<circle cx="118.3" cy="467.8" r="2.89" fill="#0a0000" opacity="1.0"/>
<circle cx="142.7" cy="485.8" r="3.22" fill="#0a0000" opacity="1.0"/>
<circle cx="145.9" cy="495.1" r="1.07" fill="#0a0000" opacity="1.0"/>
<circle cx="155.7" cy="455.8" r="1.32" fill="#0a0000" opacity="1.0"/>
<circle cx="97.7" cy="461.2" r="2.62" fill="#0a0000" opacity="1.0"/>
<circle cx="127.8" cy="458.0" r="1.32" fill="#0a0000" opacity="1.0"/>
<circle cx="140.7" cy="470.3" r="1.36" fill="#0a0000" opacity="1.0"/>
<circle cx="144.8" cy="466.6" r="1.02" fill="#0a0000" opacity="1.0"/>
<circle cx="125.2" cy="497.5" r="0.81" fill="#0a0000" opacity="1.0"/>
<circle cx="132.7" cy="461.7" r="3.06" fill="#0a0000" opacity="1.0"/>
<circle cx="121.7" cy="471.8" r="1.67" fill="#0a0000" opacity="1.0"/>
<circle cx="94.5" cy="452.0" r="2.11" fill="#0a0000" opacity="1.0"/>
<circle cx="123.4" cy="460.0" r="1.10" fill="#0a0000" opacity="1.0"/>
<circle cx="120.1" cy="509.4" r="0.95" fill="#0a0000" opacity="1.0"/>
<circle cx="135.5" cy="510.2" r="1.58" fill="#0a0000" opacity="1.0"/>
<circle cx="114.9" cy="485.5" r="1.41" fill="#0a0000" opacity="1.0"/>
<circle cx="91.2" cy="459.4" r="3.12" fill="#0a0000" opacity="1.0"/>
<circle cx="118.8" cy="506.7" r="1.24" fill="#0a0000" opacity="1.0"/>
<circle cx="141.2" cy="464.4" r="1.75" fill="#0a0000" opacity="1.0"/>
<circle cx="106.2" cy="476.7" r="5" fill="#0a0000"/><circle cx="127.2" cy="507.7" r="4.5" fill="#0a0000"/><circle cx="99.2" cy="454.7" r="4" fill="#0a0000"/>
</g>
<rect x="140.2" y="506.0" width="11.5" height="0.9" fill="#ffffff"/>
<text x="147.40" y="511.60" font-size="5.6" text-anchor="middle" fill="#ffffff" font-weight="bold">50μm</text>
<g clip-path="url(#c68)">
<rect x="160.50" y="449.70" width="69.80" height="64.90" fill="rgb(176,38,46)"/>
<rect x="160.50" y="449.70" width="69.80" height="64.90" filter="url(#f69)"/>
<rect x="160.50" y="449.70" width="69.80" height="64.90" filter="url(#f70)"/>
<rect x="160.50" y="449.70" width="69.80" height="64.90" filter="url(#f71)"/>
<ellipse cx="168.5" cy="453.7" rx="26" ry="18" fill="url(#gdark)" opacity="0.75"/>
</g>
<rect x="212.1" y="506.0" width="11.5" height="0.9" fill="#ffffff"/>
<text x="219.30" y="511.60" font-size="5.6" text-anchor="middle" fill="#ffffff" font-weight="bold">50μm</text>
<text x="242.70" y="374.30" font-size="17.5" text-anchor="start" fill="#1e1e1e">H</text>
<line x1="266.90" y1="381.80" x2="462.00" y2="381.80" stroke="#777777" stroke-width="1.5"/>
<line x1="480.60" y1="381.80" x2="678.30" y2="381.80" stroke="#777777" stroke-width="1.5"/>
<text x="366.00" y="377.60" font-size="10.3" text-anchor="middle" fill="#1e1e1e">Pair fed</text>
<text x="578.80" y="377.60" font-size="10.3" text-anchor="middle" fill="#1e1e1e">EtOH fed</text>
<text x="292.90" y="392.10" font-size="9.8" text-anchor="middle" fill="#1e1e1e">WT</text>
<text x="366.90" y="392.10" font-size="9.8" text-anchor="middle" fill="#1e1e1e">MG53<tspan font-size="5.9" dx="0.78" dy="-4.1" letter-spacing="0.59">-/-</tspan></text>
<text x="433.30" y="392.10" font-size="9.8" text-anchor="middle" fill="#1e1e1e">MG53<tspan font-size="5.9" dx="0.78" dy="-4.1" letter-spacing="0.59">-/-</tspan><tspan dy="4.1">+rhMG53</tspan></text>
<text x="506.00" y="392.10" font-size="9.8" text-anchor="middle" fill="#1e1e1e">WT</text>
<text x="578.40" y="392.10" font-size="9.8" text-anchor="middle" fill="#1e1e1e">MG53<tspan font-size="5.9" dx="0.78" dy="-4.1" letter-spacing="0.59">-/-</tspan></text>
<text x="647.50" y="392.10" font-size="9.8" text-anchor="middle" fill="#1e1e1e">MG53<tspan font-size="5.9" dx="0.78" dy="-4.1" letter-spacing="0.59">-/-</tspan><tspan dy="4.1">+rhMG53</tspan></text>
<text x="257.60" y="426.10" font-size="10.2" text-anchor="middle" fill="#1e1e1e" transform="rotate(-90 257.6 426.1)">600×</text>
<text x="257.60" y="493.10" font-size="10.4" text-anchor="middle" fill="#1e1e1e" transform="rotate(-90 257.6 493.1)">10000×</text>
<g clip-path="url(#c72)">
<rect x="262.5" y="397.59999999999997" width="66.6" height="66.6" fill="rgb(150,150,152)"/>
<rect x="262.5" y="397.59999999999997" width="66.6" height="66.6" filter="url(#f73)"/>
<rect x="262.5" y="397.59999999999997" width="66.6" height="66.6" filter="url(#f74)"/>
<path d="M266.8,428.9 q3,-3 2,-7 q2,-5 5,-4 q1,-4 4,-3" stroke="#e8e8e8" stroke-width="0.8" fill="none"/>
<path d="M268.8,452.9 q6,2 10,0" stroke="#dcdcdc" stroke-width="0.7" fill="none"/>
</g>
<rect x="310.4" y="424.6" width="9.4" height="6.4" fill="none" stroke="#222" stroke-width="0.9"/>
<line x1="310.40" y1="431.00" x2="262.80" y2="466.70" stroke="#222" stroke-width="0.8"/>
<line x1="319.80" y1="431.00" x2="328.90" y2="466.70" stroke="#222" stroke-width="0.8"/>
<g clip-path="url(#c75)">
<rect x="262.8" y="466.7" width="66.1" height="45.9" fill="rgb(102,102,102)"/>
<rect x="262.8" y="466.7" width="66.1" height="45.9" filter="url(#f76)"/>
<ellipse cx="271.0" cy="487.4" rx="6.70" ry="3.83" transform="rotate(132 271.0 487.4)" fill="#979797" stroke="#5e5e5e" stroke-width="0.7"/>
<ellipse cx="291.2" cy="504.6" rx="5.87" ry="2.83" transform="rotate(82 291.2 504.6)" fill="#979797" stroke="#5e5e5e" stroke-width="0.7"/>
<ellipse cx="264.2" cy="511.3" rx="7.31" ry="3.24" transform="rotate(56 264.2 511.3)" fill="#979797" stroke="#5e5e5e" stroke-width="0.7"/>
<ellipse cx="314.6" cy="474.9" rx="4.62" ry="3.00" transform="rotate(62 314.6 474.9)" fill="#979797" stroke="#5e5e5e" stroke-width="0.7"/>
<ellipse cx="304.7" cy="512.8" rx="4.74" ry="4.23" transform="rotate(100 304.7 512.8)" fill="#979797" stroke="#5e5e5e" stroke-width="0.7"/>
<ellipse cx="324.0" cy="505.5" rx="4.56" ry="3.74" transform="rotate(22 324.0 505.5)" fill="#979797" stroke="#5e5e5e" stroke-width="0.7"/>
<ellipse cx="261.2" cy="484.4" rx="6.71" ry="3.61" transform="rotate(35 261.2 484.4)" fill="#979797" stroke="#5e5e5e" stroke-width="0.7"/>
<ellipse cx="324.1" cy="471.0" rx="5.94" ry="4.25" transform="rotate(110 324.1 471.0)" fill="#979797" stroke="#5e5e5e" stroke-width="0.7"/>
<ellipse cx="311.1" cy="503.4" rx="5.77" ry="3.16" transform="rotate(106 311.1 503.4)" fill="#979797" stroke="#5e5e5e" stroke-width="0.7"/>
<ellipse cx="297.8" cy="481.8" rx="6.99" ry="3.28" transform="rotate(87 297.8 481.8)" fill="#979797" stroke="#5e5e5e" stroke-width="0.7"/>
<ellipse cx="295.4" cy="493.8" rx="4.52" ry="3.78" transform="rotate(155 295.4 493.8)" fill="#979797" stroke="#5e5e5e" stroke-width="0.7"/>
<ellipse cx="272.3" cy="502.3" rx="6.47" ry="2.89" transform="rotate(9 272.3 502.3)" fill="#979797" stroke="#5e5e5e" stroke-width="0.7"/>
<ellipse cx="313.3" cy="493.1" rx="5.17" ry="2.72" transform="rotate(21 313.3 493.1)" fill="#979797" stroke="#5e5e5e" stroke-width="0.7"/>
<ellipse cx="326.4" cy="484.7" rx="6.50" ry="3.69" transform="rotate(119 326.4 484.7)" fill="#979797" stroke="#5e5e5e" stroke-width="0.7"/>
<ellipse cx="279.8" cy="478.2" rx="5.07" ry="4.20" transform="rotate(179 279.8 478.2)" fill="#979797" stroke="#5e5e5e" stroke-width="0.7"/>
<ellipse cx="308.0" cy="486.9" rx="6.55" ry="2.99" transform="rotate(176 308.0 486.9)" fill="#979797" stroke="#5e5e5e" stroke-width="0.7"/>
<ellipse cx="262.4" cy="495.5" rx="5.23" ry="3.98" transform="rotate(26 262.4 495.5)" fill="#979797" stroke="#5e5e5e" stroke-width="0.7"/>
<ellipse cx="321.3" cy="493.6" rx="4.78" ry="3.33" transform="rotate(83 321.3 493.6)" fill="#979797" stroke="#5e5e5e" stroke-width="0.7"/>
<ellipse cx="262.2" cy="472.4" rx="4.37" ry="2.84" transform="rotate(113 262.2 472.4)" fill="#979797" stroke="#5e5e5e" stroke-width="0.7"/>
<ellipse cx="301.8" cy="473.2" rx="7.32" ry="3.88" transform="rotate(68 301.8 473.2)" fill="#979797" stroke="#5e5e5e" stroke-width="0.7"/>
<ellipse cx="315.5" cy="482.1" rx="4.12" ry="2.72" transform="rotate(91 315.5 482.1)" fill="#979797" stroke="#5e5e5e" stroke-width="0.7"/>
<ellipse cx="309.1" cy="466.7" rx="6.02" ry="3.07" transform="rotate(178 309.1 466.7)" fill="#979797" stroke="#5e5e5e" stroke-width="0.7"/>
<ellipse cx="282.3" cy="508.7" rx="6.44" ry="4.19" transform="rotate(35 282.3 508.7)" fill="#979797" stroke="#5e5e5e" stroke-width="0.7"/>
<ellipse cx="274.4" cy="473.7" rx="4.93" ry="3.05" transform="rotate(53 274.4 473.7)" fill="#979797" stroke="#5e5e5e" stroke-width="0.7"/>
<ellipse cx="289.1" cy="465.8" rx="6.94" ry="2.76" transform="rotate(90 289.1 465.8)" fill="#979797" stroke="#5e5e5e" stroke-width="0.7"/>
<ellipse cx="282.5" cy="490.9" rx="5.36" ry="3.32" transform="rotate(128 282.5 490.9)" fill="#979797" stroke="#5e5e5e" stroke-width="0.7"/>
<ellipse cx="288.8" cy="475.2" rx="4.56" ry="2.78" transform="rotate(127 288.8 475.2)" fill="#979797" stroke="#5e5e5e" stroke-width="0.7"/>
<ellipse cx="276.9" cy="514.6" rx="5.00" ry="4.15" transform="rotate(54 276.9 514.6)" fill="#979797" stroke="#5e5e5e" stroke-width="0.7"/>
<ellipse cx="302.5" cy="501.2" rx="7.04" ry="3.20" transform="rotate(135 302.5 501.2)" fill="#979797" stroke="#5e5e5e" stroke-width="0.7"/>
<ellipse cx="279.8" cy="467.3" rx="7.38" ry="3.98" transform="rotate(95 279.8 467.3)" fill="#979797" stroke="#5e5e5e" stroke-width="0.7"/>
<text x="290.80" y="495.70" font-size="8.5" text-anchor="middle" fill="#f2f2f2">M</text>
<text x="308.80" y="509.20" font-size="8.5" text-anchor="middle" fill="#f2f2f2">M</text>
<text x="319.80" y="485.70" font-size="8.5" text-anchor="middle" fill="#f2f2f2">LD</text>
</g>
<rect x="318.4" y="504.1" width="8" height="0.9" fill="#ffffff"/>
<text x="322.40" y="509.10" font-size="3.8" text-anchor="middle" fill="#ffffff">1μm</text>
<g clip-path="url(#c77)">
<rect x="333.4" y="397.59999999999997" width="66.6" height="66.6" fill="rgb(174,174,174)"/>
<rect x="333.4" y="397.59999999999997" width="66.6" height="66.6" filter="url(#f78)"/>
<rect x="333.4" y="397.59999999999997" width="66.6" height="66.6" filter="url(#f79)"/>
<path d="M333.7,438.9 L354.7,427.9 L358.7,397.9 M354.7,427.9 L372.7,463.9 M376.7,397.9 L378.7,425.9 L399.7,435.9" stroke="#c2c2c2" stroke-width="4" fill="none" opacity="0.45"/>
<ellipse cx="350.7" cy="410.9" rx="5" ry="4" fill="#9a9a9a" opacity="0.35"/>
<ellipse cx="384.7" cy="424.9" rx="5" ry="4" fill="#9a9a9a" opacity="0.35"/>
<ellipse cx="352.7" cy="444.9" rx="5" ry="4" fill="#9a9a9a" opacity="0.35"/>
<ellipse cx="386.7" cy="448.9" rx="5" ry="4" fill="#9a9a9a" opacity="0.35"/>
</g>
<rect x="356.3" y="452.3" width="9.2" height="5.9" fill="none" stroke="#222" stroke-width="0.9"/>
<line x1="356.30" y1="458.20" x2="333.30" y2="466.70" stroke="#222" stroke-width="0.8"/>
<line x1="365.50" y1="458.20" x2="400.10" y2="466.70" stroke="#222" stroke-width="0.8"/>
<g clip-path="url(#c80)">
<rect x="333.3" y="466.7" width="66.8" height="45.9" fill="rgb(108,108,108)"/>
<rect x="333.3" y="466.7" width="66.8" height="45.9" filter="url(#f81)"/>
<ellipse cx="372.4" cy="474.4" rx="7.38" ry="4.18" transform="rotate(84 372.4 474.4)" fill="#979797" stroke="#5e5e5e" stroke-width="0.7"/>
<ellipse cx="346.3" cy="513.2" rx="4.25" ry="3.01" transform="rotate(16 346.3 513.2)" fill="#979797" stroke="#5e5e5e" stroke-width="0.7"/>
<ellipse cx="385.8" cy="483.0" rx="5.65" ry="3.22" transform="rotate(115 385.8 483.0)" fill="#979797" stroke="#5e5e5e" stroke-width="0.7"/>
<ellipse cx="359.9" cy="475.1" rx="5.51" ry="3.19" transform="rotate(20 359.9 475.1)" fill="#979797" stroke="#5e5e5e" stroke-width="0.7"/>
<ellipse cx="389.6" cy="498.6" rx="6.33" ry="4.11" transform="rotate(71 389.6 498.6)" fill="#979797" stroke="#5e5e5e" stroke-width="0.7"/>
<ellipse cx="358.2" cy="485.8" rx="5.42" ry="3.77" transform="rotate(1 358.2 485.8)" fill="#979797" stroke="#5e5e5e" stroke-width="0.7"/>
<ellipse cx="364.2" cy="491.4" rx="5.21" ry="2.73" transform="rotate(127 364.2 491.4)" fill="#979797" stroke="#5e5e5e" stroke-width="0.7"/>
<ellipse cx="332.0" cy="492.9" rx="4.54" ry="2.76" transform="rotate(33 332.0 492.9)" fill="#979797" stroke="#5e5e5e" stroke-width="0.7"/>
<ellipse cx="336.0" cy="472.2" rx="6.40" ry="3.87" transform="rotate(65 336.0 472.2)" fill="#979797" stroke="#5e5e5e" stroke-width="0.7"/>
<ellipse cx="377.5" cy="488.4" rx="5.74" ry="4.10" transform="rotate(56 377.5 488.4)" fill="#979797" stroke="#5e5e5e" stroke-width="0.7"/>
<ellipse cx="333.6" cy="482.0" rx="7.31" ry="4.10" transform="rotate(151 333.6 482.0)" fill="#979797" stroke="#5e5e5e" stroke-width="0.7"/>
<ellipse cx="339.7" cy="499.9" rx="6.71" ry="3.99" transform="rotate(143 339.7 499.9)" fill="#979797" stroke="#5e5e5e" stroke-width="0.7"/>
<ellipse cx="362.9" cy="509.1" rx="4.49" ry="4.23" transform="rotate(159 362.9 509.1)" fill="#979797" stroke="#5e5e5e" stroke-width="0.7"/>
<ellipse cx="355.2" cy="468.1" rx="5.92" ry="3.80" transform="rotate(63 355.2 468.1)" fill="#979797" stroke="#5e5e5e" stroke-width="0.7"/>
<ellipse cx="349.0" cy="474.9" rx="4.39" ry="4.27" transform="rotate(162 349.0 474.9)" fill="#979797" stroke="#5e5e5e" stroke-width="0.7"/>
<ellipse cx="376.1" cy="507.5" rx="5.61" ry="3.61" transform="rotate(145 376.1 507.5)" fill="#979797" stroke="#5e5e5e" stroke-width="0.7"/>
<ellipse cx="355.0" cy="511.5" rx="5.01" ry="3.79" transform="rotate(161 355.0 511.5)" fill="#979797" stroke="#5e5e5e" stroke-width="0.7"/>
<ellipse cx="379.2" cy="499.0" rx="5.28" ry="3.76" transform="rotate(99 379.2 499.0)" fill="#979797" stroke="#5e5e5e" stroke-width="0.7"/>
<ellipse cx="348.3" cy="486.4" rx="5.59" ry="3.18" transform="rotate(7 348.3 486.4)" fill="#979797" stroke="#5e5e5e" stroke-width="0.7"/>
<ellipse cx="334.8" cy="514.2" rx="6.59" ry="3.40" transform="rotate(120 334.8 514.2)" fill="#979797" stroke="#5e5e5e" stroke-width="0.7"/>
<ellipse cx="350.3" cy="500.1" rx="7.33" ry="3.94" transform="rotate(84 350.3 500.1)" fill="#979797" stroke="#5e5e5e" stroke-width="0.7"/>
<ellipse cx="400.9" cy="510.7" rx="4.20" ry="3.36" transform="rotate(81 400.9 510.7)" fill="#979797" stroke="#5e5e5e" stroke-width="0.7"/>
<ellipse cx="387.7" cy="469.5" rx="4.81" ry="3.01" transform="rotate(28 387.7 469.5)" fill="#979797" stroke="#5e5e5e" stroke-width="0.7"/>
<ellipse cx="398.3" cy="466.9" rx="4.20" ry="2.70" transform="rotate(23 398.3 466.9)" fill="#979797" stroke="#5e5e5e" stroke-width="0.7"/>
<ellipse cx="368.9" cy="500.3" rx="4.04" ry="3.81" transform="rotate(51 368.9 500.3)" fill="#979797" stroke="#5e5e5e" stroke-width="0.7"/>
<ellipse cx="341.0" cy="486.8" rx="4.22" ry="2.86" transform="rotate(137 341.0 486.8)" fill="#979797" stroke="#5e5e5e" stroke-width="0.7"/>
<ellipse cx="385.3" cy="510.2" rx="4.19" ry="3.89" transform="rotate(105 385.3 510.2)" fill="#979797" stroke="#5e5e5e" stroke-width="0.7"/>
<ellipse cx="395.7" cy="477.0" rx="7.02" ry="3.21" transform="rotate(139 395.7 477.0)" fill="#979797" stroke="#5e5e5e" stroke-width="0.7"/>
<ellipse cx="393.1" cy="508.5" rx="4.04" ry="2.98" transform="rotate(23 393.1 508.5)" fill="#979797" stroke="#5e5e5e" stroke-width="0.7"/>
<ellipse cx="362.3" cy="499.7" rx="4.14" ry="3.72" transform="rotate(88 362.3 499.7)" fill="#979797" stroke="#5e5e5e" stroke-width="0.7"/>
<circle cx="379.3" cy="500.7" r="9.5" fill="#cdcdcd"/>
<text x="378.30" y="503.70" font-size="8.5" text-anchor="middle" fill="#f2f2f2">LD</text>
<text x="376.30" y="486.70" font-size="8.5" text-anchor="middle" fill="#f2f2f2">M</text>
</g>
<rect x="389.6" y="504.1" width="8" height="0.9" fill="#ffffff"/>
<text x="393.60" y="509.10" font-size="3.8" text-anchor="middle" fill="#ffffff">1μm</text>
<g clip-path="url(#c82)">
<rect x="404.0" y="397.59999999999997" width="66.6" height="66.6" fill="rgb(160,160,160)"/>
<rect x="404.0" y="397.59999999999997" width="66.6" height="66.6" filter="url(#f83)"/>
<rect x="404.0" y="397.59999999999997" width="66.6" height="66.6" filter="url(#f84)"/>
<ellipse cx="421.3" cy="422.9" rx="5" ry="4" fill="#8c8c8c" opacity="0.35"/>
<ellipse cx="445.3" cy="410.9" rx="5" ry="4" fill="#8c8c8c" opacity="0.35"/>
<ellipse cx="457.3" cy="418.9" rx="5" ry="4" fill="#8c8c8c" opacity="0.35"/>
<ellipse cx="431.3" cy="440.9" rx="5" ry="4" fill="#8c8c8c" opacity="0.35"/>
<ellipse cx="451.3" cy="448.9" rx="5" ry="4" fill="#8c8c8c" opacity="0.35"/>
</g>
<rect x="460.7" y="427.1" width="8.8" height="6.1" fill="none" stroke="#222" stroke-width="0.9"/>
<line x1="460.70" y1="433.20" x2="404.40" y2="466.70" stroke="#222" stroke-width="0.8"/>
<line x1="469.50" y1="433.20" x2="470.10" y2="466.70" stroke="#222" stroke-width="0.8"/>
<g clip-path="url(#c85)">
<rect x="404.4" y="466.7" width="65.7" height="45.9" fill="rgb(112,112,112)"/>
<rect x="404.4" y="466.7" width="65.7" height="45.9" filter="url(#f86)"/>
<ellipse cx="412.7" cy="495.4" rx="4.59" ry="3.84" transform="rotate(109 412.7 495.4)" fill="#979797" stroke="#5e5e5e" stroke-width="0.7"/>
<ellipse cx="429.2" cy="495.5" rx="5.98" ry="2.77" transform="rotate(95 429.2 495.5)" fill="#979797" stroke="#5e5e5e" stroke-width="0.7"/>
<ellipse cx="445.6" cy="490.6" rx="7.08" ry="3.88" transform="rotate(68 445.6 490.6)" fill="#979797" stroke="#5e5e5e" stroke-width="0.7"/>
<ellipse cx="418.2" cy="471.1" rx="6.84" ry="3.80" transform="rotate(110 418.2 471.1)" fill="#979797" stroke="#5e5e5e" stroke-width="0.7"/>
<ellipse cx="430.2" cy="510.0" rx="4.58" ry="3.03" transform="rotate(106 430.2 510.0)" fill="#979797" stroke="#5e5e5e" stroke-width="0.7"/>
<ellipse cx="464.4" cy="505.9" rx="6.24" ry="3.45" transform="rotate(171 464.4 505.9)" fill="#979797" stroke="#5e5e5e" stroke-width="0.7"/>
<ellipse cx="454.2" cy="494.7" rx="7.20" ry="3.70" transform="rotate(96 454.2 494.7)" fill="#979797" stroke="#5e5e5e" stroke-width="0.7"/>
<ellipse cx="470.3" cy="491.0" rx="5.39" ry="4.20" transform="rotate(170 470.3 491.0)" fill="#979797" stroke="#5e5e5e" stroke-width="0.7"/>
<ellipse cx="420.2" cy="498.9" rx="7.29" ry="3.04" transform="rotate(81 420.2 498.9)" fill="#979797" stroke="#5e5e5e" stroke-width="0.7"/>
<ellipse cx="448.6" cy="475.7" rx="5.45" ry="2.93" transform="rotate(86 448.6 475.7)" fill="#979797" stroke="#5e5e5e" stroke-width="0.7"/>
<ellipse cx="412.9" cy="485.5" rx="5.11" ry="3.87" transform="rotate(75 412.9 485.5)" fill="#979797" stroke="#5e5e5e" stroke-width="0.7"/>
<ellipse cx="402.9" cy="478.5" rx="4.77" ry="3.74" transform="rotate(126 402.9 478.5)" fill="#979797" stroke="#5e5e5e" stroke-width="0.7"/>
<ellipse cx="460.7" cy="478.4" rx="6.72" ry="3.86" transform="rotate(156 460.7 478.4)" fill="#979797" stroke="#5e5e5e" stroke-width="0.7"/>
<ellipse cx="411.8" cy="510.3" rx="5.59" ry="3.10" transform="rotate(25 411.8 510.3)" fill="#979797" stroke="#5e5e5e" stroke-width="0.7"/>
<ellipse cx="403.0" cy="493.8" rx="4.98" ry="3.59" transform="rotate(166 403.0 493.8)" fill="#979797" stroke="#5e5e5e" stroke-width="0.7"/>
<ellipse cx="436.2" cy="512.3" rx="4.23" ry="3.91" transform="rotate(136 436.2 512.3)" fill="#979797" stroke="#5e5e5e" stroke-width="0.7"/>
<ellipse cx="469.2" cy="466.2" rx="5.77" ry="3.59" transform="rotate(108 469.2 466.2)" fill="#979797" stroke="#5e5e5e" stroke-width="0.7"/>
<ellipse cx="435.2" cy="478.3" rx="7.16" ry="4.10" transform="rotate(126 435.2 478.3)" fill="#979797" stroke="#5e5e5e" stroke-width="0.7"/>
<ellipse cx="426.0" cy="488.3" rx="5.25" ry="4.24" transform="rotate(43 426.0 488.3)" fill="#979797" stroke="#5e5e5e" stroke-width="0.7"/>
<ellipse cx="436.3" cy="499.3" rx="4.31" ry="2.79" transform="rotate(124 436.3 499.3)" fill="#979797" stroke="#5e5e5e" stroke-width="0.7"/>
<ellipse cx="459.1" cy="513.2" rx="4.81" ry="3.22" transform="rotate(145 459.1 513.2)" fill="#979797" stroke="#5e5e5e" stroke-width="0.7"/>
<ellipse cx="454.3" cy="505.3" rx="6.39" ry="4.16" transform="rotate(152 454.3 505.3)" fill="#979797" stroke="#5e5e5e" stroke-width="0.7"/>
<ellipse cx="443.9" cy="503.1" rx="4.14" ry="3.50" transform="rotate(67 443.9 503.1)" fill="#979797" stroke="#5e5e5e" stroke-width="0.7"/>
<ellipse cx="429.5" cy="469.4" rx="6.26" ry="3.25" transform="rotate(145 429.5 469.4)" fill="#979797" stroke="#5e5e5e" stroke-width="0.7"/>
<ellipse cx="450.9" cy="484.1" rx="4.37" ry="4.18" transform="rotate(75 450.9 484.1)" fill="#979797" stroke="#5e5e5e" stroke-width="0.7"/>
<ellipse cx="404.7" cy="500.9" rx="4.28" ry="3.75" transform="rotate(25 404.7 500.9)" fill="#979797" stroke="#5e5e5e" stroke-width="0.7"/>
<ellipse cx="447.4" cy="466.0" rx="7.47" ry="3.34" transform="rotate(121 447.4 466.0)" fill="#979797" stroke="#5e5e5e" stroke-width="0.7"/>
<ellipse cx="427.8" cy="503.3" rx="4.77" ry="3.32" transform="rotate(179 427.8 503.3)" fill="#979797" stroke="#5e5e5e" stroke-width="0.7"/>
<ellipse cx="448.3" cy="513.4" rx="5.01" ry="3.07" transform="rotate(105 448.3 513.4)" fill="#979797" stroke="#5e5e5e" stroke-width="0.7"/>
<ellipse cx="461.0" cy="486.9" rx="4.98" ry="4.12" transform="rotate(4 461.0 486.9)" fill="#979797" stroke="#5e5e5e" stroke-width="0.7"/>
<circle cx="446.4" cy="492.7" r="9.5" fill="#cdcdcd"/>
<text x="446.40" y="495.70" font-size="8.5" text-anchor="middle" fill="#f2f2f2">LD</text>
<text x="465.40" y="495.70" font-size="8.5" text-anchor="middle" fill="#f2f2f2">M</text>
</g>
<rect x="459.6" y="504.1" width="8" height="0.9" fill="#ffffff"/>
<text x="463.60" y="509.10" font-size="3.8" text-anchor="middle" fill="#ffffff">1μm</text>
<g clip-path="url(#c87)">
<rect x="474.9" y="397.59999999999997" width="66.6" height="66.6" fill="rgb(150,150,150)"/>
<rect x="474.9" y="397.59999999999997" width="66.6" height="66.6" filter="url(#f88)"/>
<rect x="474.9" y="397.59999999999997" width="66.6" height="66.6" filter="url(#f89)"/>
</g>
<rect x="501.7" y="432.1" width="9.9" height="6.4" fill="none" stroke="#222" stroke-width="0.9"/>
<line x1="501.70" y1="438.50" x2="475.50" y2="466.70" stroke="#222" stroke-width="0.8"/>
<line x1="511.60" y1="438.50" x2="541.20" y2="466.70" stroke="#222" stroke-width="0.8"/>
<g clip-path="url(#c90)">
<rect x="475.5" y="466.7" width="65.7" height="45.9" fill="rgb(136,136,136)"/>
<rect x="475.5" y="466.7" width="65.7" height="45.9" filter="url(#f91)"/>
<ellipse cx="509.7" cy="478.3" rx="6.59" ry="3.98" transform="rotate(117 509.7 478.3)" fill="#8c8c8c" stroke="#707070" stroke-width="0.7"/>
<ellipse cx="475.0" cy="476.7" rx="5.18" ry="4.26" transform="rotate(118 475.0 476.7)" fill="#8c8c8c" stroke="#707070" stroke-width="0.7"/>
<ellipse cx="510.4" cy="498.1" rx="4.37" ry="3.79" transform="rotate(118 510.4 498.1)" fill="#8c8c8c" stroke="#707070" stroke-width="0.7"/>
<ellipse cx="488.1" cy="482.6" rx="5.45" ry="4.23" transform="rotate(67 488.1 482.6)" fill="#8c8c8c" stroke="#707070" stroke-width="0.7"/>
<ellipse cx="475.4" cy="505.3" rx="7.02" ry="3.24" transform="rotate(131 475.4 505.3)" fill="#8c8c8c" stroke="#707070" stroke-width="0.7"/>
<ellipse cx="541.8" cy="484.3" rx="6.32" ry="3.58" transform="rotate(99 541.8 484.3)" fill="#8c8c8c" stroke="#707070" stroke-width="0.7"/>
<ellipse cx="511.0" cy="506.8" rx="7.22" ry="4.19" transform="rotate(23 511.0 506.8)" fill="#8c8c8c" stroke="#707070" stroke-width="0.7"/>
<ellipse cx="533.1" cy="470.5" rx="4.54" ry="2.94" transform="rotate(16 533.1 470.5)" fill="#8c8c8c" stroke="#707070" stroke-width="0.7"/>
<ellipse cx="504.1" cy="469.9" rx="5.53" ry="4.12" transform="rotate(74 504.1 469.9)" fill="#8c8c8c" stroke="#707070" stroke-width="0.7"/>
<ellipse cx="491.4" cy="492.7" rx="7.23" ry="3.00" transform="rotate(79 491.4 492.7)" fill="#8c8c8c" stroke="#707070" stroke-width="0.7"/>
<circle cx="497.5" cy="484.7" r="13.5" fill="#b0b0b0" stroke="#6e6e6e" stroke-width="0.9"/><circle cx="530.5" cy="483.7" r="14" fill="#b0b0b0" stroke="#6e6e6e" stroke-width="0.9"/><ellipse cx="485.5" cy="467.7" rx="10" ry="6" fill="#b0b0b0"/><ellipse cx="515.5" cy="513.7" rx="14" ry="6" fill="#b0b0b0"/>
<text x="497.50" y="486.70" font-size="8.5" text-anchor="middle" fill="#f2f2f2">LD</text>
<text x="529.50" y="486.70" font-size="8.5" text-anchor="middle" fill="#f2f2f2">LD</text>
<text x="514.50" y="505.70" font-size="8.5" text-anchor="middle" fill="#f2f2f2">M</text>
</g>
<rect x="530.7" y="504.1" width="8" height="0.9" fill="#ffffff"/>
<text x="534.70" y="509.10" font-size="3.8" text-anchor="middle" fill="#ffffff">1μm</text>
<g clip-path="url(#c92)">
<rect x="545.8000000000001" y="397.59999999999997" width="66.6" height="66.6" fill="rgb(182,182,182)"/>
<rect x="545.8000000000001" y="397.59999999999997" width="66.6" height="66.6" filter="url(#f93)"/>
<rect x="545.8000000000001" y="397.59999999999997" width="66.6" height="66.6" filter="url(#f94)"/>
<path d="M549.1,404.9 Q564.1,432.9 574.1,438.9 Q589.1,446.9 585.1,464.9" stroke="#a8a8a8" stroke-width="6" fill="none" opacity="0.7"/>
</g>
<rect x="583.4" y="434.3" width="10.3" height="5.9" fill="none" stroke="#222" stroke-width="0.9"/>
<line x1="583.40" y1="440.20" x2="546.20" y2="466.70" stroke="#222" stroke-width="0.8"/>
<line x1="593.70" y1="440.20" x2="612.30" y2="466.70" stroke="#222" stroke-width="0.8"/>
<g clip-path="url(#c95)">
<rect x="546.2" y="466.7" width="66.1" height="45.9" fill="rgb(116,116,116)"/>
<rect x="546.2" y="466.7" width="66.1" height="45.9" filter="url(#f96)"/>
<path d="M546.2,466.7 H612.3 V483.7 Q579.2,489.7 546.2,482.7 z" fill="#b2b2b2"/>
<ellipse cx="582.2" cy="502.7" rx="17" ry="6.5" fill="#a8a8a8" stroke="#6a6a6a" stroke-width="0.8"/>
<path d="M600.2,506.7 q6,-2 8,4 l-4,2 z" fill="#111"/>
<text x="579.20" y="478.70" font-size="8.5" text-anchor="middle" fill="#f2f2f2">LD</text>
<text x="596.20" y="492.70" font-size="8.5" text-anchor="middle" fill="#f2f2f2">M</text>
<text x="560.20" y="503.70" font-size="8.5" text-anchor="middle" fill="#f2f2f2">N</text>
</g>
<rect x="601.8" y="504.1" width="8" height="0.9" fill="#ffffff"/>
<text x="605.80" y="509.10" font-size="3.8" text-anchor="middle" fill="#ffffff">1μm</text>
<g clip-path="url(#c97)">
<rect x="616.5" y="397.59999999999997" width="66.6" height="66.6" fill="rgb(176,176,176)"/>
<rect x="616.5" y="397.59999999999997" width="66.6" height="66.6" filter="url(#f98)"/>
<rect x="616.5" y="397.59999999999997" width="66.6" height="66.6" filter="url(#f99)"/>
<path d="M619.8,442.9 L651.8,395.9 M637.8,465.9 L673.8,404.9" stroke="#e2e2e2" stroke-width="1.4" fill="none"/>
<path d="M625.8,450.9 L657.8,398.9" stroke="#a0a0a0" stroke-width="3" fill="none" opacity="0.5"/>
</g>
<rect x="639.2" y="438.5" width="9.3" height="6.5" fill="none" stroke="#222" stroke-width="0.9"/>
<line x1="639.20" y1="445.00" x2="616.80" y2="466.70" stroke="#222" stroke-width="0.8"/>
<line x1="648.50" y1="445.00" x2="682.80" y2="466.70" stroke="#222" stroke-width="0.8"/>
<g clip-path="url(#c100)">
<rect x="616.8" y="466.7" width="66.0" height="45.9" fill="rgb(140,140,140)"/>
<rect x="616.8" y="466.7" width="66.0" height="45.9" filter="url(#f101)"/>
<circle cx="650.8" cy="475.4" r="3.88" fill="#aaaaaa" opacity="1.0"/>
<circle cx="658.7" cy="493.8" r="3.85" fill="#aaaaaa" opacity="1.0"/>
<circle cx="622.8" cy="503.1" r="2.06" fill="#aaaaaa" opacity="1.0"/>
<circle cx="633.4" cy="481.4" r="3.35" fill="#aaaaaa" opacity="1.0"/>
<circle cx="678.9" cy="499.1" r="2.29" fill="#aaaaaa" opacity="1.0"/>
<circle cx="625.3" cy="479.8" r="2.04" fill="#aaaaaa" opacity="1.0"/>
<circle cx="649.9" cy="490.1" r="1.79" fill="#aaaaaa" opacity="1.0"/>
<circle cx="630.6" cy="507.0" r="3.25" fill="#aaaaaa" opacity="1.0"/>
<circle cx="623.1" cy="506.5" r="2.62" fill="#aaaaaa" opacity="1.0"/>
<circle cx="642.2" cy="503.7" r="3.22" fill="#aaaaaa" opacity="1.0"/>
<circle cx="645.6" cy="484.3" r="2.86" fill="#aaaaaa" opacity="1.0"/>
<circle cx="671.9" cy="499.2" r="1.72" fill="#aaaaaa" opacity="1.0"/>
<circle cx="618.8" cy="483.1" r="2.22" fill="#aaaaaa" opacity="1.0"/>
<circle cx="668.2" cy="494.6" r="1.85" fill="#aaaaaa" opacity="1.0"/>
<circle cx="644.6" cy="493.2" r="2.70" fill="#aaaaaa" opacity="1.0"/>
<circle cx="633.9" cy="498.4" r="2.20" fill="#aaaaaa" opacity="1.0"/>
<circle cx="682.4" cy="484.1" r="2.76" fill="#aaaaaa" opacity="1.0"/>
<circle cx="669.8" cy="482.8" r="3.75" fill="#aaaaaa" opacity="1.0"/>
<circle cx="653.3" cy="491.6" r="2.09" fill="#aaaaaa" opacity="1.0"/>
<circle cx="638.6" cy="490.9" r="3.55" fill="#aaaaaa" opacity="1.0"/>
<circle cx="627.0" cy="505.6" r="3.81" fill="#aaaaaa" opacity="1.0"/>
<circle cx="622.1" cy="496.3" r="2.09" fill="#aaaaaa" opacity="1.0"/>
<circle cx="623.3" cy="511.5" r="2.12" fill="#aaaaaa" opacity="1.0"/>
<circle cx="644.1" cy="499.0" r="3.02" fill="#aaaaaa" opacity="1.0"/>
<circle cx="676.3" cy="511.5" r="2.67" fill="#aaaaaa" opacity="1.0"/>
<circle cx="623.9" cy="505.1" r="1.88" fill="#aaaaaa" opacity="1.0"/>
<circle cx="640.8" cy="476.9" r="3.57" fill="#aaaaaa" opacity="1.0"/>
<circle cx="630.5" cy="504.0" r="2.88" fill="#aaaaaa" opacity="1.0"/>
<circle cx="657.1" cy="500.9" r="2.37" fill="#aaaaaa" opacity="1.0"/>
<circle cx="628.8" cy="500.7" r="3.08" fill="#aaaaaa" opacity="1.0"/>
<circle cx="644.4" cy="475.2" r="1.90" fill="#aaaaaa" opacity="1.0"/>
<circle cx="646.3" cy="497.8" r="2.25" fill="#aaaaaa" opacity="1.0"/>
<circle cx="617.8" cy="487.8" r="2.08" fill="#aaaaaa" opacity="1.0"/>
<circle cx="666.1" cy="499.0" r="2.76" fill="#aaaaaa" opacity="1.0"/>
<circle cx="622.1" cy="497.9" r="2.66" fill="#aaaaaa" opacity="1.0"/>
<circle cx="667.2" cy="503.1" r="1.86" fill="#aaaaaa" opacity="1.0"/>
<circle cx="636.0" cy="492.4" r="1.76" fill="#aaaaaa" opacity="1.0"/>
<circle cx="627.8" cy="499.7" r="1.63" fill="#aaaaaa" opacity="1.0"/>
<circle cx="633.1" cy="472.9" r="3.76" fill="#aaaaaa" opacity="1.0"/>
<circle cx="663.7" cy="501.4" r="3.55" fill="#aaaaaa" opacity="1.0"/>
<circle cx="631.5" cy="504.2" r="2.39" fill="#aaaaaa" opacity="1.0"/>
<circle cx="642.5" cy="470.4" r="2.20" fill="#aaaaaa" opacity="1.0"/>
<circle cx="641.9" cy="504.1" r="2.74" fill="#aaaaaa" opacity="1.0"/>
<circle cx="635.0" cy="494.5" r="2.25" fill="#aaaaaa" opacity="1.0"/>
<circle cx="670.5" cy="482.0" r="2.04" fill="#aaaaaa" opacity="1.0"/>
<circle cx="642.4" cy="493.4" r="3.11" fill="#aaaaaa" opacity="1.0"/>
<circle cx="634.9" cy="491.7" r="3.13" fill="#aaaaaa" opacity="1.0"/>
<circle cx="631.3" cy="481.0" r="2.58" fill="#aaaaaa" opacity="1.0"/>
<text x="655.80" y="485.70" font-size="8.5" text-anchor="middle" fill="#f2f2f2">LD</text>
<text x="646.80" y="502.70" font-size="8.5" text-anchor="middle" fill="#f2f2f2">M</text>
</g>
<rect x="672.3" y="504.1" width="8" height="0.9" fill="#ffffff"/>
<text x="676.30" y="509.10" font-size="3.8" text-anchor="middle" fill="#ffffff">1μm</text>
<text x="0.20" y="533.20" font-size="17.5" text-anchor="start" fill="#1e1e1e">I</text>
<path d="M43.15,680.50 V643.62 H54.35 V680.50" fill="#fff" stroke="#262626" stroke-width="1.7" stroke-linejoin="miter"/>
<line x1="48.75" y1="637.39" x2="48.75" y2="649.85" stroke="#262626" stroke-width="1.3"/>
<line x1="45.55" y1="637.39" x2="51.95" y2="637.39" stroke="#262626" stroke-width="1.3"/>
<line x1="45.55" y1="649.85" x2="51.95" y2="649.85" stroke="#262626" stroke-width="1.3"/>
<circle cx="47.05" cy="642.36" r="1.8" fill="none" stroke="#262626" stroke-width="0.75" opacity="0.9"/>
<circle cx="49.14" cy="642.26" r="1.8" fill="none" stroke="#262626" stroke-width="0.75" opacity="0.9"/>
<circle cx="51.29" cy="644.38" r="1.8" fill="none" stroke="#262626" stroke-width="0.75" opacity="0.9"/>
<circle cx="52.79" cy="641.09" r="1.8" fill="none" stroke="#262626" stroke-width="0.75" opacity="0.9"/>
<circle cx="50.75" cy="644.11" r="1.8" fill="none" stroke="#262626" stroke-width="0.75" opacity="0.9"/>
<circle cx="52.90" cy="644.10" r="1.8" fill="none" stroke="#262626" stroke-width="0.75" opacity="0.9"/>
<circle cx="48.09" cy="649.61" r="1.8" fill="none" stroke="#262626" stroke-width="0.75" opacity="0.9"/>
<path d="M63.05,680.50 V587.06 H74.25 V680.50" fill="#fff" stroke="#a8282c" stroke-width="1.7" stroke-linejoin="miter"/>
<line x1="68.65" y1="579.59" x2="68.65" y2="594.54" stroke="#a8282c" stroke-width="1.3"/>
<line x1="65.45" y1="579.59" x2="71.85" y2="579.59" stroke="#a8282c" stroke-width="1.3"/>
<line x1="65.45" y1="594.54" x2="71.85" y2="594.54" stroke="#a8282c" stroke-width="1.3"/>
<circle cx="66.69" cy="585.36" r="1.8" fill="none" stroke="#a8282c" stroke-width="0.75" opacity="0.9"/>
<circle cx="73.27" cy="586.43" r="1.8" fill="none" stroke="#a8282c" stroke-width="0.75" opacity="0.9"/>
<circle cx="68.61" cy="588.56" r="1.8" fill="none" stroke="#a8282c" stroke-width="0.75" opacity="0.9"/>
<circle cx="66.84" cy="581.14" r="1.8" fill="none" stroke="#a8282c" stroke-width="0.75" opacity="0.9"/>
<circle cx="73.40" cy="588.80" r="1.8" fill="none" stroke="#a8282c" stroke-width="0.75" opacity="0.9"/>
<circle cx="67.94" cy="595.14" r="1.8" fill="none" stroke="#a8282c" stroke-width="0.75" opacity="0.9"/>
<circle cx="63.91" cy="583.98" r="1.8" fill="none" stroke="#a8282c" stroke-width="0.75" opacity="0.9"/>
<path d="M95.25,680.50 V638.64 H106.45 V680.50" fill="#fff" stroke="#262626" stroke-width="1.7" stroke-linejoin="miter"/>
<line x1="100.85" y1="634.15" x2="100.85" y2="643.12" stroke="#262626" stroke-width="1.3"/>
<line x1="97.65" y1="634.15" x2="104.05" y2="634.15" stroke="#262626" stroke-width="1.3"/>
<line x1="97.65" y1="643.12" x2="104.05" y2="643.12" stroke="#262626" stroke-width="1.3"/>
<circle cx="96.16" cy="632.67" r="1.8" fill="none" stroke="#262626" stroke-width="0.75" opacity="0.9"/>
<circle cx="104.87" cy="639.18" r="1.8" fill="none" stroke="#262626" stroke-width="0.75" opacity="0.9"/>
<circle cx="101.22" cy="635.91" r="1.8" fill="none" stroke="#262626" stroke-width="0.75" opacity="0.9"/>
<circle cx="96.60" cy="635.71" r="1.8" fill="none" stroke="#262626" stroke-width="0.75" opacity="0.9"/>
<circle cx="105.26" cy="642.19" r="1.8" fill="none" stroke="#262626" stroke-width="0.75" opacity="0.9"/>
<circle cx="105.35" cy="643.90" r="1.8" fill="none" stroke="#262626" stroke-width="0.75" opacity="0.9"/>
<path d="M115.15,680.50 V562.89 H125.75 V680.50" fill="#fff" stroke="#a8282c" stroke-width="1.7" stroke-linejoin="miter"/>
<line x1="120.45" y1="559.16" x2="120.45" y2="566.63" stroke="#a8282c" stroke-width="1.3"/>
<line x1="117.25" y1="559.16" x2="123.65" y2="559.16" stroke="#a8282c" stroke-width="1.3"/>
<line x1="117.25" y1="566.63" x2="123.65" y2="566.63" stroke="#a8282c" stroke-width="1.3"/>
<circle cx="122.05" cy="558.89" r="1.8" fill="none" stroke="#a8282c" stroke-width="0.75" opacity="0.9"/>
<circle cx="124.52" cy="561.65" r="1.8" fill="none" stroke="#a8282c" stroke-width="0.75" opacity="0.9"/>
<circle cx="123.28" cy="560.13" r="1.8" fill="none" stroke="#a8282c" stroke-width="0.75" opacity="0.9"/>
<circle cx="117.48" cy="569.01" r="1.8" fill="none" stroke="#a8282c" stroke-width="0.75" opacity="0.9"/>
<circle cx="122.81" cy="561.07" r="1.8" fill="none" stroke="#a8282c" stroke-width="0.75" opacity="0.9"/>
<circle cx="122.32" cy="559.93" r="1.8" fill="none" stroke="#a8282c" stroke-width="0.75" opacity="0.9"/>
<circle cx="118.95" cy="563.13" r="1.8" fill="none" stroke="#a8282c" stroke-width="0.75" opacity="0.9"/>
<path d="M147.35,680.50 V642.38 H158.55 V680.50" fill="#fff" stroke="#262626" stroke-width="1.7" stroke-linejoin="miter"/>
<line x1="152.95" y1="634.90" x2="152.95" y2="649.85" stroke="#262626" stroke-width="1.3"/>
<line x1="149.75" y1="634.90" x2="156.15" y2="634.90" stroke="#262626" stroke-width="1.3"/>
<line x1="149.75" y1="649.85" x2="156.15" y2="649.85" stroke="#262626" stroke-width="1.3"/>
<circle cx="150.46" cy="641.11" r="1.8" fill="none" stroke="#262626" stroke-width="0.75" opacity="0.9"/>
<circle cx="153.16" cy="641.02" r="1.8" fill="none" stroke="#262626" stroke-width="0.75" opacity="0.9"/>
<circle cx="152.16" cy="643.14" r="1.8" fill="none" stroke="#262626" stroke-width="0.75" opacity="0.9"/>
<circle cx="157.17" cy="639.85" r="1.8" fill="none" stroke="#262626" stroke-width="0.75" opacity="0.9"/>
<circle cx="153.94" cy="642.87" r="1.8" fill="none" stroke="#262626" stroke-width="0.75" opacity="0.9"/>
<circle cx="149.96" cy="642.85" r="1.8" fill="none" stroke="#262626" stroke-width="0.75" opacity="0.9"/>
<circle cx="148.61" cy="648.36" r="1.8" fill="none" stroke="#262626" stroke-width="0.75" opacity="0.9"/>
<path d="M167.05,680.50 V609.24 H177.55 V680.50" fill="#fff" stroke="#a8282c" stroke-width="1.7" stroke-linejoin="miter"/>
<line x1="172.30" y1="603.01" x2="172.30" y2="615.47" stroke="#a8282c" stroke-width="1.3"/>
<line x1="169.10" y1="603.01" x2="175.50" y2="603.01" stroke="#a8282c" stroke-width="1.3"/>
<line x1="169.10" y1="615.47" x2="175.50" y2="615.47" stroke="#a8282c" stroke-width="1.3"/>
<circle cx="174.24" cy="612.92" r="1.8" fill="none" stroke="#a8282c" stroke-width="0.75" opacity="0.9"/>
<circle cx="170.35" cy="603.86" r="1.8" fill="none" stroke="#a8282c" stroke-width="0.75" opacity="0.9"/>
<circle cx="176.12" cy="617.46" r="1.8" fill="none" stroke="#a8282c" stroke-width="0.75" opacity="0.9"/>
<circle cx="174.86" cy="613.49" r="1.8" fill="none" stroke="#a8282c" stroke-width="0.75" opacity="0.9"/>
<circle cx="170.66" cy="611.42" r="1.8" fill="none" stroke="#a8282c" stroke-width="0.75" opacity="0.9"/>
<circle cx="171.67" cy="601.35" r="1.8" fill="none" stroke="#a8282c" stroke-width="0.75" opacity="0.9"/>
<circle cx="168.02" cy="612.27" r="1.8" fill="none" stroke="#a8282c" stroke-width="0.75" opacity="0.9"/>
<line x1="36.20" y1="531.00" x2="36.20" y2="681.10" stroke="#2a2a2a" stroke-width="1.4"/>
<line x1="35.50" y1="680.50" x2="185.50" y2="680.50" stroke="#2a2a2a" stroke-width="1.4"/>
<line x1="33.20" y1="680.50" x2="36.20" y2="680.50" stroke="#2a2a2a" stroke-width="1.2"/>
<text x="32.60" y="684.00" font-size="10" text-anchor="end" fill="#1e1e1e">0</text>
<line x1="33.20" y1="630.67" x2="36.20" y2="630.67" stroke="#2a2a2a" stroke-width="1.2"/>
<text x="32.60" y="634.17" font-size="10" text-anchor="end" fill="#1e1e1e">2</text>
<line x1="33.20" y1="580.83" x2="36.20" y2="580.83" stroke="#2a2a2a" stroke-width="1.2"/>
<text x="32.60" y="584.33" font-size="10" text-anchor="end" fill="#1e1e1e">4</text>
<line x1="33.20" y1="531.00" x2="36.20" y2="531.00" stroke="#2a2a2a" stroke-width="1.2"/>
<text x="32.60" y="534.50" font-size="10" text-anchor="end" fill="#1e1e1e">6</text>
<line x1="58.70" y1="680.50" x2="58.70" y2="683.50" stroke="#2a2a2a" stroke-width="1.2"/>
<line x1="110.50" y1="680.50" x2="110.50" y2="683.50" stroke="#2a2a2a" stroke-width="1.2"/>
<line x1="162.30" y1="680.50" x2="162.30" y2="683.50" stroke="#2a2a2a" stroke-width="1.2"/>
<text x="58.20" y="693.80" font-size="10" text-anchor="middle" fill="#1e1e1e">WT</text>
<text x="110.40" y="693.80" font-size="10" text-anchor="middle" fill="#1e1e1e">MG53<tspan font-size="6.0" dx="0.80" dy="-4.2" letter-spacing="0.60">-/-</tspan></text>
<text x="162.50" y="693.80" font-size="10" text-anchor="middle" fill="#1e1e1e">MG53<tspan font-size="6.0" dx="0.80" dy="-4.2" letter-spacing="0.60">-/-</tspan></text>
<text x="162.50" y="705.20" font-size="10" text-anchor="middle" fill="#1e1e1e">+rhMG53</text>
<rect x="43.50" y="532.60" width="13.6" height="3.6" fill="#fff" stroke="#262626" stroke-width="1.4"/>
<text x="67.40" y="537.80" font-size="10" text-anchor="start" fill="#1e1e1e">Pair fed</text>
<rect x="118.40" y="532.60" width="13.6" height="3.6" fill="#fff" stroke="#a8282c" stroke-width="1.4"/>
<text x="142.50" y="537.80" font-size="10" text-anchor="start" fill="#1e1e1e">EtOH fed</text>
<line x1="40.80" y1="571.10" x2="70.50" y2="571.10" stroke="#a8a8a8" stroke-width="1.5"/>
<text x="55.50" y="568.20" font-size="6.9" text-anchor="middle" fill="#1e1e1e">p &lt; 0.0001</text>
<line x1="68.00" y1="553.30" x2="122.00" y2="553.30" stroke="#a8a8a8" stroke-width="1.5"/>
<text x="92.00" y="550.00" font-size="6.9" text-anchor="middle" fill="#1e1e1e">p &lt; 0.0001</text>
<line x1="124.20" y1="553.30" x2="173.20" y2="553.30" stroke="#a8a8a8" stroke-width="1.5"/>
<text x="150.20" y="550.00" font-size="6.9" text-anchor="middle" fill="#1e1e1e">p &lt; 0.0001</text>
<text x="20.20" y="608.50" font-size="9.6" text-anchor="middle" fill="#1e1e1e" transform="rotate(-90 20.2 608.5)">Serum TNF-α (pg/mL)</text>
<text x="199.60" y="536.00" font-size="17.5" text-anchor="start" fill="#1e1e1e">J</text>
<text x="257.50" y="545.00" font-size="9.0" text-anchor="middle" fill="#1e1e1e">WT</text>
<text x="340.80" y="545.00" font-size="9.2" text-anchor="middle" fill="#1e1e1e">MG53<tspan font-size="5.5" dx="0.74" dy="-3.9" letter-spacing="0.55">-/-</tspan></text>
<text x="422.00" y="545.00" font-size="9.2" text-anchor="middle" fill="#1e1e1e">MG53<tspan font-size="5.5" dx="0.74" dy="-3.9" letter-spacing="0.55">-/-</tspan><tspan dy="3.9">+rhMG53</tspan></text>
<text x="214.60" y="584.20" font-size="10.4" text-anchor="middle" fill="#1e1e1e" transform="rotate(-90 214.6 584.2)">Pair fed</text>
<text x="214.60" y="649.70" font-size="10.4" text-anchor="middle" fill="#1e1e1e" transform="rotate(-90 214.6 649.7)">EtOH fed</text>
<g clip-path="url(#c102)">
<rect x="215.50" y="548.50" width="80.20" height="68.80" fill="rgb(206,156,98)"/>
<rect x="215.50" y="548.50" width="80.20" height="68.80" filter="url(#f103)"/>
<rect x="215.50" y="548.50" width="80.20" height="68.80" filter="url(#f104)"/>
<rect x="215.50" y="548.50" width="80.20" height="68.80" filter="url(#f105)"/>
<ellipse cx="253.9" cy="576.3" rx="4" ry="5.6" fill="#fdfaf4"/>
<path d="M223.5,596.5 l8,4" stroke="#f6ecd8" stroke-width="1.5"/>
</g>
<rect x="217.00" y="613.10" width="8.00" height="1.6" fill="#151515"/>
<g clip-path="url(#c106)">
<rect x="298.80" y="548.50" width="80.10" height="68.80" fill="rgb(208,160,100)"/>
<rect x="298.80" y="548.50" width="80.10" height="68.80" filter="url(#f107)"/>
<rect x="298.80" y="548.50" width="80.10" height="68.80" filter="url(#f108)"/>
<rect x="298.80" y="548.50" width="80.10" height="68.80" filter="url(#f109)"/>
<path d="M318.8,553.5 l2,18 M348.8,573.5 l-10,12 M358.8,596.5 l10,-4" stroke="#f6ecd8" stroke-width="1.2" fill="none"/>
</g>
<rect x="300.30" y="613.10" width="8.00" height="1.6" fill="#151515"/>
<g clip-path="url(#c110)">
<rect x="381.80" y="548.50" width="80.00" height="68.80" fill="rgb(214,150,96)"/>
<rect x="381.80" y="548.50" width="80.00" height="68.80" filter="url(#f111)"/>
<rect x="381.80" y="548.50" width="80.00" height="68.80" filter="url(#f112)"/>
<rect x="381.80" y="548.50" width="80.00" height="68.80" filter="url(#f113)"/>
<path d="M423.8,566.5 q7,2 5,9 q-3,6 -8,3 q-3,-7 3,-12 z M423.8,578.5 l3,14 l-3,1 z" fill="#fbf6ee"/>
</g>
<rect x="383.30" y="613.10" width="8.00" height="1.6" fill="#151515"/>
<g clip-path="url(#c114)">
<rect x="215.50" y="620.60" width="80.20" height="69.20" fill="rgb(190,176,104)"/>
<rect x="215.50" y="620.60" width="80.20" height="69.20" filter="url(#f115)"/>
<rect x="215.50" y="620.60" width="80.20" height="69.20" filter="url(#f116)"/>
<circle cx="295.2" cy="625.8" r="1.39" fill="#f4f2ea" opacity="1.0"/>
<circle cx="283.8" cy="682.6" r="1.85" fill="#f4f2ea" opacity="1.0"/>
<circle cx="263.4" cy="678.7" r="2.46" fill="#f4f2ea" opacity="1.0"/>
<circle cx="286.6" cy="676.8" r="1.77" fill="#f4f2ea" opacity="1.0"/>
<circle cx="240.8" cy="666.2" r="2.35" fill="#f4f2ea" opacity="1.0"/>
<circle cx="277.4" cy="678.4" r="2.20" fill="#f4f2ea" opacity="1.0"/>
<circle cx="249.3" cy="666.2" r="1.85" fill="#f4f2ea" opacity="1.0"/>
<circle cx="268.1" cy="638.0" r="1.32" fill="#f4f2ea" opacity="1.0"/>
<circle cx="243.4" cy="678.6" r="1.44" fill="#f4f2ea" opacity="1.0"/>
<circle cx="244.3" cy="688.5" r="1.62" fill="#f4f2ea" opacity="1.0"/>
<circle cx="268.3" cy="663.9" r="1.25" fill="#f4f2ea" opacity="1.0"/>
<circle cx="261.1" cy="660.7" r="1.97" fill="#f4f2ea" opacity="1.0"/>
<circle cx="251.4" cy="664.3" r="1.25" fill="#f4f2ea" opacity="1.0"/>
<circle cx="284.1" cy="632.7" r="1.87" fill="#f4f2ea" opacity="1.0"/>
<circle cx="274.8" cy="658.6" r="2.45" fill="#f4f2ea" opacity="1.0"/>
<circle cx="224.8" cy="670.0" r="1.70" fill="#f4f2ea" opacity="1.0"/>
<circle cx="249.3" cy="655.0" r="2.36" fill="#f4f2ea" opacity="1.0"/>
<circle cx="222.9" cy="650.9" r="1.72" fill="#f4f2ea" opacity="1.0"/>
<circle cx="235.0" cy="679.2" r="2.01" fill="#f4f2ea" opacity="1.0"/>
<circle cx="236.7" cy="657.1" r="2.08" fill="#f4f2ea" opacity="1.0"/>
<circle cx="226.3" cy="642.5" r="1.92" fill="#f4f2ea" opacity="1.0"/>
<circle cx="277.8" cy="628.8" r="1.08" fill="#f4f2ea" opacity="1.0"/>
<circle cx="249.2" cy="662.6" r="2.21" fill="#f4f2ea" opacity="1.0"/>
<circle cx="248.6" cy="679.6" r="1.37" fill="#f4f2ea" opacity="1.0"/>
<circle cx="243.0" cy="629.1" r="1.74" fill="#f4f2ea" opacity="1.0"/>
<circle cx="258.5" cy="637.7" r="1.76" fill="#f4f2ea" opacity="1.0"/>
<circle cx="264.4" cy="625.4" r="1.98" fill="#f4f2ea" opacity="1.0"/>
<circle cx="217.5" cy="665.3" r="1.13" fill="#f4f2ea" opacity="1.0"/>
<circle cx="245.2" cy="672.2" r="2.48" fill="#f4f2ea" opacity="1.0"/>
<circle cx="235.0" cy="686.6" r="2.27" fill="#f4f2ea" opacity="1.0"/>
<circle cx="284.4" cy="635.7" r="1.99" fill="#f4f2ea" opacity="1.0"/>
<circle cx="215.6" cy="668.9" r="1.15" fill="#f4f2ea" opacity="1.0"/>
<circle cx="232.4" cy="657.4" r="1.29" fill="#f4f2ea" opacity="1.0"/>
<circle cx="220.5" cy="622.6" r="1.44" fill="#f4f2ea" opacity="1.0"/>
<circle cx="270.4" cy="628.1" r="2.03" fill="#f4f2ea" opacity="1.0"/>
<circle cx="265.0" cy="637.9" r="1.13" fill="#f4f2ea" opacity="1.0"/>
<ellipse cx="247.1" cy="657.0" rx="6.8" ry="7" fill="#f3efe0" stroke="#e04a3a" stroke-width="1.2"/>
<path d="M245.5,654.6 l2,5" stroke="#c9b040" stroke-width="2"/>
<path d="M279.5,655.6 L271.5,680.6" stroke="#e0b850" stroke-width="2.5"/>
</g>
<rect x="217.00" y="685.60" width="8.00" height="1.6" fill="#151515"/>
<g clip-path="url(#c117)">
<rect x="298.80" y="620.60" width="80.10" height="69.20" fill="rgb(176,150,86)"/>
<rect x="298.80" y="620.60" width="80.10" height="69.20" filter="url(#f118)"/>
<rect x="298.80" y="620.60" width="80.10" height="69.20" filter="url(#f119)"/>
<circle cx="315.1" cy="684.4" r="1.80" fill="#f2f2ee" opacity="1.0"/>
<circle cx="365.4" cy="651.3" r="1.21" fill="#f2f2ee" opacity="1.0"/>
<circle cx="335.0" cy="675.1" r="1.88" fill="#f2f2ee" opacity="1.0"/>
<circle cx="351.0" cy="660.9" r="1.28" fill="#f2f2ee" opacity="1.0"/>
<circle cx="360.0" cy="651.5" r="2.49" fill="#f2f2ee" opacity="1.0"/>
<circle cx="303.7" cy="647.4" r="2.06" fill="#f2f2ee" opacity="1.0"/>
<circle cx="356.0" cy="653.0" r="2.15" fill="#f2f2ee" opacity="1.0"/>
<circle cx="319.9" cy="641.0" r="2.41" fill="#f2f2ee" opacity="1.0"/>
<circle cx="327.0" cy="672.0" r="1.37" fill="#f2f2ee" opacity="1.0"/>
<circle cx="343.7" cy="654.0" r="1.26" fill="#f2f2ee" opacity="1.0"/>
<circle cx="340.1" cy="673.6" r="2.52" fill="#f2f2ee" opacity="1.0"/>
<circle cx="303.2" cy="643.0" r="2.09" fill="#f2f2ee" opacity="1.0"/>
<circle cx="330.2" cy="627.9" r="1.52" fill="#f2f2ee" opacity="1.0"/>
<circle cx="339.5" cy="687.7" r="2.26" fill="#f2f2ee" opacity="1.0"/>
<circle cx="357.8" cy="672.9" r="2.51" fill="#f2f2ee" opacity="1.0"/>
<circle cx="328.4" cy="689.1" r="1.58" fill="#f2f2ee" opacity="1.0"/>
<circle cx="306.6" cy="668.1" r="1.85" fill="#f2f2ee" opacity="1.0"/>
<circle cx="374.5" cy="656.6" r="2.48" fill="#f2f2ee" opacity="1.0"/>
<circle cx="354.3" cy="678.6" r="2.74" fill="#f2f2ee" opacity="1.0"/>
<circle cx="317.2" cy="672.2" r="2.67" fill="#f2f2ee" opacity="1.0"/>
<circle cx="338.0" cy="625.7" r="2.62" fill="#f2f2ee" opacity="1.0"/>
<circle cx="336.0" cy="639.2" r="1.36" fill="#f2f2ee" opacity="1.0"/>
<circle cx="373.8" cy="634.7" r="2.52" fill="#f2f2ee" opacity="1.0"/>
<circle cx="326.9" cy="638.1" r="2.51" fill="#f2f2ee" opacity="1.0"/>
<circle cx="311.7" cy="679.1" r="2.03" fill="#f2f2ee" opacity="1.0"/>
<circle cx="318.0" cy="622.2" r="2.10" fill="#f2f2ee" opacity="1.0"/>
<circle cx="324.1" cy="670.5" r="2.04" fill="#f2f2ee" opacity="1.0"/>
<circle cx="330.5" cy="655.1" r="1.21" fill="#f2f2ee" opacity="1.0"/>
<circle cx="312.1" cy="682.5" r="1.41" fill="#f2f2ee" opacity="1.0"/>
<circle cx="321.8" cy="671.4" r="1.35" fill="#f2f2ee" opacity="1.0"/>
<circle cx="328.6" cy="684.3" r="2.55" fill="#f2f2ee" opacity="1.0"/>
<circle cx="350.9" cy="649.9" r="2.00" fill="#f2f2ee" opacity="1.0"/>
<circle cx="325.1" cy="669.0" r="2.44" fill="#f2f2ee" opacity="1.0"/>
<circle cx="308.6" cy="652.7" r="1.34" fill="#f2f2ee" opacity="1.0"/>
<circle cx="354.7" cy="628.2" r="1.44" fill="#f2f2ee" opacity="1.0"/>
<circle cx="304.9" cy="680.1" r="1.80" fill="#f2f2ee" opacity="1.0"/>
<circle cx="313.0" cy="678.8" r="2.75" fill="#f2f2ee" opacity="1.0"/>
<circle cx="304.9" cy="680.5" r="2.44" fill="#f2f2ee" opacity="1.0"/>
<circle cx="342.7" cy="674.8" r="1.59" fill="#f2f2ee" opacity="1.0"/>
<circle cx="339.6" cy="684.4" r="1.30" fill="#f2f2ee" opacity="1.0"/>
<circle cx="345.6" cy="682.1" r="1.67" fill="#f2f2ee" opacity="1.0"/>
<circle cx="307.6" cy="685.8" r="2.38" fill="#f2f2ee" opacity="1.0"/>
<circle cx="335.5" cy="657.6" r="2.48" fill="#f2f2ee" opacity="1.0"/>
<circle cx="319.3" cy="629.1" r="1.96" fill="#f2f2ee" opacity="1.0"/>
<circle cx="317.4" cy="622.4" r="1.83" fill="#f2f2ee" opacity="1.0"/>
<circle cx="378.2" cy="671.3" r="2.76" fill="#f2f2ee" opacity="1.0"/>
<circle cx="348.8" cy="669.7" r="1.83" fill="#f2f2ee" opacity="1.0"/>
<circle cx="310.9" cy="642.2" r="1.78" fill="#f2f2ee" opacity="1.0"/>
<circle cx="335.3" cy="646.8" r="2.38" fill="#f2f2ee" opacity="1.0"/>
<circle cx="316.8" cy="663.3" r="2.78" fill="#f2f2ee" opacity="1.0"/>
<circle cx="357.9" cy="629.3" r="2.20" fill="#f2f2ee" opacity="1.0"/>
<circle cx="317.2" cy="661.7" r="2.02" fill="#f2f2ee" opacity="1.0"/>
<circle cx="350.5" cy="636.0" r="1.22" fill="#f2f2ee" opacity="1.0"/>
<circle cx="301.9" cy="641.5" r="2.44" fill="#f2f2ee" opacity="1.0"/>
<circle cx="349.5" cy="632.3" r="2.22" fill="#f2f2ee" opacity="1.0"/>
<circle cx="361.2" cy="643.0" r="1.51" fill="#f2f2ee" opacity="1.0"/>
<circle cx="375.4" cy="637.5" r="2.52" fill="#f2f2ee" opacity="1.0"/>
<circle cx="371.3" cy="628.9" r="2.49" fill="#f2f2ee" opacity="1.0"/>
<circle cx="340.4" cy="685.7" r="2.69" fill="#f2f2ee" opacity="1.0"/>
<circle cx="302.6" cy="621.5" r="1.68" fill="#f2f2ee" opacity="1.0"/>
<circle cx="321.1" cy="663.5" r="1.53" fill="#f2f2ee" opacity="1.0"/>
<circle cx="365.1" cy="662.0" r="2.71" fill="#f2f2ee" opacity="1.0"/>
<circle cx="327.9" cy="687.4" r="2.10" fill="#f2f2ee" opacity="1.0"/>
<circle cx="336.4" cy="666.0" r="1.30" fill="#f2f2ee" opacity="1.0"/>
<circle cx="309.2" cy="634.2" r="2.23" fill="#f2f2ee" opacity="1.0"/>
<circle cx="313.0" cy="651.8" r="2.16" fill="#f2f2ee" opacity="1.0"/>
<circle cx="300.8" cy="635.7" r="1.22" fill="#f2f2ee" opacity="1.0"/>
<circle cx="373.3" cy="655.7" r="2.38" fill="#f2f2ee" opacity="1.0"/>
<circle cx="303.8" cy="669.4" r="1.64" fill="#f2f2ee" opacity="1.0"/>
<circle cx="305.7" cy="664.0" r="2.50" fill="#f2f2ee" opacity="1.0"/>
<circle cx="359.6" cy="671.7" r="2.54" fill="#f2f2ee" opacity="1.0"/>
<circle cx="300.1" cy="681.5" r="1.28" fill="#f2f2ee" opacity="1.0"/>
<circle cx="332.0" cy="630.4" r="2.31" fill="#f2f2ee" opacity="1.0"/>
<circle cx="309.6" cy="626.1" r="2.62" fill="#f2f2ee" opacity="1.0"/>
<circle cx="343.6" cy="649.0" r="2.04" fill="#f2f2ee" opacity="1.0"/>
<ellipse cx="330.8" cy="648.6" rx="14" ry="12" fill="#c83828" opacity="0.55" filter="url(#soft)"/>
<path d="M327.5,644.6 L345.40000000000003,642.1 L350.2,675.6 L339.5,679.2 Z" fill="#f4f0e2" stroke="#d8342a" stroke-width="1.8" stroke-linejoin="round"/>
<path d="M332.8,648.6 L342.8,646.6 L345.8,670.6 L339.8,673.6 Z" fill="#cfc060" opacity="0.9"/>
</g>
<rect x="300.30" y="685.60" width="8.00" height="1.6" fill="#151515"/>
<g clip-path="url(#c120)">
<rect x="381.80" y="620.60" width="80.00" height="69.20" fill="rgb(194,150,90)"/>
<rect x="381.80" y="620.60" width="80.00" height="69.20" filter="url(#f121)"/>
<rect x="381.80" y="620.60" width="80.00" height="69.20" filter="url(#f122)"/>
<rect x="381.80" y="620.60" width="80.00" height="69.20" filter="url(#f123)"/>
<circle cx="428.3" cy="657.9" r="1.51" fill="#f4f1e6" opacity="1.0"/>
<circle cx="460.4" cy="674.2" r="1.13" fill="#f4f1e6" opacity="1.0"/>
<circle cx="424.6" cy="676.7" r="1.26" fill="#f4f1e6" opacity="1.0"/>
<circle cx="403.8" cy="633.9" r="1.57" fill="#f4f1e6" opacity="1.0"/>
<circle cx="386.8" cy="622.2" r="1.22" fill="#f4f1e6" opacity="1.0"/>
<circle cx="396.1" cy="637.0" r="1.31" fill="#f4f1e6" opacity="1.0"/>
<circle cx="443.4" cy="656.8" r="1.57" fill="#f4f1e6" opacity="1.0"/>
<circle cx="429.0" cy="644.1" r="1.38" fill="#f4f1e6" opacity="1.0"/>
<circle cx="398.5" cy="655.9" r="1.31" fill="#f4f1e6" opacity="1.0"/>
<circle cx="391.2" cy="650.4" r="1.47" fill="#f4f1e6" opacity="1.0"/>
<circle cx="428.2" cy="684.2" r="1.03" fill="#f4f1e6" opacity="1.0"/>
<circle cx="432.7" cy="651.4" r="0.84" fill="#f4f1e6" opacity="1.0"/>
<circle cx="431.4" cy="654.3" r="0.83" fill="#f4f1e6" opacity="1.0"/>
<circle cx="393.2" cy="657.1" r="1.52" fill="#f4f1e6" opacity="1.0"/>
<circle cx="399.9" cy="643.4" r="1.19" fill="#f4f1e6" opacity="1.0"/>
<circle cx="412.3" cy="679.9" r="1.17" fill="#f4f1e6" opacity="1.0"/>
<circle cx="428.8" cy="634.6" r="1.14" fill="#f4f1e6" opacity="1.0"/>
<circle cx="438.5" cy="641.7" r="1.31" fill="#f4f1e6" opacity="1.0"/>
<circle cx="429.6" cy="624.8" r="1.27" fill="#f4f1e6" opacity="1.0"/>
<circle cx="435.6" cy="636.7" r="0.82" fill="#f4f1e6" opacity="1.0"/>
<circle cx="392.2" cy="625.1" r="1.12" fill="#f4f1e6" opacity="1.0"/>
<circle cx="429.5" cy="647.6" r="0.81" fill="#f4f1e6" opacity="1.0"/>
<circle cx="421.5" cy="638.5" r="1.07" fill="#f4f1e6" opacity="1.0"/>
<circle cx="399.6" cy="651.6" r="1.16" fill="#f4f1e6" opacity="1.0"/>
<circle cx="383.3" cy="682.3" r="0.80" fill="#f4f1e6" opacity="1.0"/>
<circle cx="434.7" cy="643.9" r="1.37" fill="#f4f1e6" opacity="1.0"/>
<circle cx="418.7" cy="641.7" r="1.26" fill="#f4f1e6" opacity="1.0"/>
<circle cx="458.2" cy="675.2" r="1.23" fill="#f4f1e6" opacity="1.0"/>
<circle cx="431.2" cy="673.2" r="1.23" fill="#f4f1e6" opacity="1.0"/>
<circle cx="398.0" cy="623.0" r="1.21" fill="#f4f1e6" opacity="1.0"/>
<path d="M417.8,638.6 q6,-2 9,6 l4,28 q-3,5 -7,2 q-6,-16 -6,-36 z" fill="#fbf8f0" stroke="#d8503a" stroke-width="1"/>
</g>
<rect x="383.30" y="685.60" width="8.00" height="1.6" fill="#151515"/>
<text x="472.70" y="536.00" font-size="17.5" text-anchor="start" fill="#1e1e1e">K</text>
<path d="M529.15,680.40 V662.56 H539.65 V680.40" fill="#fff" stroke="#262626" stroke-width="1.7" stroke-linejoin="miter"/>
<line x1="534.40" y1="660.33" x2="534.40" y2="664.79" stroke="#262626" stroke-width="1.3"/>
<line x1="531.20" y1="660.33" x2="537.60" y2="660.33" stroke="#262626" stroke-width="1.3"/>
<line x1="531.20" y1="664.79" x2="537.60" y2="664.79" stroke="#262626" stroke-width="1.3"/>
<circle cx="534.31" cy="662.18" r="1.8" fill="none" stroke="#262626" stroke-width="0.75" opacity="0.9"/>
<circle cx="536.71" cy="662.15" r="1.8" fill="none" stroke="#262626" stroke-width="0.75" opacity="0.9"/>
<circle cx="533.45" cy="662.78" r="1.8" fill="none" stroke="#262626" stroke-width="0.75" opacity="0.9"/>
<circle cx="535.87" cy="661.80" r="1.8" fill="none" stroke="#262626" stroke-width="0.75" opacity="0.9"/>
<circle cx="531.96" cy="662.70" r="1.8" fill="none" stroke="#262626" stroke-width="0.75" opacity="0.9"/>
<circle cx="537.81" cy="662.70" r="1.8" fill="none" stroke="#262626" stroke-width="0.75" opacity="0.9"/>
<circle cx="529.66" cy="664.34" r="1.8" fill="none" stroke="#262626" stroke-width="0.75" opacity="0.9"/>
<path d="M547.75,680.40 V606.05 H558.25 V680.40" fill="#fff" stroke="#a8282c" stroke-width="1.7" stroke-linejoin="miter"/>
<line x1="553.00" y1="600.10" x2="553.00" y2="612.00" stroke="#a8282c" stroke-width="1.3"/>
<line x1="549.80" y1="600.10" x2="556.20" y2="600.10" stroke="#a8282c" stroke-width="1.3"/>
<line x1="549.80" y1="612.00" x2="556.20" y2="612.00" stroke="#a8282c" stroke-width="1.3"/>
<circle cx="552.02" cy="604.89" r="1.8" fill="none" stroke="#a8282c" stroke-width="0.75" opacity="0.9"/>
<circle cx="552.19" cy="601.75" r="1.8" fill="none" stroke="#a8282c" stroke-width="0.75" opacity="0.9"/>
<circle cx="548.49" cy="614.60" r="1.8" fill="none" stroke="#a8282c" stroke-width="0.75" opacity="0.9"/>
<circle cx="557.74" cy="599.21" r="1.8" fill="none" stroke="#a8282c" stroke-width="0.75" opacity="0.9"/>
<circle cx="553.41" cy="603.69" r="1.8" fill="none" stroke="#a8282c" stroke-width="0.75" opacity="0.9"/>
<circle cx="549.63" cy="603.34" r="1.8" fill="none" stroke="#a8282c" stroke-width="0.75" opacity="0.9"/>
<circle cx="551.79" cy="599.89" r="1.8" fill="none" stroke="#a8282c" stroke-width="0.75" opacity="0.9"/>
<path d="M580.45,680.40 V667.76 H590.95 V680.40" fill="#fff" stroke="#262626" stroke-width="1.7" stroke-linejoin="miter"/>
<line x1="585.70" y1="665.90" x2="585.70" y2="669.62" stroke="#262626" stroke-width="1.3"/>
<line x1="582.50" y1="665.90" x2="588.90" y2="665.90" stroke="#262626" stroke-width="1.3"/>
<line x1="582.50" y1="669.62" x2="588.90" y2="669.62" stroke="#262626" stroke-width="1.3"/>
<circle cx="590.34" cy="669.60" r="1.8" fill="none" stroke="#262626" stroke-width="0.75" opacity="0.9"/>
<circle cx="581.05" cy="667.39" r="1.8" fill="none" stroke="#262626" stroke-width="0.75" opacity="0.9"/>
<circle cx="587.60" cy="668.22" r="1.8" fill="none" stroke="#262626" stroke-width="0.75" opacity="0.9"/>
<circle cx="580.91" cy="665.91" r="1.8" fill="none" stroke="#262626" stroke-width="0.75" opacity="0.9"/>
<circle cx="588.11" cy="667.25" r="1.8" fill="none" stroke="#262626" stroke-width="0.75" opacity="0.9"/>
<circle cx="581.29" cy="667.66" r="1.8" fill="none" stroke="#262626" stroke-width="0.75" opacity="0.9"/>
<circle cx="581.88" cy="665.81" r="1.8" fill="none" stroke="#262626" stroke-width="0.75" opacity="0.9"/>
<path d="M600.05,680.40 V572.59 H610.95 V680.40" fill="#fff" stroke="#a8282c" stroke-width="1.7" stroke-linejoin="miter"/>
<line x1="605.50" y1="568.88" x2="605.50" y2="576.31" stroke="#a8282c" stroke-width="1.3"/>
<line x1="602.30" y1="568.88" x2="608.70" y2="568.88" stroke="#a8282c" stroke-width="1.3"/>
<line x1="602.30" y1="576.31" x2="608.70" y2="576.31" stroke="#a8282c" stroke-width="1.3"/>
<circle cx="604.91" cy="570.40" r="1.8" fill="none" stroke="#a8282c" stroke-width="0.75" opacity="0.9"/>
<circle cx="602.35" cy="566.70" r="1.8" fill="none" stroke="#a8282c" stroke-width="0.75" opacity="0.9"/>
<circle cx="608.20" cy="567.43" r="1.8" fill="none" stroke="#a8282c" stroke-width="0.75" opacity="0.9"/>
<circle cx="609.18" cy="577.32" r="1.8" fill="none" stroke="#a8282c" stroke-width="0.75" opacity="0.9"/>
<circle cx="605.07" cy="573.56" r="1.8" fill="none" stroke="#a8282c" stroke-width="0.75" opacity="0.9"/>
<circle cx="609.86" cy="569.37" r="1.8" fill="none" stroke="#a8282c" stroke-width="0.75" opacity="0.9"/>
<path d="M632.15,680.40 V665.90 H643.05 V680.40" fill="#fff" stroke="#262626" stroke-width="1.7" stroke-linejoin="miter"/>
<line x1="637.60" y1="663.67" x2="637.60" y2="668.13" stroke="#262626" stroke-width="1.3"/>
<line x1="634.40" y1="663.67" x2="640.80" y2="663.67" stroke="#262626" stroke-width="1.3"/>
<line x1="634.40" y1="668.13" x2="640.80" y2="668.13" stroke="#262626" stroke-width="1.3"/>
<circle cx="637.10" cy="665.52" r="1.8" fill="none" stroke="#262626" stroke-width="0.75" opacity="0.9"/>
<circle cx="634.68" cy="665.50" r="1.8" fill="none" stroke="#262626" stroke-width="0.75" opacity="0.9"/>
<circle cx="640.35" cy="666.13" r="1.8" fill="none" stroke="#262626" stroke-width="0.75" opacity="0.9"/>
<circle cx="640.20" cy="665.15" r="1.8" fill="none" stroke="#262626" stroke-width="0.75" opacity="0.9"/>
<circle cx="638.61" cy="666.05" r="1.8" fill="none" stroke="#262626" stroke-width="0.75" opacity="0.9"/>
<circle cx="640.04" cy="666.04" r="1.8" fill="none" stroke="#262626" stroke-width="0.75" opacity="0.9"/>
<circle cx="637.53" cy="667.69" r="1.8" fill="none" stroke="#262626" stroke-width="0.75" opacity="0.9"/>
<path d="M651.45,680.40 V636.53 H662.25 V680.40" fill="#fff" stroke="#a8282c" stroke-width="1.7" stroke-linejoin="miter"/>
<line x1="656.85" y1="627.61" x2="656.85" y2="645.46" stroke="#a8282c" stroke-width="1.3"/>
<line x1="653.65" y1="627.61" x2="660.05" y2="627.61" stroke="#a8282c" stroke-width="1.3"/>
<line x1="653.65" y1="645.46" x2="660.05" y2="645.46" stroke="#a8282c" stroke-width="1.3"/>
<circle cx="656.75" cy="636.97" r="1.8" fill="none" stroke="#a8282c" stroke-width="0.75" opacity="0.9"/>
<circle cx="652.51" cy="640.40" r="1.8" fill="none" stroke="#a8282c" stroke-width="0.75" opacity="0.9"/>
<circle cx="654.32" cy="631.79" r="1.8" fill="none" stroke="#a8282c" stroke-width="0.75" opacity="0.9"/>
<circle cx="660.53" cy="639.94" r="1.8" fill="none" stroke="#a8282c" stroke-width="0.75" opacity="0.9"/>
<circle cx="659.59" cy="635.12" r="1.8" fill="none" stroke="#a8282c" stroke-width="0.75" opacity="0.9"/>
<circle cx="654.95" cy="632.02" r="1.8" fill="none" stroke="#a8282c" stroke-width="0.75" opacity="0.9"/>
<circle cx="652.54" cy="627.59" r="1.8" fill="none" stroke="#a8282c" stroke-width="0.75" opacity="0.9"/>
<line x1="519.60" y1="531.70" x2="519.60" y2="681.00" stroke="#2a2a2a" stroke-width="1.4"/>
<line x1="518.90" y1="680.40" x2="670.50" y2="680.40" stroke="#2a2a2a" stroke-width="1.4"/>
<line x1="516.60" y1="680.40" x2="519.60" y2="680.40" stroke="#2a2a2a" stroke-width="1.2"/>
<text x="516.00" y="683.90" font-size="10" text-anchor="end" fill="#1e1e1e">0</text>
<line x1="516.60" y1="643.23" x2="519.60" y2="643.23" stroke="#2a2a2a" stroke-width="1.2"/>
<text x="516.00" y="646.73" font-size="10" text-anchor="end" fill="#1e1e1e">5</text>
<line x1="516.60" y1="606.05" x2="519.60" y2="606.05" stroke="#2a2a2a" stroke-width="1.2"/>
<text x="516.00" y="609.55" font-size="10" text-anchor="end" fill="#1e1e1e">10</text>
<line x1="516.60" y1="568.88" x2="519.60" y2="568.88" stroke="#2a2a2a" stroke-width="1.2"/>
<text x="516.00" y="572.38" font-size="10" text-anchor="end" fill="#1e1e1e">15</text>
<line x1="516.60" y1="531.70" x2="519.60" y2="531.70" stroke="#2a2a2a" stroke-width="1.2"/>
<text x="516.00" y="535.20" font-size="10" text-anchor="end" fill="#1e1e1e">20</text>
<line x1="543.70" y1="680.40" x2="543.70" y2="683.40" stroke="#2a2a2a" stroke-width="1.2"/>
<line x1="595.50" y1="680.40" x2="595.50" y2="683.40" stroke="#2a2a2a" stroke-width="1.2"/>
<line x1="647.20" y1="680.40" x2="647.20" y2="683.40" stroke="#2a2a2a" stroke-width="1.2"/>
<text x="543.70" y="695.00" font-size="10" text-anchor="middle" fill="#1e1e1e">WT</text>
<text x="595.30" y="695.00" font-size="10" text-anchor="middle" fill="#1e1e1e">MG53<tspan font-size="6.0" dx="0.80" dy="-4.2" letter-spacing="0.60">-/-</tspan></text>
<text x="647.20" y="695.00" font-size="10" text-anchor="middle" fill="#1e1e1e">MG53<tspan font-size="6.0" dx="0.80" dy="-4.2" letter-spacing="0.60">-/-</tspan></text>
<text x="646.40" y="705.20" font-size="10" text-anchor="middle" fill="#1e1e1e">+rhMG53</text>
<rect x="529.60" y="541.40" width="13.6" height="3.6" fill="#fff" stroke="#262626" stroke-width="1.4"/>
<text x="550.10" y="546.60" font-size="10" text-anchor="start" fill="#1e1e1e">Pair fed</text>
<rect x="601.80" y="541.40" width="13.6" height="3.6" fill="#fff" stroke="#a8282c" stroke-width="1.4"/>
<text x="621.40" y="546.60" font-size="10" text-anchor="start" fill="#1e1e1e">EtOH fed</text>
<line x1="528.30" y1="592.70" x2="555.60" y2="592.70" stroke="#a8a8a8" stroke-width="1.5"/>
<text x="541.50" y="590.20" font-size="6.9" text-anchor="middle" fill="#1e1e1e">p &lt; 0.0001</text>
<line x1="557.50" y1="561.60" x2="603.10" y2="561.60" stroke="#a8a8a8" stroke-width="1.5"/>
<text x="580.60" y="558.90" font-size="6.9" text-anchor="middle" fill="#1e1e1e">p &lt; 0.0001</text>
<line x1="608.90" y1="561.60" x2="657.70" y2="561.60" stroke="#a8a8a8" stroke-width="1.5"/>
<text x="633.60" y="558.90" font-size="6.9" text-anchor="middle" fill="#1e1e1e">p &lt; 0.0001</text>
<text x="500.60" y="610.20" font-size="10.3" text-anchor="middle" fill="#1e1e1e" transform="rotate(-90 500.6 610.2)">Collagen I mRNA level</text>
</svg></body></html>
